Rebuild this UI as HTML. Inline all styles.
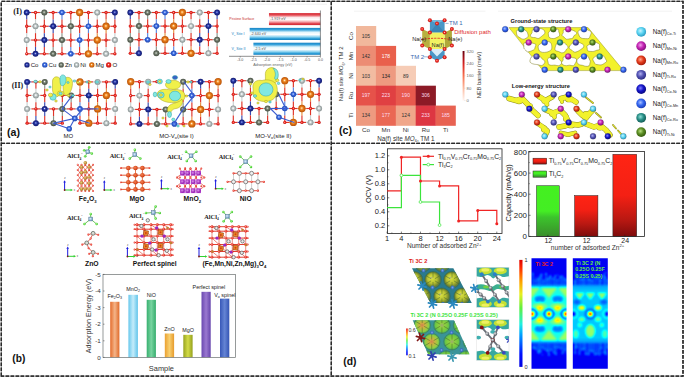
<!DOCTYPE html>
<html><head><meta charset="utf-8"><style>
html,body{margin:0;padding:0;background:#fff;overflow:hidden;}
svg{display:block;}
</style></head><body>
<svg width="685" height="378" viewBox="0 0 685 378">
<defs><radialGradient id="atC" cx="0.5" cy="0.5" r="0.55" fx="0.46" fy="0.44"><stop offset="0" stop-color="#ffffff" stop-opacity="0.95"/><stop offset="0.12" stop-color="#7080d8"/><stop offset="0.42" stop-color="#24329e"/><stop offset="1" stop-color="#101868"/></radialGradient><radialGradient id="atu" cx="0.5" cy="0.5" r="0.55" fx="0.46" fy="0.44"><stop offset="0" stop-color="#ffffff" stop-opacity="0.95"/><stop offset="0.12" stop-color="#a0bcff"/><stop offset="0.42" stop-color="#3a6ade"/><stop offset="1" stop-color="#1c40a8"/></radialGradient><radialGradient id="atZ" cx="0.5" cy="0.5" r="0.55" fx="0.46" fy="0.44"><stop offset="0" stop-color="#ffffff" stop-opacity="0.95"/><stop offset="0.12" stop-color="#b8c0b4"/><stop offset="0.42" stop-color="#6e786a"/><stop offset="1" stop-color="#40483c"/></radialGradient><radialGradient id="atN" cx="0.5" cy="0.5" r="0.55" fx="0.46" fy="0.44"><stop offset="0" stop-color="#ffffff" stop-opacity="0.95"/><stop offset="0.12" stop-color="#f4f8f8"/><stop offset="0.42" stop-color="#c0c8c8"/><stop offset="1" stop-color="#7c8686"/></radialGradient><radialGradient id="atM" cx="0.5" cy="0.5" r="0.55" fx="0.46" fy="0.44"><stop offset="0" stop-color="#ffffff" stop-opacity="0.95"/><stop offset="0.12" stop-color="#ffc880"/><stop offset="0.42" stop-color="#e87c18"/><stop offset="1" stop-color="#b04c06"/></radialGradient><radialGradient id="ato" cx="0.5" cy="0.5" r="0.55" fx="0.46" fy="0.44"><stop offset="0" stop-color="#ffffff" stop-opacity="0.95"/><stop offset="0.12" stop-color="#ff8a80"/><stop offset="0.42" stop-color="#ec2a22"/><stop offset="1" stop-color="#b81414"/></radialGradient><linearGradient id="redbar" x1="0" y1="0" x2="0" y2="1"><stop offset="0" stop-color="#d42832"/><stop offset="0.16" stop-color="#e44a52"/><stop offset="0.36" stop-color="#fce8ea"/><stop offset="0.55" stop-color="#ffffff"/><stop offset="0.74" stop-color="#f4a0a6"/><stop offset="0.88" stop-color="#e0404a"/><stop offset="1" stop-color="#d02832"/></linearGradient><linearGradient id="bluebar" x1="0" y1="0" x2="0" y2="1"><stop offset="0" stop-color="#1884c4"/><stop offset="0.16" stop-color="#38a4dc"/><stop offset="0.36" stop-color="#e4f6fc"/><stop offset="0.55" stop-color="#ffffff"/><stop offset="0.74" stop-color="#90d4f0"/><stop offset="0.88" stop-color="#30a0d8"/><stop offset="1" stop-color="#1480c0"/></linearGradient><radialGradient id="clg" cx="0.4" cy="0.4" r="0.6"><stop offset="0" stop-color="#b0ff90"/><stop offset="1" stop-color="#30c020"/></radialGradient><radialGradient id="alg" cx="0.4" cy="0.4" r="0.6"><stop offset="0" stop-color="#e0f0ff"/><stop offset="1" stop-color="#6a9ac0"/></radialGradient><radialGradient id="feg" cx="0.4" cy="0.4" r="0.6"><stop offset="0" stop-color="#f0d080"/><stop offset="1" stop-color="#a07018"/></radialGradient><radialGradient id="mgog" cx="0.4" cy="0.4" r="0.6"><stop offset="0" stop-color="#f88050"/><stop offset="1" stop-color="#c83810"/></radialGradient><radialGradient id="mng" cx="0.4" cy="0.4" r="0.6"><stop offset="0" stop-color="#e090f0"/><stop offset="1" stop-color="#8a18a8"/></radialGradient><radialGradient id="og" cx="0.4" cy="0.4" r="0.6"><stop offset="0" stop-color="#ff9080"/><stop offset="1" stop-color="#d81810"/></radialGradient><linearGradient id="bFe" x1="0" x2="1"><stop offset="0" stop-color="#e46c2c"/><stop offset="0.5" stop-color="#f4b488"/><stop offset="1" stop-color="#e06a2a"/></linearGradient><linearGradient id="bMn" x1="0" x2="1"><stop offset="0" stop-color="#68c8ec"/><stop offset="0.5" stop-color="#c4ecfa"/><stop offset="1" stop-color="#60c4ea"/></linearGradient><linearGradient id="bNi" x1="0" x2="1"><stop offset="0" stop-color="#38b070"/><stop offset="0.5" stop-color="#78d4a0"/><stop offset="1" stop-color="#34ac6c"/></linearGradient><linearGradient id="bZn" x1="0" x2="1"><stop offset="0" stop-color="#eaa030"/><stop offset="0.5" stop-color="#f8d070"/><stop offset="1" stop-color="#e69a2c"/></linearGradient><linearGradient id="bMg" x1="0" x2="1"><stop offset="0" stop-color="#98a420"/><stop offset="0.5" stop-color="#d4dc48"/><stop offset="1" stop-color="#94a01c"/></linearGradient><linearGradient id="bPS" x1="0" x2="1"><stop offset="0" stop-color="#6a48b0"/><stop offset="0.5" stop-color="#9a78d0"/><stop offset="1" stop-color="#6644ac"/></linearGradient><linearGradient id="bVo" x1="0" x2="1"><stop offset="0" stop-color="#3858b8"/><stop offset="0.5" stop-color="#6484d4"/><stop offset="1" stop-color="#3454b4"/></linearGradient><radialGradient id="nacy" cx="0.42" cy="0.4" r="0.62"><stop offset="0" stop-color="#c8f4ff"/><stop offset="0.5" stop-color="#5ad4f2"/><stop offset="1" stop-color="#2a98c0"/></radialGradient><radialGradient id="namg" cx="0.42" cy="0.4" r="0.62"><stop offset="0" stop-color="#f0a0ec"/><stop offset="0.5" stop-color="#c424b4"/><stop offset="1" stop-color="#80107a"/></radialGradient><radialGradient id="nard" cx="0.42" cy="0.4" r="0.62"><stop offset="0" stop-color="#ffa890"/><stop offset="0.5" stop-color="#e43c1c"/><stop offset="1" stop-color="#a01808"/></radialGradient><radialGradient id="nasl" cx="0.42" cy="0.4" r="0.62"><stop offset="0" stop-color="#b0b0f0"/><stop offset="0.5" stop-color="#5454b4"/><stop offset="1" stop-color="#2a2a80"/></radialGradient><radialGradient id="nanv" cx="0.42" cy="0.4" r="0.62"><stop offset="0" stop-color="#8080ff"/><stop offset="0.5" stop-color="#1414c8"/><stop offset="1" stop-color="#080878"/></radialGradient><radialGradient id="nabl" cx="0.42" cy="0.4" r="0.62"><stop offset="0" stop-color="#a8c0ff"/><stop offset="0.5" stop-color="#3466f0"/><stop offset="1" stop-color="#1a3ab0"/></radialGradient><radialGradient id="natl" cx="0.42" cy="0.4" r="0.62"><stop offset="0" stop-color="#90e0d8"/><stop offset="0.5" stop-color="#2a9088"/><stop offset="1" stop-color="#135a54"/></radialGradient><radialGradient id="naol" cx="0.42" cy="0.4" r="0.62"><stop offset="0" stop-color="#b8e080"/><stop offset="0.5" stop-color="#5a8c22"/><stop offset="1" stop-color="#335810"/></radialGradient><linearGradient id="nebcb" x1="0" y1="1" x2="0" y2="0"><stop offset="0" stop-color="#fff5f0"/><stop offset="0.25" stop-color="#fcbba1"/><stop offset="0.5" stop-color="#f8704e"/><stop offset="0.75" stop-color="#d42020"/><stop offset="1" stop-color="#6a000e"/></linearGradient><linearGradient id="cg" x1="0" y1="0" x2="0" y2="1"><stop offset="0" stop-color="#44f020"/><stop offset="0.5" stop-color="#44ee24"/><stop offset="0.62" stop-color="#3cc42c"/><stop offset="1" stop-color="#3a8e2a"/></linearGradient><linearGradient id="cr" x1="0" y1="0" x2="0" y2="1"><stop offset="0" stop-color="#ff2414"/><stop offset="0.35" stop-color="#f42014"/><stop offset="0.7" stop-color="#b81812"/><stop offset="1" stop-color="#7e0c0c"/></linearGradient><linearGradient id="cr2" x1="0" y1="0" x2="0" y2="1"><stop offset="0" stop-color="#ff2414"/><stop offset="0.5" stop-color="#f42014"/><stop offset="0.8" stop-color="#b81812"/><stop offset="1" stop-color="#7e0c0c"/></linearGradient><linearGradient id="jet" x1="0" y1="1" x2="0" y2="0"><stop offset="0" stop-color="#0000e0"/><stop offset="0.12" stop-color="#0010ff"/><stop offset="0.3" stop-color="#00a0ff"/><stop offset="0.4" stop-color="#20f0e0"/><stop offset="0.55" stop-color="#60f040"/><stop offset="0.68" stop-color="#e8f020"/><stop offset="0.8" stop-color="#ffa000"/><stop offset="0.92" stop-color="#ff3000"/><stop offset="1" stop-color="#e00000"/></linearGradient><filter id="jetf" x="-5%" y="-5%" width="110%" height="110%" color-interpolation-filters="sRGB"><feGaussianBlur stdDeviation="0.9"/><feComponentTransfer><feFuncR type="table" tableValues="0 0 0 0 0.5 1 1 1 0.5"/><feFuncG type="table" tableValues="0 0 0.5 1 1 1 0.5 0 0"/><feFuncB type="table" tableValues="0.5 1 1 1 0.5 0 0 0 0"/></feComponentTransfer></filter><radialGradient id="tvy" cx="0.5" cy="0.5" r="0.5" fx="0.38" fy="0.36"><stop offset="0" stop-color="#a8a890"/><stop offset="0.18" stop-color="#d4dc40"/><stop offset="0.55" stop-color="#b8c030"/><stop offset="0.85" stop-color="#6a8030"/><stop offset="1" stop-color="#2a7088"/></radialGradient><radialGradient id="tvo" cx="0.5" cy="0.5" r="0.5"><stop offset="0" stop-color="#d08050"/><stop offset="0.3" stop-color="#d0b040"/><stop offset="0.75" stop-color="#90d040"/><stop offset="0.92" stop-color="#50a860"/><stop offset="1" stop-color="#3a9c98"/></radialGradient><radialGradient id="tvg" cx="0.5" cy="0.5" r="0.5"><stop offset="0" stop-color="#a0a870"/><stop offset="0.3" stop-color="#90d040"/><stop offset="0.75" stop-color="#70c840"/><stop offset="0.92" stop-color="#40a070"/><stop offset="1" stop-color="#3a9c98"/></radialGradient><radialGradient id="grayat" cx="0.4" cy="0.4" r="0.6"><stop offset="0" stop-color="#e8e8e8"/><stop offset="0.5" stop-color="#9a9ea4"/><stop offset="1" stop-color="#50545a"/></radialGradient><linearGradient id="bandg" x1="0" y1="0" x2="0" y2="1"><stop offset="0" stop-color="#40d8f0"/><stop offset="0.1" stop-color="#50e8c0"/><stop offset="0.5" stop-color="#40e0d0"/><stop offset="0.9" stop-color="#50e8c0"/><stop offset="1" stop-color="#40d8f0"/></linearGradient><clipPath id="clip1"><polygon points="412,268.3 453.3,268.3 471.8,302.90000000000003 430.5,302.90000000000003"/></clipPath><clipPath id="clip2"><polygon points="412.7,320.3 453.9,320.3 469.4,354.3 428.2,354.3"/></clipPath><clipPath id="sclip1"><rect x="476.6" y="267.3" width="32.4" height="40.3"/></clipPath><clipPath id="sclip2"><rect x="476.6" y="319.6" width="32.4" height="41.0"/></clipPath><clipPath id="mclip1"><rect x="531.5" y="258.2" width="35" height="110.6"/></clipPath><clipPath id="mclip2"><rect x="572.8" y="258.2" width="35" height="110.6"/></clipPath></defs>
<rect width="685" height="378" fill="#fff"/>
<path d="M1.3 376.2 L1.3 1.4 L683 1.4 L683 376.2 Z" stroke="#2a2a2a" stroke-width="1.3" stroke-dasharray="3.8 1.2" fill="none"/>
<line x1="331.3" y1="1.4" x2="331.3" y2="376.2" stroke="#2a2a2a" stroke-width="1.3" stroke-dasharray="3.8 1.2" fill="none"/>
<line x1="1.3" y1="143.4" x2="683" y2="143.4" stroke="#2a2a2a" stroke-width="1.3" stroke-dasharray="3.8 1.2" fill="none"/>
<line x1="4.00" y1="4.20" x2="327.00" y2="4.20" stroke="#ececec" stroke-width="0.8" />
<text x="13.30" y="13.90" font-size="8.3" fill="#222" text-anchor="start" font-weight="bold" font-family='"Liberation Serif", serif' >(I)</text>
<text x="11.70" y="87.90" font-size="8.0" fill="#222" text-anchor="start" font-weight="bold" font-family='"Liberation Serif", serif' >(II)</text>
<line x1="26.70" y1="12.50" x2="31.11" y2="12.50" stroke="#3a4ab0" stroke-width="1.15" />
<line x1="31.11" y1="12.50" x2="35.52" y2="12.50" stroke="#e03428" stroke-width="1.15" />
<line x1="26.70" y1="12.50" x2="26.70" y2="19.38" stroke="#3a4ab0" stroke-width="1.15" />
<line x1="26.70" y1="19.38" x2="26.70" y2="26.27" stroke="#e03428" stroke-width="1.15" />
<line x1="35.52" y1="12.50" x2="39.93" y2="12.50" stroke="#e03428" stroke-width="1.15" />
<line x1="39.93" y1="12.50" x2="44.34" y2="12.50" stroke="#8a9488" stroke-width="1.15" />
<line x1="35.52" y1="12.50" x2="35.52" y2="19.38" stroke="#e03428" stroke-width="1.15" />
<line x1="35.52" y1="19.38" x2="35.52" y2="26.27" stroke="#c8d0d0" stroke-width="1.15" />
<line x1="44.34" y1="12.50" x2="48.75" y2="12.50" stroke="#8a9488" stroke-width="1.15" />
<line x1="48.75" y1="12.50" x2="53.16" y2="12.50" stroke="#e03428" stroke-width="1.15" />
<line x1="44.34" y1="12.50" x2="44.34" y2="19.38" stroke="#8a9488" stroke-width="1.15" />
<line x1="44.34" y1="19.38" x2="44.34" y2="26.27" stroke="#e03428" stroke-width="1.15" />
<line x1="53.16" y1="12.50" x2="57.57" y2="12.50" stroke="#e03428" stroke-width="1.15" />
<line x1="57.57" y1="12.50" x2="61.98" y2="12.50" stroke="#5a86e0" stroke-width="1.15" />
<line x1="53.16" y1="12.50" x2="53.16" y2="19.38" stroke="#e03428" stroke-width="1.15" />
<line x1="53.16" y1="19.38" x2="53.16" y2="26.27" stroke="#3a4ab0" stroke-width="1.15" />
<line x1="61.98" y1="12.50" x2="66.39" y2="12.50" stroke="#5a86e0" stroke-width="1.15" />
<line x1="66.39" y1="12.50" x2="70.80" y2="12.50" stroke="#e03428" stroke-width="1.15" />
<line x1="61.98" y1="12.50" x2="61.98" y2="19.38" stroke="#5a86e0" stroke-width="1.15" />
<line x1="61.98" y1="19.38" x2="61.98" y2="26.27" stroke="#e03428" stroke-width="1.15" />
<line x1="70.80" y1="12.50" x2="75.21" y2="12.50" stroke="#e03428" stroke-width="1.15" />
<line x1="75.21" y1="12.50" x2="79.62" y2="12.50" stroke="#e89040" stroke-width="1.15" />
<line x1="70.80" y1="12.50" x2="70.80" y2="19.38" stroke="#e03428" stroke-width="1.15" />
<line x1="70.80" y1="19.38" x2="70.80" y2="26.27" stroke="#8a9488" stroke-width="1.15" />
<line x1="79.62" y1="12.50" x2="84.03" y2="12.50" stroke="#e89040" stroke-width="1.15" />
<line x1="84.03" y1="12.50" x2="88.44" y2="12.50" stroke="#e03428" stroke-width="1.15" />
<line x1="79.62" y1="12.50" x2="79.62" y2="19.38" stroke="#e89040" stroke-width="1.15" />
<line x1="79.62" y1="19.38" x2="79.62" y2="26.27" stroke="#e03428" stroke-width="1.15" />
<line x1="88.44" y1="12.50" x2="92.85" y2="12.50" stroke="#e03428" stroke-width="1.15" />
<line x1="92.85" y1="12.50" x2="97.26" y2="12.50" stroke="#c8d0d0" stroke-width="1.15" />
<line x1="88.44" y1="12.50" x2="88.44" y2="19.38" stroke="#e03428" stroke-width="1.15" />
<line x1="88.44" y1="19.38" x2="88.44" y2="26.27" stroke="#5a86e0" stroke-width="1.15" />
<line x1="97.26" y1="12.50" x2="101.67" y2="12.50" stroke="#c8d0d0" stroke-width="1.15" />
<line x1="101.67" y1="12.50" x2="106.08" y2="12.50" stroke="#e03428" stroke-width="1.15" />
<line x1="97.26" y1="12.50" x2="97.26" y2="19.38" stroke="#c8d0d0" stroke-width="1.15" />
<line x1="97.26" y1="19.38" x2="97.26" y2="26.27" stroke="#e03428" stroke-width="1.15" />
<line x1="106.08" y1="12.50" x2="110.49" y2="12.50" stroke="#e03428" stroke-width="1.15" />
<line x1="110.49" y1="12.50" x2="114.90" y2="12.50" stroke="#3a4ab0" stroke-width="1.15" />
<line x1="106.08" y1="12.50" x2="106.08" y2="19.38" stroke="#e03428" stroke-width="1.15" />
<line x1="106.08" y1="19.38" x2="106.08" y2="26.27" stroke="#e89040" stroke-width="1.15" />
<line x1="114.90" y1="12.50" x2="114.90" y2="19.38" stroke="#3a4ab0" stroke-width="1.15" />
<line x1="114.90" y1="19.38" x2="114.90" y2="26.27" stroke="#e03428" stroke-width="1.15" />
<line x1="26.70" y1="26.27" x2="31.11" y2="26.27" stroke="#e03428" stroke-width="1.15" />
<line x1="31.11" y1="26.27" x2="35.52" y2="26.27" stroke="#c8d0d0" stroke-width="1.15" />
<line x1="26.70" y1="26.27" x2="26.70" y2="33.16" stroke="#e03428" stroke-width="1.15" />
<line x1="26.70" y1="33.16" x2="26.70" y2="40.04" stroke="#c8d0d0" stroke-width="1.15" />
<line x1="35.52" y1="26.27" x2="39.93" y2="26.27" stroke="#c8d0d0" stroke-width="1.15" />
<line x1="39.93" y1="26.27" x2="44.34" y2="26.27" stroke="#e03428" stroke-width="1.15" />
<line x1="35.52" y1="26.27" x2="35.52" y2="33.16" stroke="#c8d0d0" stroke-width="1.15" />
<line x1="35.52" y1="33.16" x2="35.52" y2="40.04" stroke="#e03428" stroke-width="1.15" />
<line x1="44.34" y1="26.27" x2="48.75" y2="26.27" stroke="#e03428" stroke-width="1.15" />
<line x1="48.75" y1="26.27" x2="53.16" y2="26.27" stroke="#3a4ab0" stroke-width="1.15" />
<line x1="44.34" y1="26.27" x2="44.34" y2="33.16" stroke="#e03428" stroke-width="1.15" />
<line x1="44.34" y1="33.16" x2="44.34" y2="40.04" stroke="#3a4ab0" stroke-width="1.15" />
<line x1="53.16" y1="26.27" x2="57.57" y2="26.27" stroke="#3a4ab0" stroke-width="1.15" />
<line x1="57.57" y1="26.27" x2="61.98" y2="26.27" stroke="#e03428" stroke-width="1.15" />
<line x1="53.16" y1="26.27" x2="53.16" y2="33.16" stroke="#3a4ab0" stroke-width="1.15" />
<line x1="53.16" y1="33.16" x2="53.16" y2="40.04" stroke="#e03428" stroke-width="1.15" />
<line x1="61.98" y1="26.27" x2="66.39" y2="26.27" stroke="#e03428" stroke-width="1.15" />
<line x1="66.39" y1="26.27" x2="70.80" y2="26.27" stroke="#8a9488" stroke-width="1.15" />
<line x1="61.98" y1="26.27" x2="61.98" y2="33.16" stroke="#e03428" stroke-width="1.15" />
<line x1="61.98" y1="33.16" x2="61.98" y2="40.04" stroke="#8a9488" stroke-width="1.15" />
<line x1="70.80" y1="26.27" x2="75.21" y2="26.27" stroke="#8a9488" stroke-width="1.15" />
<line x1="75.21" y1="26.27" x2="79.62" y2="26.27" stroke="#e03428" stroke-width="1.15" />
<line x1="70.80" y1="26.27" x2="70.80" y2="33.16" stroke="#8a9488" stroke-width="1.15" />
<line x1="70.80" y1="33.16" x2="70.80" y2="40.04" stroke="#e03428" stroke-width="1.15" />
<line x1="79.62" y1="26.27" x2="84.03" y2="26.27" stroke="#e03428" stroke-width="1.15" />
<line x1="84.03" y1="26.27" x2="88.44" y2="26.27" stroke="#5a86e0" stroke-width="1.15" />
<line x1="79.62" y1="26.27" x2="79.62" y2="33.16" stroke="#e03428" stroke-width="1.15" />
<line x1="79.62" y1="33.16" x2="79.62" y2="40.04" stroke="#5a86e0" stroke-width="1.15" />
<line x1="88.44" y1="26.27" x2="92.85" y2="26.27" stroke="#5a86e0" stroke-width="1.15" />
<line x1="92.85" y1="26.27" x2="97.26" y2="26.27" stroke="#e03428" stroke-width="1.15" />
<line x1="88.44" y1="26.27" x2="88.44" y2="33.16" stroke="#5a86e0" stroke-width="1.15" />
<line x1="88.44" y1="33.16" x2="88.44" y2="40.04" stroke="#e03428" stroke-width="1.15" />
<line x1="97.26" y1="26.27" x2="101.67" y2="26.27" stroke="#e03428" stroke-width="1.15" />
<line x1="101.67" y1="26.27" x2="106.08" y2="26.27" stroke="#e89040" stroke-width="1.15" />
<line x1="97.26" y1="26.27" x2="97.26" y2="33.16" stroke="#e03428" stroke-width="1.15" />
<line x1="97.26" y1="33.16" x2="97.26" y2="40.04" stroke="#e89040" stroke-width="1.15" />
<line x1="106.08" y1="26.27" x2="110.49" y2="26.27" stroke="#e89040" stroke-width="1.15" />
<line x1="110.49" y1="26.27" x2="114.90" y2="26.27" stroke="#e03428" stroke-width="1.15" />
<line x1="106.08" y1="26.27" x2="106.08" y2="33.16" stroke="#e89040" stroke-width="1.15" />
<line x1="106.08" y1="33.16" x2="106.08" y2="40.04" stroke="#e03428" stroke-width="1.15" />
<line x1="114.90" y1="26.27" x2="114.90" y2="33.16" stroke="#e03428" stroke-width="1.15" />
<line x1="114.90" y1="33.16" x2="114.90" y2="40.04" stroke="#c8d0d0" stroke-width="1.15" />
<line x1="26.70" y1="40.04" x2="31.11" y2="40.04" stroke="#c8d0d0" stroke-width="1.15" />
<line x1="31.11" y1="40.04" x2="35.52" y2="40.04" stroke="#e03428" stroke-width="1.15" />
<line x1="26.70" y1="40.04" x2="26.70" y2="46.92" stroke="#c8d0d0" stroke-width="1.15" />
<line x1="26.70" y1="46.92" x2="26.70" y2="53.81" stroke="#e03428" stroke-width="1.15" />
<line x1="35.52" y1="40.04" x2="39.93" y2="40.04" stroke="#e03428" stroke-width="1.15" />
<line x1="39.93" y1="40.04" x2="44.34" y2="40.04" stroke="#3a4ab0" stroke-width="1.15" />
<line x1="35.52" y1="40.04" x2="35.52" y2="46.92" stroke="#e03428" stroke-width="1.15" />
<line x1="35.52" y1="46.92" x2="35.52" y2="53.81" stroke="#3a4ab0" stroke-width="1.15" />
<line x1="44.34" y1="40.04" x2="48.75" y2="40.04" stroke="#3a4ab0" stroke-width="1.15" />
<line x1="48.75" y1="40.04" x2="53.16" y2="40.04" stroke="#e03428" stroke-width="1.15" />
<line x1="44.34" y1="40.04" x2="44.34" y2="46.92" stroke="#3a4ab0" stroke-width="1.15" />
<line x1="44.34" y1="46.92" x2="44.34" y2="53.81" stroke="#e03428" stroke-width="1.15" />
<line x1="53.16" y1="40.04" x2="57.57" y2="40.04" stroke="#e03428" stroke-width="1.15" />
<line x1="57.57" y1="40.04" x2="61.98" y2="40.04" stroke="#8a9488" stroke-width="1.15" />
<line x1="53.16" y1="40.04" x2="53.16" y2="46.92" stroke="#e03428" stroke-width="1.15" />
<line x1="53.16" y1="46.92" x2="53.16" y2="53.81" stroke="#8a9488" stroke-width="1.15" />
<line x1="61.98" y1="40.04" x2="66.39" y2="40.04" stroke="#8a9488" stroke-width="1.15" />
<line x1="66.39" y1="40.04" x2="70.80" y2="40.04" stroke="#e03428" stroke-width="1.15" />
<line x1="61.98" y1="40.04" x2="61.98" y2="46.92" stroke="#8a9488" stroke-width="1.15" />
<line x1="61.98" y1="46.92" x2="61.98" y2="53.81" stroke="#e03428" stroke-width="1.15" />
<line x1="70.80" y1="40.04" x2="75.21" y2="40.04" stroke="#e03428" stroke-width="1.15" />
<line x1="75.21" y1="40.04" x2="79.62" y2="40.04" stroke="#5a86e0" stroke-width="1.15" />
<line x1="70.80" y1="40.04" x2="70.80" y2="46.92" stroke="#e03428" stroke-width="1.15" />
<line x1="70.80" y1="46.92" x2="70.80" y2="53.81" stroke="#5a86e0" stroke-width="1.15" />
<line x1="79.62" y1="40.04" x2="84.03" y2="40.04" stroke="#5a86e0" stroke-width="1.15" />
<line x1="84.03" y1="40.04" x2="88.44" y2="40.04" stroke="#e03428" stroke-width="1.15" />
<line x1="79.62" y1="40.04" x2="79.62" y2="46.92" stroke="#5a86e0" stroke-width="1.15" />
<line x1="79.62" y1="46.92" x2="79.62" y2="53.81" stroke="#e03428" stroke-width="1.15" />
<line x1="88.44" y1="40.04" x2="92.85" y2="40.04" stroke="#e03428" stroke-width="1.15" />
<line x1="92.85" y1="40.04" x2="97.26" y2="40.04" stroke="#e89040" stroke-width="1.15" />
<line x1="88.44" y1="40.04" x2="88.44" y2="46.92" stroke="#e03428" stroke-width="1.15" />
<line x1="88.44" y1="46.92" x2="88.44" y2="53.81" stroke="#e89040" stroke-width="1.15" />
<line x1="97.26" y1="40.04" x2="101.67" y2="40.04" stroke="#e89040" stroke-width="1.15" />
<line x1="101.67" y1="40.04" x2="106.08" y2="40.04" stroke="#e03428" stroke-width="1.15" />
<line x1="97.26" y1="40.04" x2="97.26" y2="46.92" stroke="#e89040" stroke-width="1.15" />
<line x1="97.26" y1="46.92" x2="97.26" y2="53.81" stroke="#e03428" stroke-width="1.15" />
<line x1="106.08" y1="40.04" x2="110.49" y2="40.04" stroke="#e03428" stroke-width="1.15" />
<line x1="110.49" y1="40.04" x2="114.90" y2="40.04" stroke="#c8d0d0" stroke-width="1.15" />
<line x1="106.08" y1="40.04" x2="106.08" y2="46.92" stroke="#e03428" stroke-width="1.15" />
<line x1="106.08" y1="46.92" x2="106.08" y2="53.81" stroke="#c8d0d0" stroke-width="1.15" />
<line x1="114.90" y1="40.04" x2="114.90" y2="46.92" stroke="#c8d0d0" stroke-width="1.15" />
<line x1="114.90" y1="46.92" x2="114.90" y2="53.81" stroke="#e03428" stroke-width="1.15" />
<line x1="26.70" y1="53.81" x2="31.11" y2="53.81" stroke="#e03428" stroke-width="1.15" />
<line x1="31.11" y1="53.81" x2="35.52" y2="53.81" stroke="#3a4ab0" stroke-width="1.15" />
<line x1="35.52" y1="53.81" x2="39.93" y2="53.81" stroke="#3a4ab0" stroke-width="1.15" />
<line x1="39.93" y1="53.81" x2="44.34" y2="53.81" stroke="#e03428" stroke-width="1.15" />
<line x1="44.34" y1="53.81" x2="48.75" y2="53.81" stroke="#e03428" stroke-width="1.15" />
<line x1="48.75" y1="53.81" x2="53.16" y2="53.81" stroke="#8a9488" stroke-width="1.15" />
<line x1="53.16" y1="53.81" x2="57.57" y2="53.81" stroke="#8a9488" stroke-width="1.15" />
<line x1="57.57" y1="53.81" x2="61.98" y2="53.81" stroke="#e03428" stroke-width="1.15" />
<line x1="61.98" y1="53.81" x2="66.39" y2="53.81" stroke="#e03428" stroke-width="1.15" />
<line x1="66.39" y1="53.81" x2="70.80" y2="53.81" stroke="#5a86e0" stroke-width="1.15" />
<line x1="70.80" y1="53.81" x2="75.21" y2="53.81" stroke="#5a86e0" stroke-width="1.15" />
<line x1="75.21" y1="53.81" x2="79.62" y2="53.81" stroke="#e03428" stroke-width="1.15" />
<line x1="79.62" y1="53.81" x2="84.03" y2="53.81" stroke="#e03428" stroke-width="1.15" />
<line x1="84.03" y1="53.81" x2="88.44" y2="53.81" stroke="#e89040" stroke-width="1.15" />
<line x1="88.44" y1="53.81" x2="92.85" y2="53.81" stroke="#e89040" stroke-width="1.15" />
<line x1="92.85" y1="53.81" x2="97.26" y2="53.81" stroke="#e03428" stroke-width="1.15" />
<line x1="97.26" y1="53.81" x2="101.67" y2="53.81" stroke="#e03428" stroke-width="1.15" />
<line x1="101.67" y1="53.81" x2="106.08" y2="53.81" stroke="#c8d0d0" stroke-width="1.15" />
<line x1="106.08" y1="53.81" x2="110.49" y2="53.81" stroke="#c8d0d0" stroke-width="1.15" />
<line x1="110.49" y1="53.81" x2="114.90" y2="53.81" stroke="#e03428" stroke-width="1.15" />
<circle cx="35.52" cy="12.50" r="1.65" fill="url(#ato)" />
<circle cx="53.16" cy="12.50" r="1.65" fill="url(#ato)" />
<circle cx="70.80" cy="12.50" r="1.65" fill="url(#ato)" />
<circle cx="88.44" cy="12.50" r="1.65" fill="url(#ato)" />
<circle cx="106.08" cy="12.50" r="1.65" fill="url(#ato)" />
<circle cx="26.70" cy="26.27" r="1.65" fill="url(#ato)" />
<circle cx="44.34" cy="26.27" r="1.65" fill="url(#ato)" />
<circle cx="61.98" cy="26.27" r="1.65" fill="url(#ato)" />
<circle cx="79.62" cy="26.27" r="1.65" fill="url(#ato)" />
<circle cx="97.26" cy="26.27" r="1.65" fill="url(#ato)" />
<circle cx="114.90" cy="26.27" r="1.65" fill="url(#ato)" />
<circle cx="35.52" cy="40.04" r="1.65" fill="url(#ato)" />
<circle cx="53.16" cy="40.04" r="1.65" fill="url(#ato)" />
<circle cx="70.80" cy="40.04" r="1.65" fill="url(#ato)" />
<circle cx="88.44" cy="40.04" r="1.65" fill="url(#ato)" />
<circle cx="106.08" cy="40.04" r="1.65" fill="url(#ato)" />
<circle cx="26.70" cy="53.81" r="1.65" fill="url(#ato)" />
<circle cx="44.34" cy="53.81" r="1.65" fill="url(#ato)" />
<circle cx="61.98" cy="53.81" r="1.65" fill="url(#ato)" />
<circle cx="79.62" cy="53.81" r="1.65" fill="url(#ato)" />
<circle cx="97.26" cy="53.81" r="1.65" fill="url(#ato)" />
<circle cx="114.90" cy="53.81" r="1.65" fill="url(#ato)" />
<circle cx="26.70" cy="12.50" r="2.95" fill="url(#atC)" />
<circle cx="44.34" cy="12.50" r="3.00" fill="url(#atZ)" />
<circle cx="61.98" cy="12.50" r="2.80" fill="url(#atu)" />
<circle cx="79.62" cy="12.50" r="3.65" fill="url(#atM)" />
<circle cx="97.26" cy="12.50" r="2.95" fill="url(#atN)" />
<circle cx="114.90" cy="12.50" r="2.95" fill="url(#atC)" />
<circle cx="35.52" cy="26.27" r="2.95" fill="url(#atN)" />
<circle cx="53.16" cy="26.27" r="2.95" fill="url(#atC)" />
<circle cx="70.80" cy="26.27" r="3.00" fill="url(#atZ)" />
<circle cx="88.44" cy="26.27" r="2.80" fill="url(#atu)" />
<circle cx="106.08" cy="26.27" r="3.65" fill="url(#atM)" />
<circle cx="26.70" cy="40.04" r="2.95" fill="url(#atN)" />
<circle cx="44.34" cy="40.04" r="2.95" fill="url(#atC)" />
<circle cx="61.98" cy="40.04" r="3.00" fill="url(#atZ)" />
<circle cx="79.62" cy="40.04" r="2.80" fill="url(#atu)" />
<circle cx="97.26" cy="40.04" r="3.65" fill="url(#atM)" />
<circle cx="114.90" cy="40.04" r="2.95" fill="url(#atN)" />
<circle cx="35.52" cy="53.81" r="2.95" fill="url(#atC)" />
<circle cx="53.16" cy="53.81" r="3.00" fill="url(#atZ)" />
<circle cx="70.80" cy="53.81" r="2.80" fill="url(#atu)" />
<circle cx="88.44" cy="53.81" r="3.65" fill="url(#atM)" />
<circle cx="106.08" cy="53.81" r="2.95" fill="url(#atN)" />
<line x1="130.30" y1="12.50" x2="134.64" y2="12.50" stroke="#3a4ab0" stroke-width="1.15" />
<line x1="134.64" y1="12.50" x2="138.98" y2="12.50" stroke="#e03428" stroke-width="1.15" />
<line x1="130.30" y1="12.50" x2="130.30" y2="19.30" stroke="#3a4ab0" stroke-width="1.15" />
<line x1="130.30" y1="19.30" x2="130.30" y2="26.10" stroke="#e03428" stroke-width="1.15" />
<line x1="138.98" y1="12.50" x2="143.32" y2="12.50" stroke="#e03428" stroke-width="1.15" />
<line x1="143.32" y1="12.50" x2="147.66" y2="12.50" stroke="#8a9488" stroke-width="1.15" />
<line x1="138.98" y1="12.50" x2="138.98" y2="19.30" stroke="#e03428" stroke-width="1.15" />
<line x1="138.98" y1="19.30" x2="138.98" y2="26.10" stroke="#8a9488" stroke-width="1.15" />
<line x1="147.66" y1="12.50" x2="152.00" y2="12.50" stroke="#8a9488" stroke-width="1.15" />
<line x1="152.00" y1="12.50" x2="156.34" y2="12.50" stroke="#e03428" stroke-width="1.15" />
<line x1="147.66" y1="12.50" x2="147.66" y2="19.30" stroke="#8a9488" stroke-width="1.15" />
<line x1="147.66" y1="19.30" x2="147.66" y2="26.10" stroke="#e03428" stroke-width="1.15" />
<line x1="156.34" y1="12.50" x2="160.68" y2="12.50" stroke="#e03428" stroke-width="1.15" />
<line x1="160.68" y1="12.50" x2="165.02" y2="12.50" stroke="#5a86e0" stroke-width="1.15" />
<line x1="156.34" y1="12.50" x2="156.34" y2="19.30" stroke="#e03428" stroke-width="1.15" />
<line x1="156.34" y1="19.30" x2="156.34" y2="26.10" stroke="#5a86e0" stroke-width="1.15" />
<line x1="165.02" y1="12.50" x2="169.36" y2="12.50" stroke="#5a86e0" stroke-width="1.15" />
<line x1="169.36" y1="12.50" x2="173.70" y2="12.50" stroke="#e03428" stroke-width="1.15" />
<line x1="165.02" y1="12.50" x2="165.02" y2="19.30" stroke="#5a86e0" stroke-width="1.15" />
<line x1="165.02" y1="19.30" x2="165.02" y2="26.10" stroke="#e03428" stroke-width="1.15" />
<line x1="173.70" y1="12.50" x2="178.04" y2="12.50" stroke="#e03428" stroke-width="1.15" />
<line x1="178.04" y1="12.50" x2="182.38" y2="12.50" stroke="#e89040" stroke-width="1.15" />
<line x1="173.70" y1="12.50" x2="173.70" y2="19.30" stroke="#e03428" stroke-width="1.15" />
<line x1="173.70" y1="19.30" x2="173.70" y2="26.10" stroke="#e89040" stroke-width="1.15" />
<line x1="182.38" y1="12.50" x2="186.72" y2="12.50" stroke="#e89040" stroke-width="1.15" />
<line x1="186.72" y1="12.50" x2="191.06" y2="12.50" stroke="#e03428" stroke-width="1.15" />
<line x1="182.38" y1="12.50" x2="182.38" y2="19.30" stroke="#e89040" stroke-width="1.15" />
<line x1="182.38" y1="19.30" x2="182.38" y2="26.10" stroke="#e03428" stroke-width="1.15" />
<line x1="191.06" y1="12.50" x2="195.40" y2="12.50" stroke="#e03428" stroke-width="1.15" />
<line x1="195.40" y1="12.50" x2="199.74" y2="12.50" stroke="#c8d0d0" stroke-width="1.15" />
<line x1="191.06" y1="12.50" x2="191.06" y2="19.30" stroke="#e03428" stroke-width="1.15" />
<line x1="191.06" y1="19.30" x2="191.06" y2="26.10" stroke="#c8d0d0" stroke-width="1.15" />
<line x1="199.74" y1="12.50" x2="204.08" y2="12.50" stroke="#c8d0d0" stroke-width="1.15" />
<line x1="204.08" y1="12.50" x2="208.42" y2="12.50" stroke="#e03428" stroke-width="1.15" />
<line x1="199.74" y1="12.50" x2="199.74" y2="19.30" stroke="#c8d0d0" stroke-width="1.15" />
<line x1="199.74" y1="19.30" x2="199.74" y2="26.10" stroke="#e03428" stroke-width="1.15" />
<line x1="208.42" y1="12.50" x2="212.76" y2="12.50" stroke="#e03428" stroke-width="1.15" />
<line x1="212.76" y1="12.50" x2="217.10" y2="12.50" stroke="#3a4ab0" stroke-width="1.15" />
<line x1="208.42" y1="12.50" x2="208.42" y2="19.30" stroke="#e03428" stroke-width="1.15" />
<line x1="208.42" y1="19.30" x2="208.42" y2="26.10" stroke="#3a4ab0" stroke-width="1.15" />
<line x1="217.10" y1="12.50" x2="217.10" y2="19.30" stroke="#3a4ab0" stroke-width="1.15" />
<line x1="217.10" y1="19.30" x2="217.10" y2="26.10" stroke="#e03428" stroke-width="1.15" />
<line x1="130.30" y1="26.10" x2="134.64" y2="26.10" stroke="#e03428" stroke-width="1.15" />
<line x1="134.64" y1="26.10" x2="138.98" y2="26.10" stroke="#8a9488" stroke-width="1.15" />
<line x1="130.30" y1="26.10" x2="130.30" y2="32.90" stroke="#e03428" stroke-width="1.15" />
<line x1="130.30" y1="32.90" x2="130.30" y2="39.70" stroke="#8a9488" stroke-width="1.15" />
<line x1="138.98" y1="26.10" x2="143.32" y2="26.10" stroke="#8a9488" stroke-width="1.15" />
<line x1="143.32" y1="26.10" x2="147.66" y2="26.10" stroke="#e03428" stroke-width="1.15" />
<line x1="138.98" y1="26.10" x2="138.98" y2="32.90" stroke="#8a9488" stroke-width="1.15" />
<line x1="138.98" y1="32.90" x2="138.98" y2="39.70" stroke="#e03428" stroke-width="1.15" />
<line x1="147.66" y1="26.10" x2="152.00" y2="26.10" stroke="#e03428" stroke-width="1.15" />
<line x1="152.00" y1="26.10" x2="156.34" y2="26.10" stroke="#5a86e0" stroke-width="1.15" />
<line x1="147.66" y1="26.10" x2="147.66" y2="32.90" stroke="#e03428" stroke-width="1.15" />
<line x1="147.66" y1="32.90" x2="147.66" y2="39.70" stroke="#5a86e0" stroke-width="1.15" />
<line x1="156.34" y1="26.10" x2="160.68" y2="26.10" stroke="#5a86e0" stroke-width="1.15" />
<line x1="160.68" y1="26.10" x2="165.02" y2="26.10" stroke="#e03428" stroke-width="1.15" />
<line x1="156.34" y1="26.10" x2="156.34" y2="32.90" stroke="#5a86e0" stroke-width="1.15" />
<line x1="156.34" y1="32.90" x2="156.34" y2="39.70" stroke="#e03428" stroke-width="1.15" />
<line x1="165.02" y1="26.10" x2="169.36" y2="26.10" stroke="#e03428" stroke-width="1.15" />
<line x1="169.36" y1="26.10" x2="173.70" y2="26.10" stroke="#e89040" stroke-width="1.15" />
<line x1="165.02" y1="26.10" x2="165.02" y2="32.90" stroke="#e03428" stroke-width="1.15" />
<line x1="165.02" y1="32.90" x2="165.02" y2="39.70" stroke="#e89040" stroke-width="1.15" />
<line x1="173.70" y1="26.10" x2="178.04" y2="26.10" stroke="#e89040" stroke-width="1.15" />
<line x1="178.04" y1="26.10" x2="182.38" y2="26.10" stroke="#e03428" stroke-width="1.15" />
<line x1="173.70" y1="26.10" x2="173.70" y2="32.90" stroke="#e89040" stroke-width="1.15" />
<line x1="173.70" y1="32.90" x2="173.70" y2="39.70" stroke="#e03428" stroke-width="1.15" />
<line x1="182.38" y1="26.10" x2="186.72" y2="26.10" stroke="#e03428" stroke-width="1.15" />
<line x1="186.72" y1="26.10" x2="191.06" y2="26.10" stroke="#c8d0d0" stroke-width="1.15" />
<line x1="182.38" y1="26.10" x2="182.38" y2="32.90" stroke="#e03428" stroke-width="1.15" />
<line x1="182.38" y1="32.90" x2="182.38" y2="39.70" stroke="#c8d0d0" stroke-width="1.15" />
<line x1="191.06" y1="26.10" x2="195.40" y2="26.10" stroke="#c8d0d0" stroke-width="1.15" />
<line x1="195.40" y1="26.10" x2="199.74" y2="26.10" stroke="#e03428" stroke-width="1.15" />
<line x1="191.06" y1="26.10" x2="191.06" y2="32.90" stroke="#c8d0d0" stroke-width="1.15" />
<line x1="191.06" y1="32.90" x2="191.06" y2="39.70" stroke="#e03428" stroke-width="1.15" />
<line x1="199.74" y1="26.10" x2="204.08" y2="26.10" stroke="#e03428" stroke-width="1.15" />
<line x1="204.08" y1="26.10" x2="208.42" y2="26.10" stroke="#3a4ab0" stroke-width="1.15" />
<line x1="199.74" y1="26.10" x2="199.74" y2="32.90" stroke="#e03428" stroke-width="1.15" />
<line x1="199.74" y1="32.90" x2="199.74" y2="39.70" stroke="#3a4ab0" stroke-width="1.15" />
<line x1="208.42" y1="26.10" x2="212.76" y2="26.10" stroke="#3a4ab0" stroke-width="1.15" />
<line x1="212.76" y1="26.10" x2="217.10" y2="26.10" stroke="#e03428" stroke-width="1.15" />
<line x1="208.42" y1="26.10" x2="208.42" y2="32.90" stroke="#3a4ab0" stroke-width="1.15" />
<line x1="208.42" y1="32.90" x2="208.42" y2="39.70" stroke="#e03428" stroke-width="1.15" />
<line x1="217.10" y1="26.10" x2="217.10" y2="32.90" stroke="#e03428" stroke-width="1.15" />
<line x1="217.10" y1="32.90" x2="217.10" y2="39.70" stroke="#8a9488" stroke-width="1.15" />
<line x1="130.30" y1="39.70" x2="134.64" y2="39.70" stroke="#8a9488" stroke-width="1.15" />
<line x1="134.64" y1="39.70" x2="138.98" y2="39.70" stroke="#e03428" stroke-width="1.15" />
<line x1="130.30" y1="39.70" x2="130.30" y2="46.50" stroke="#8a9488" stroke-width="1.15" />
<line x1="130.30" y1="46.50" x2="130.30" y2="53.30" stroke="#e03428" stroke-width="1.15" />
<line x1="138.98" y1="39.70" x2="143.32" y2="39.70" stroke="#e03428" stroke-width="1.15" />
<line x1="143.32" y1="39.70" x2="147.66" y2="39.70" stroke="#5a86e0" stroke-width="1.15" />
<line x1="138.98" y1="39.70" x2="138.98" y2="46.50" stroke="#e03428" stroke-width="1.15" />
<line x1="138.98" y1="46.50" x2="138.98" y2="53.30" stroke="#3a4ab0" stroke-width="1.15" />
<line x1="147.66" y1="39.70" x2="152.00" y2="39.70" stroke="#5a86e0" stroke-width="1.15" />
<line x1="152.00" y1="39.70" x2="156.34" y2="39.70" stroke="#e03428" stroke-width="1.15" />
<line x1="156.34" y1="39.70" x2="160.68" y2="39.70" stroke="#e03428" stroke-width="1.15" />
<line x1="160.68" y1="39.70" x2="165.02" y2="39.70" stroke="#e89040" stroke-width="1.15" />
<line x1="156.34" y1="39.70" x2="156.34" y2="46.50" stroke="#e03428" stroke-width="1.15" />
<line x1="156.34" y1="46.50" x2="156.34" y2="53.30" stroke="#8a9488" stroke-width="1.15" />
<line x1="165.02" y1="39.70" x2="169.36" y2="39.70" stroke="#e89040" stroke-width="1.15" />
<line x1="169.36" y1="39.70" x2="173.70" y2="39.70" stroke="#e03428" stroke-width="1.15" />
<line x1="165.02" y1="39.70" x2="165.02" y2="46.50" stroke="#e89040" stroke-width="1.15" />
<line x1="165.02" y1="46.50" x2="165.02" y2="53.30" stroke="#e03428" stroke-width="1.15" />
<line x1="173.70" y1="39.70" x2="178.04" y2="39.70" stroke="#e03428" stroke-width="1.15" />
<line x1="178.04" y1="39.70" x2="182.38" y2="39.70" stroke="#c8d0d0" stroke-width="1.15" />
<line x1="173.70" y1="39.70" x2="173.70" y2="46.50" stroke="#e03428" stroke-width="1.15" />
<line x1="173.70" y1="46.50" x2="173.70" y2="53.30" stroke="#5a86e0" stroke-width="1.15" />
<line x1="182.38" y1="39.70" x2="186.72" y2="39.70" stroke="#c8d0d0" stroke-width="1.15" />
<line x1="186.72" y1="39.70" x2="191.06" y2="39.70" stroke="#e03428" stroke-width="1.15" />
<line x1="182.38" y1="39.70" x2="182.38" y2="46.50" stroke="#c8d0d0" stroke-width="1.15" />
<line x1="182.38" y1="46.50" x2="182.38" y2="53.30" stroke="#e03428" stroke-width="1.15" />
<line x1="191.06" y1="39.70" x2="195.40" y2="39.70" stroke="#e03428" stroke-width="1.15" />
<line x1="195.40" y1="39.70" x2="199.74" y2="39.70" stroke="#3a4ab0" stroke-width="1.15" />
<line x1="191.06" y1="39.70" x2="191.06" y2="46.50" stroke="#e03428" stroke-width="1.15" />
<line x1="191.06" y1="46.50" x2="191.06" y2="53.30" stroke="#e89040" stroke-width="1.15" />
<line x1="199.74" y1="39.70" x2="204.08" y2="39.70" stroke="#3a4ab0" stroke-width="1.15" />
<line x1="204.08" y1="39.70" x2="208.42" y2="39.70" stroke="#e03428" stroke-width="1.15" />
<line x1="199.74" y1="39.70" x2="199.74" y2="46.50" stroke="#3a4ab0" stroke-width="1.15" />
<line x1="199.74" y1="46.50" x2="199.74" y2="53.30" stroke="#e03428" stroke-width="1.15" />
<line x1="208.42" y1="39.70" x2="212.76" y2="39.70" stroke="#e03428" stroke-width="1.15" />
<line x1="212.76" y1="39.70" x2="217.10" y2="39.70" stroke="#8a9488" stroke-width="1.15" />
<line x1="208.42" y1="39.70" x2="208.42" y2="46.50" stroke="#e03428" stroke-width="1.15" />
<line x1="208.42" y1="46.50" x2="208.42" y2="53.30" stroke="#c8d0d0" stroke-width="1.15" />
<line x1="217.10" y1="39.70" x2="217.10" y2="46.50" stroke="#8a9488" stroke-width="1.15" />
<line x1="217.10" y1="46.50" x2="217.10" y2="53.30" stroke="#e03428" stroke-width="1.15" />
<line x1="130.30" y1="53.30" x2="134.64" y2="53.30" stroke="#e03428" stroke-width="1.15" />
<line x1="134.64" y1="53.30" x2="138.98" y2="53.30" stroke="#3a4ab0" stroke-width="1.15" />
<line x1="156.34" y1="53.30" x2="160.68" y2="53.30" stroke="#8a9488" stroke-width="1.15" />
<line x1="160.68" y1="53.30" x2="165.02" y2="53.30" stroke="#e03428" stroke-width="1.15" />
<line x1="165.02" y1="53.30" x2="169.36" y2="53.30" stroke="#e03428" stroke-width="1.15" />
<line x1="169.36" y1="53.30" x2="173.70" y2="53.30" stroke="#5a86e0" stroke-width="1.15" />
<line x1="173.70" y1="53.30" x2="178.04" y2="53.30" stroke="#5a86e0" stroke-width="1.15" />
<line x1="178.04" y1="53.30" x2="182.38" y2="53.30" stroke="#e03428" stroke-width="1.15" />
<line x1="182.38" y1="53.30" x2="186.72" y2="53.30" stroke="#e03428" stroke-width="1.15" />
<line x1="186.72" y1="53.30" x2="191.06" y2="53.30" stroke="#e89040" stroke-width="1.15" />
<line x1="191.06" y1="53.30" x2="195.40" y2="53.30" stroke="#e89040" stroke-width="1.15" />
<line x1="195.40" y1="53.30" x2="199.74" y2="53.30" stroke="#e03428" stroke-width="1.15" />
<line x1="199.74" y1="53.30" x2="204.08" y2="53.30" stroke="#e03428" stroke-width="1.15" />
<line x1="204.08" y1="53.30" x2="208.42" y2="53.30" stroke="#c8d0d0" stroke-width="1.15" />
<line x1="208.42" y1="53.30" x2="212.76" y2="53.30" stroke="#c8d0d0" stroke-width="1.15" />
<line x1="212.76" y1="53.30" x2="217.10" y2="53.30" stroke="#e03428" stroke-width="1.15" />
<circle cx="138.98" cy="12.50" r="1.65" fill="url(#ato)" />
<circle cx="156.34" cy="12.50" r="1.65" fill="url(#ato)" />
<circle cx="173.70" cy="12.50" r="1.65" fill="url(#ato)" />
<circle cx="191.06" cy="12.50" r="1.65" fill="url(#ato)" />
<circle cx="208.42" cy="12.50" r="1.65" fill="url(#ato)" />
<circle cx="130.30" cy="26.10" r="1.65" fill="url(#ato)" />
<circle cx="147.66" cy="26.10" r="1.65" fill="url(#ato)" />
<circle cx="165.02" cy="26.10" r="1.65" fill="url(#ato)" />
<circle cx="182.38" cy="26.10" r="1.65" fill="url(#ato)" />
<circle cx="199.74" cy="26.10" r="1.65" fill="url(#ato)" />
<circle cx="217.10" cy="26.10" r="1.65" fill="url(#ato)" />
<circle cx="138.98" cy="39.70" r="1.65" fill="url(#ato)" />
<circle cx="156.34" cy="39.70" r="1.65" fill="url(#ato)" />
<circle cx="173.70" cy="39.70" r="1.65" fill="url(#ato)" />
<circle cx="191.06" cy="39.70" r="1.65" fill="url(#ato)" />
<circle cx="208.42" cy="39.70" r="1.65" fill="url(#ato)" />
<circle cx="130.30" cy="53.30" r="1.65" fill="url(#ato)" />
<circle cx="165.02" cy="53.30" r="1.65" fill="url(#ato)" />
<circle cx="182.38" cy="53.30" r="1.65" fill="url(#ato)" />
<circle cx="199.74" cy="53.30" r="1.65" fill="url(#ato)" />
<circle cx="217.10" cy="53.30" r="1.65" fill="url(#ato)" />
<circle cx="130.30" cy="12.50" r="2.95" fill="url(#atC)" />
<circle cx="147.66" cy="12.50" r="3.00" fill="url(#atZ)" />
<circle cx="165.02" cy="12.50" r="2.80" fill="url(#atu)" />
<circle cx="182.38" cy="12.50" r="3.65" fill="url(#atM)" />
<circle cx="199.74" cy="12.50" r="2.95" fill="url(#atN)" />
<circle cx="217.10" cy="12.50" r="2.95" fill="url(#atC)" />
<circle cx="138.98" cy="26.10" r="3.00" fill="url(#atZ)" />
<circle cx="156.34" cy="26.10" r="2.80" fill="url(#atu)" />
<circle cx="173.70" cy="26.10" r="3.65" fill="url(#atM)" />
<circle cx="191.06" cy="26.10" r="2.95" fill="url(#atN)" />
<circle cx="208.42" cy="26.10" r="2.95" fill="url(#atC)" />
<circle cx="130.30" cy="39.70" r="3.00" fill="url(#atZ)" />
<circle cx="147.66" cy="39.70" r="2.80" fill="url(#atu)" />
<circle cx="165.02" cy="39.70" r="3.65" fill="url(#atM)" />
<circle cx="182.38" cy="39.70" r="2.95" fill="url(#atN)" />
<circle cx="199.74" cy="39.70" r="2.95" fill="url(#atC)" />
<circle cx="217.10" cy="39.70" r="3.00" fill="url(#atZ)" />
<circle cx="138.98" cy="53.30" r="2.95" fill="url(#atC)" />
<circle cx="156.34" cy="53.30" r="3.00" fill="url(#atZ)" />
<circle cx="173.70" cy="53.30" r="2.80" fill="url(#atu)" />
<circle cx="191.06" cy="53.30" r="3.65" fill="url(#atM)" />
<circle cx="208.42" cy="53.30" r="2.95" fill="url(#atN)" />
<circle cx="27.00" cy="64.90" r="2.65" fill="url(#atC)" />
<text x="30.70" y="67.10" font-size="6.1" fill="#222" text-anchor="start" font-weight="normal" font-family='"Liberation Sans", sans-serif' >Co</text>
<circle cx="44.80" cy="64.90" r="2.65" fill="url(#atu)" />
<text x="48.50" y="67.10" font-size="6.1" fill="#222" text-anchor="start" font-weight="normal" font-family='"Liberation Sans", sans-serif' >Cu</text>
<circle cx="61.20" cy="64.90" r="2.65" fill="url(#atZ)" />
<text x="64.90" y="67.10" font-size="6.1" fill="#222" text-anchor="start" font-weight="normal" font-family='"Liberation Sans", sans-serif' >Zn</text>
<circle cx="76.60" cy="64.90" r="2.65" fill="url(#atN)" />
<text x="80.30" y="67.10" font-size="6.1" fill="#222" text-anchor="start" font-weight="normal" font-family='"Liberation Sans", sans-serif' >Ni</text>
<circle cx="91.80" cy="64.90" r="2.65" fill="url(#atM)" />
<text x="95.50" y="67.10" font-size="6.1" fill="#222" text-anchor="start" font-weight="normal" font-family='"Liberation Sans", sans-serif' >Mg</text>
<circle cx="108.70" cy="64.90" r="2.65" fill="url(#ato)" />
<text x="112.40" y="67.10" font-size="6.1" fill="#222" text-anchor="start" font-weight="normal" font-family='"Liberation Sans", sans-serif' >O</text>
<rect x="268.97" y="13.10" width="51.43" height="12.00" fill="url(#redbar)" />
<text x="269.97" y="20.40" font-size="3.6" fill="#505050" text-anchor="start" font-weight="normal" font-family='"Liberation Sans", sans-serif' >-1.919 eV</text>
<rect x="249.65" y="27.90" width="70.75" height="12.10" fill="url(#bluebar)" />
<text x="250.65" y="35.25" font-size="3.6" fill="#505050" text-anchor="start" font-weight="normal" font-family='"Liberation Sans", sans-serif' >-2.640 eV</text>
<rect x="253.40" y="42.70" width="67.00" height="12.10" fill="url(#bluebar)" />
<text x="254.40" y="50.05" font-size="3.6" fill="#505050" text-anchor="start" font-weight="normal" font-family='"Liberation Sans", sans-serif' >-2.5 eV</text>
<line x1="229.00" y1="56.30" x2="320.40" y2="56.30" stroke="#444" stroke-width="0.6" />
<line x1="320.40" y1="10.50" x2="320.40" y2="56.30" stroke="#444" stroke-width="0.6" />
<line x1="240.20" y1="56.30" x2="240.20" y2="57.50" stroke="#444" stroke-width="0.5" />
<text x="240.20" y="61.20" font-size="3.6" fill="#555" text-anchor="middle" font-weight="normal" font-family='"Liberation Sans", sans-serif' >-3.0</text>
<line x1="253.57" y1="56.30" x2="253.57" y2="57.50" stroke="#444" stroke-width="0.5" />
<text x="253.57" y="61.20" font-size="3.6" fill="#555" text-anchor="middle" font-weight="normal" font-family='"Liberation Sans", sans-serif' >-2.5</text>
<line x1="266.94" y1="56.30" x2="266.94" y2="57.50" stroke="#444" stroke-width="0.5" />
<text x="266.94" y="61.20" font-size="3.6" fill="#555" text-anchor="middle" font-weight="normal" font-family='"Liberation Sans", sans-serif' >-2.0</text>
<line x1="280.31" y1="56.30" x2="280.31" y2="57.50" stroke="#444" stroke-width="0.5" />
<text x="280.31" y="61.20" font-size="3.6" fill="#555" text-anchor="middle" font-weight="normal" font-family='"Liberation Sans", sans-serif' >-1.5</text>
<line x1="293.68" y1="56.30" x2="293.68" y2="57.50" stroke="#444" stroke-width="0.5" />
<text x="293.68" y="61.20" font-size="3.6" fill="#555" text-anchor="middle" font-weight="normal" font-family='"Liberation Sans", sans-serif' >-1.0</text>
<line x1="307.05" y1="56.30" x2="307.05" y2="57.50" stroke="#444" stroke-width="0.5" />
<text x="307.05" y="61.20" font-size="3.6" fill="#555" text-anchor="middle" font-weight="normal" font-family='"Liberation Sans", sans-serif' >-0.5</text>
<line x1="320.42" y1="56.30" x2="320.42" y2="57.50" stroke="#444" stroke-width="0.5" />
<text x="320.42" y="61.20" font-size="3.6" fill="#555" text-anchor="middle" font-weight="normal" font-family='"Liberation Sans", sans-serif' >0.0</text>
<text x="272.80" y="65.60" font-size="3.8" fill="#666" text-anchor="middle" font-weight="normal" font-family='"Liberation Sans", sans-serif' >Adsorption energy (eV)</text>
<text x="229.30" y="20.30" font-size="3.55" fill="#c8282c" text-anchor="start" font-weight="normal" font-family='"Liberation Sans", sans-serif' >Pristine Surface</text>
<text x="231.50" y="35.40" font-size="3.6" fill="#1a80c0" text-anchor="start" font-weight="normal" font-family='"Liberation Sans", sans-serif' >V<tspan font-size="2.4" dy="0.8">o</tspan><tspan dy="-0.8"> Site I</tspan></text>
<text x="231.50" y="50.30" font-size="3.6" fill="#1a80c0" text-anchor="start" font-weight="normal" font-family='"Liberation Sans", sans-serif' >V<tspan font-size="2.4" dy="0.8">o</tspan><tspan dy="-0.8"> Site II</tspan></text>
<line x1="27.10" y1="81.90" x2="31.51" y2="81.90" stroke="#3a4ab0" stroke-width="1.15" />
<line x1="31.51" y1="81.90" x2="35.91" y2="81.90" stroke="#e03428" stroke-width="1.15" />
<line x1="27.10" y1="81.90" x2="27.10" y2="88.65" stroke="#3a4ab0" stroke-width="1.15" />
<line x1="27.10" y1="88.65" x2="27.10" y2="95.40" stroke="#e03428" stroke-width="1.15" />
<line x1="35.91" y1="81.90" x2="40.31" y2="81.90" stroke="#e03428" stroke-width="1.15" />
<line x1="40.31" y1="81.90" x2="44.72" y2="81.90" stroke="#8a9488" stroke-width="1.15" />
<line x1="35.91" y1="81.90" x2="35.91" y2="88.65" stroke="#e03428" stroke-width="1.15" />
<line x1="35.91" y1="88.65" x2="35.91" y2="95.40" stroke="#c8d0d0" stroke-width="1.15" />
<line x1="44.72" y1="81.90" x2="44.72" y2="88.65" stroke="#8a9488" stroke-width="1.15" />
<line x1="44.72" y1="88.65" x2="44.72" y2="95.40" stroke="#e03428" stroke-width="1.15" />
<line x1="79.96" y1="81.90" x2="84.37" y2="81.90" stroke="#e89040" stroke-width="1.15" />
<line x1="84.37" y1="81.90" x2="88.77" y2="81.90" stroke="#e03428" stroke-width="1.15" />
<line x1="79.96" y1="81.90" x2="79.96" y2="88.65" stroke="#e89040" stroke-width="1.15" />
<line x1="79.96" y1="88.65" x2="79.96" y2="95.40" stroke="#e03428" stroke-width="1.15" />
<line x1="88.77" y1="81.90" x2="93.18" y2="81.90" stroke="#e03428" stroke-width="1.15" />
<line x1="93.18" y1="81.90" x2="97.58" y2="81.90" stroke="#c8d0d0" stroke-width="1.15" />
<line x1="88.77" y1="81.90" x2="88.77" y2="88.65" stroke="#e03428" stroke-width="1.15" />
<line x1="88.77" y1="88.65" x2="88.77" y2="95.40" stroke="#3a4ab0" stroke-width="1.15" />
<line x1="97.58" y1="81.90" x2="101.99" y2="81.90" stroke="#c8d0d0" stroke-width="1.15" />
<line x1="101.99" y1="81.90" x2="106.39" y2="81.90" stroke="#e03428" stroke-width="1.15" />
<line x1="97.58" y1="81.90" x2="97.58" y2="88.65" stroke="#c8d0d0" stroke-width="1.15" />
<line x1="97.58" y1="88.65" x2="97.58" y2="95.40" stroke="#e03428" stroke-width="1.15" />
<line x1="106.39" y1="81.90" x2="110.80" y2="81.90" stroke="#e03428" stroke-width="1.15" />
<line x1="110.80" y1="81.90" x2="115.20" y2="81.90" stroke="#3a4ab0" stroke-width="1.15" />
<line x1="106.39" y1="81.90" x2="106.39" y2="88.65" stroke="#e03428" stroke-width="1.15" />
<line x1="106.39" y1="88.65" x2="106.39" y2="95.40" stroke="#e89040" stroke-width="1.15" />
<line x1="115.20" y1="81.90" x2="115.20" y2="88.65" stroke="#3a4ab0" stroke-width="1.15" />
<line x1="115.20" y1="88.65" x2="115.20" y2="95.40" stroke="#e03428" stroke-width="1.15" />
<line x1="27.10" y1="95.40" x2="31.51" y2="95.40" stroke="#e03428" stroke-width="1.15" />
<line x1="31.51" y1="95.40" x2="35.91" y2="95.40" stroke="#c8d0d0" stroke-width="1.15" />
<line x1="27.10" y1="95.40" x2="27.10" y2="102.15" stroke="#e03428" stroke-width="1.15" />
<line x1="27.10" y1="102.15" x2="27.10" y2="108.90" stroke="#c8d0d0" stroke-width="1.15" />
<line x1="35.91" y1="95.40" x2="40.31" y2="95.40" stroke="#c8d0d0" stroke-width="1.15" />
<line x1="40.31" y1="95.40" x2="44.72" y2="95.40" stroke="#e03428" stroke-width="1.15" />
<line x1="35.91" y1="95.40" x2="35.91" y2="102.15" stroke="#c8d0d0" stroke-width="1.15" />
<line x1="35.91" y1="102.15" x2="35.91" y2="108.90" stroke="#e03428" stroke-width="1.15" />
<line x1="44.72" y1="95.40" x2="44.72" y2="102.15" stroke="#e03428" stroke-width="1.15" />
<line x1="44.72" y1="102.15" x2="44.72" y2="108.90" stroke="#3a4ab0" stroke-width="1.15" />
<line x1="62.34" y1="95.40" x2="66.75" y2="95.40" stroke="#e03428" stroke-width="1.15" />
<line x1="66.75" y1="95.40" x2="71.15" y2="95.40" stroke="#8a9488" stroke-width="1.15" />
<line x1="62.34" y1="95.40" x2="62.34" y2="102.15" stroke="#e03428" stroke-width="1.15" />
<line x1="62.34" y1="102.15" x2="62.34" y2="108.90" stroke="#8a9488" stroke-width="1.15" />
<line x1="71.15" y1="95.40" x2="75.56" y2="95.40" stroke="#8a9488" stroke-width="1.15" />
<line x1="75.56" y1="95.40" x2="79.96" y2="95.40" stroke="#e03428" stroke-width="1.15" />
<line x1="71.15" y1="95.40" x2="71.15" y2="102.15" stroke="#8a9488" stroke-width="1.15" />
<line x1="71.15" y1="102.15" x2="71.15" y2="108.90" stroke="#e03428" stroke-width="1.15" />
<line x1="79.96" y1="95.40" x2="84.37" y2="95.40" stroke="#e03428" stroke-width="1.15" />
<line x1="84.37" y1="95.40" x2="88.77" y2="95.40" stroke="#3a4ab0" stroke-width="1.15" />
<line x1="79.96" y1="95.40" x2="79.96" y2="102.15" stroke="#e03428" stroke-width="1.15" />
<line x1="79.96" y1="102.15" x2="79.96" y2="108.90" stroke="#5a86e0" stroke-width="1.15" />
<line x1="88.77" y1="95.40" x2="93.18" y2="95.40" stroke="#3a4ab0" stroke-width="1.15" />
<line x1="93.18" y1="95.40" x2="97.58" y2="95.40" stroke="#e03428" stroke-width="1.15" />
<line x1="88.77" y1="95.40" x2="88.77" y2="102.15" stroke="#3a4ab0" stroke-width="1.15" />
<line x1="88.77" y1="102.15" x2="88.77" y2="108.90" stroke="#e03428" stroke-width="1.15" />
<line x1="97.58" y1="95.40" x2="101.99" y2="95.40" stroke="#e03428" stroke-width="1.15" />
<line x1="101.99" y1="95.40" x2="106.39" y2="95.40" stroke="#e89040" stroke-width="1.15" />
<line x1="97.58" y1="95.40" x2="97.58" y2="102.15" stroke="#e03428" stroke-width="1.15" />
<line x1="97.58" y1="102.15" x2="97.58" y2="108.90" stroke="#e89040" stroke-width="1.15" />
<line x1="106.39" y1="95.40" x2="110.80" y2="95.40" stroke="#e89040" stroke-width="1.15" />
<line x1="110.80" y1="95.40" x2="115.20" y2="95.40" stroke="#e03428" stroke-width="1.15" />
<line x1="106.39" y1="95.40" x2="106.39" y2="102.15" stroke="#e89040" stroke-width="1.15" />
<line x1="106.39" y1="102.15" x2="106.39" y2="108.90" stroke="#e03428" stroke-width="1.15" />
<line x1="115.20" y1="95.40" x2="115.20" y2="102.15" stroke="#e03428" stroke-width="1.15" />
<line x1="115.20" y1="102.15" x2="115.20" y2="108.90" stroke="#c8d0d0" stroke-width="1.15" />
<line x1="27.10" y1="108.90" x2="31.51" y2="108.90" stroke="#c8d0d0" stroke-width="1.15" />
<line x1="31.51" y1="108.90" x2="35.91" y2="108.90" stroke="#e03428" stroke-width="1.15" />
<line x1="27.10" y1="108.90" x2="27.10" y2="116.05" stroke="#c8d0d0" stroke-width="1.15" />
<line x1="27.10" y1="116.05" x2="27.10" y2="123.20" stroke="#e03428" stroke-width="1.15" />
<line x1="35.91" y1="108.90" x2="40.31" y2="108.90" stroke="#e03428" stroke-width="1.15" />
<line x1="40.31" y1="108.90" x2="44.72" y2="108.90" stroke="#3a4ab0" stroke-width="1.15" />
<line x1="35.91" y1="108.90" x2="35.91" y2="116.05" stroke="#e03428" stroke-width="1.15" />
<line x1="35.91" y1="116.05" x2="35.91" y2="123.20" stroke="#3a4ab0" stroke-width="1.15" />
<line x1="44.72" y1="108.90" x2="49.12" y2="108.90" stroke="#3a4ab0" stroke-width="1.15" />
<line x1="49.12" y1="108.90" x2="53.53" y2="108.90" stroke="#e03428" stroke-width="1.15" />
<line x1="44.72" y1="108.90" x2="44.72" y2="116.05" stroke="#3a4ab0" stroke-width="1.15" />
<line x1="44.72" y1="116.05" x2="44.72" y2="123.20" stroke="#e03428" stroke-width="1.15" />
<line x1="53.53" y1="108.90" x2="57.94" y2="108.90" stroke="#e03428" stroke-width="1.15" />
<line x1="57.94" y1="108.90" x2="62.34" y2="108.90" stroke="#8a9488" stroke-width="1.15" />
<line x1="53.53" y1="108.90" x2="53.53" y2="116.05" stroke="#e03428" stroke-width="1.15" />
<line x1="53.53" y1="116.05" x2="53.53" y2="123.20" stroke="#8a9488" stroke-width="1.15" />
<line x1="62.34" y1="108.90" x2="66.75" y2="108.90" stroke="#8a9488" stroke-width="1.15" />
<line x1="66.75" y1="108.90" x2="71.15" y2="108.90" stroke="#e03428" stroke-width="1.15" />
<line x1="62.34" y1="108.90" x2="62.34" y2="116.05" stroke="#8a9488" stroke-width="1.15" />
<line x1="62.34" y1="116.05" x2="62.34" y2="123.20" stroke="#e03428" stroke-width="1.15" />
<line x1="71.15" y1="108.90" x2="75.56" y2="108.90" stroke="#e03428" stroke-width="1.15" />
<line x1="75.56" y1="108.90" x2="79.96" y2="108.90" stroke="#5a86e0" stroke-width="1.15" />
<line x1="79.96" y1="108.90" x2="84.37" y2="108.90" stroke="#5a86e0" stroke-width="1.15" />
<line x1="84.37" y1="108.90" x2="88.77" y2="108.90" stroke="#e03428" stroke-width="1.15" />
<line x1="79.96" y1="108.90" x2="79.96" y2="116.05" stroke="#5a86e0" stroke-width="1.15" />
<line x1="79.96" y1="116.05" x2="79.96" y2="123.20" stroke="#e03428" stroke-width="1.15" />
<line x1="88.77" y1="108.90" x2="93.18" y2="108.90" stroke="#e03428" stroke-width="1.15" />
<line x1="93.18" y1="108.90" x2="97.58" y2="108.90" stroke="#e89040" stroke-width="1.15" />
<line x1="88.77" y1="108.90" x2="88.77" y2="116.05" stroke="#e03428" stroke-width="1.15" />
<line x1="88.77" y1="116.05" x2="88.77" y2="123.20" stroke="#e89040" stroke-width="1.15" />
<line x1="97.58" y1="108.90" x2="101.99" y2="108.90" stroke="#e89040" stroke-width="1.15" />
<line x1="101.99" y1="108.90" x2="106.39" y2="108.90" stroke="#e03428" stroke-width="1.15" />
<line x1="97.58" y1="108.90" x2="97.58" y2="116.05" stroke="#e89040" stroke-width="1.15" />
<line x1="97.58" y1="116.05" x2="97.58" y2="123.20" stroke="#e03428" stroke-width="1.15" />
<line x1="106.39" y1="108.90" x2="110.80" y2="108.90" stroke="#e03428" stroke-width="1.15" />
<line x1="110.80" y1="108.90" x2="115.20" y2="108.90" stroke="#c8d0d0" stroke-width="1.15" />
<line x1="106.39" y1="108.90" x2="106.39" y2="116.05" stroke="#e03428" stroke-width="1.15" />
<line x1="106.39" y1="116.05" x2="106.39" y2="123.20" stroke="#c8d0d0" stroke-width="1.15" />
<line x1="115.20" y1="108.90" x2="115.20" y2="116.05" stroke="#c8d0d0" stroke-width="1.15" />
<line x1="115.20" y1="116.05" x2="115.20" y2="123.20" stroke="#e03428" stroke-width="1.15" />
<line x1="27.10" y1="123.20" x2="31.51" y2="123.20" stroke="#e03428" stroke-width="1.15" />
<line x1="31.51" y1="123.20" x2="35.91" y2="123.20" stroke="#3a4ab0" stroke-width="1.15" />
<line x1="35.91" y1="123.20" x2="40.31" y2="123.20" stroke="#3a4ab0" stroke-width="1.15" />
<line x1="40.31" y1="123.20" x2="44.72" y2="123.20" stroke="#e03428" stroke-width="1.15" />
<line x1="44.72" y1="123.20" x2="49.12" y2="123.20" stroke="#e03428" stroke-width="1.15" />
<line x1="49.12" y1="123.20" x2="53.53" y2="123.20" stroke="#8a9488" stroke-width="1.15" />
<line x1="53.53" y1="123.20" x2="57.94" y2="123.20" stroke="#8a9488" stroke-width="1.15" />
<line x1="57.94" y1="123.20" x2="62.34" y2="123.20" stroke="#e03428" stroke-width="1.15" />
<line x1="79.96" y1="123.20" x2="84.37" y2="123.20" stroke="#e03428" stroke-width="1.15" />
<line x1="84.37" y1="123.20" x2="88.77" y2="123.20" stroke="#e89040" stroke-width="1.15" />
<line x1="88.77" y1="123.20" x2="93.18" y2="123.20" stroke="#e89040" stroke-width="1.15" />
<line x1="93.18" y1="123.20" x2="97.58" y2="123.20" stroke="#e03428" stroke-width="1.15" />
<line x1="97.58" y1="123.20" x2="101.99" y2="123.20" stroke="#e03428" stroke-width="1.15" />
<line x1="101.99" y1="123.20" x2="106.39" y2="123.20" stroke="#c8d0d0" stroke-width="1.15" />
<line x1="106.39" y1="123.20" x2="110.80" y2="123.20" stroke="#c8d0d0" stroke-width="1.15" />
<line x1="110.80" y1="123.20" x2="115.20" y2="123.20" stroke="#e03428" stroke-width="1.15" />
<circle cx="35.91" cy="81.90" r="1.65" fill="url(#ato)" />
<circle cx="88.77" cy="81.90" r="1.65" fill="url(#ato)" />
<circle cx="106.39" cy="81.90" r="1.65" fill="url(#ato)" />
<circle cx="27.10" cy="95.40" r="1.65" fill="url(#ato)" />
<circle cx="44.72" cy="95.40" r="1.65" fill="url(#ato)" />
<circle cx="62.34" cy="95.40" r="1.65" fill="url(#ato)" />
<circle cx="79.96" cy="95.40" r="1.65" fill="url(#ato)" />
<circle cx="97.58" cy="95.40" r="1.65" fill="url(#ato)" />
<circle cx="115.20" cy="95.40" r="1.65" fill="url(#ato)" />
<circle cx="35.91" cy="108.90" r="1.65" fill="url(#ato)" />
<circle cx="53.53" cy="108.90" r="1.65" fill="url(#ato)" />
<circle cx="71.15" cy="108.90" r="1.65" fill="url(#ato)" />
<circle cx="88.77" cy="108.90" r="1.65" fill="url(#ato)" />
<circle cx="106.39" cy="108.90" r="1.65" fill="url(#ato)" />
<circle cx="27.10" cy="123.20" r="1.65" fill="url(#ato)" />
<circle cx="44.72" cy="123.20" r="1.65" fill="url(#ato)" />
<circle cx="62.34" cy="123.20" r="1.65" fill="url(#ato)" />
<circle cx="79.96" cy="123.20" r="1.65" fill="url(#ato)" />
<circle cx="97.58" cy="123.20" r="1.65" fill="url(#ato)" />
<circle cx="115.20" cy="123.20" r="1.65" fill="url(#ato)" />
<circle cx="27.10" cy="81.90" r="2.95" fill="url(#atC)" />
<circle cx="44.72" cy="81.90" r="3.00" fill="url(#atZ)" />
<circle cx="79.96" cy="81.90" r="3.65" fill="url(#atM)" />
<circle cx="97.58" cy="81.90" r="2.95" fill="url(#atN)" />
<circle cx="115.20" cy="81.90" r="2.95" fill="url(#atC)" />
<circle cx="35.91" cy="95.40" r="2.95" fill="url(#atN)" />
<circle cx="71.15" cy="95.40" r="3.00" fill="url(#atZ)" />
<circle cx="88.77" cy="95.40" r="2.95" fill="url(#atC)" />
<circle cx="106.39" cy="95.40" r="3.65" fill="url(#atM)" />
<circle cx="27.10" cy="108.90" r="2.95" fill="url(#atN)" />
<circle cx="44.72" cy="108.90" r="2.95" fill="url(#atC)" />
<circle cx="62.34" cy="108.90" r="3.00" fill="url(#atZ)" />
<circle cx="79.96" cy="108.90" r="2.80" fill="url(#atu)" />
<circle cx="97.58" cy="108.90" r="3.65" fill="url(#atM)" />
<circle cx="115.20" cy="108.90" r="2.95" fill="url(#atN)" />
<circle cx="35.91" cy="123.20" r="2.95" fill="url(#atC)" />
<circle cx="53.53" cy="123.20" r="3.00" fill="url(#atZ)" />
<circle cx="88.77" cy="123.20" r="3.65" fill="url(#atM)" />
<circle cx="106.39" cy="123.20" r="2.95" fill="url(#atN)" />
<line x1="53.30" y1="123.20" x2="74.80" y2="118.40" stroke="#3a5ad0" stroke-width="1.1" />
<line x1="74.80" y1="118.40" x2="82.70" y2="108.90" stroke="#3a5ad0" stroke-width="1.1" />
<line x1="74.80" y1="118.40" x2="69.20" y2="128.70" stroke="#3a5ad0" stroke-width="1.1" />
<line x1="62.10" y1="108.90" x2="74.80" y2="118.40" stroke="#3a5ad0" stroke-width="1.1" />
<line x1="74.80" y1="118.40" x2="89.80" y2="123.20" stroke="#3a5ad0" stroke-width="1.1" />
<line x1="53.30" y1="123.20" x2="69.20" y2="128.70" stroke="#3a5ad0" stroke-width="1.1" />
<line x1="62.10" y1="108.90" x2="72.40" y2="95.40" stroke="#3a5ad0" stroke-width="1.1" />
<line x1="82.70" y1="108.90" x2="98.60" y2="108.90" stroke="#3a5ad0" stroke-width="1.1" />
<circle cx="74.80" cy="118.40" r="2.80" fill="url(#atu)" />
<circle cx="69.20" cy="128.70" r="2.80" fill="url(#atu)" />
<line x1="130.70" y1="81.70" x2="135.07" y2="81.70" stroke="#e89040" stroke-width="1.15" />
<line x1="135.07" y1="81.70" x2="139.44" y2="81.70" stroke="#e03428" stroke-width="1.15" />
<line x1="130.70" y1="81.70" x2="130.70" y2="88.65" stroke="#e89040" stroke-width="1.15" />
<line x1="130.70" y1="88.65" x2="130.70" y2="95.60" stroke="#e03428" stroke-width="1.15" />
<line x1="139.44" y1="81.70" x2="143.81" y2="81.70" stroke="#e03428" stroke-width="1.15" />
<line x1="143.81" y1="81.70" x2="148.18" y2="81.70" stroke="#c8d0d0" stroke-width="1.15" />
<line x1="139.44" y1="81.70" x2="139.44" y2="88.65" stroke="#e03428" stroke-width="1.15" />
<line x1="139.44" y1="88.65" x2="139.44" y2="95.60" stroke="#c8d0d0" stroke-width="1.15" />
<line x1="148.18" y1="81.70" x2="152.55" y2="81.70" stroke="#c8d0d0" stroke-width="1.15" />
<line x1="152.55" y1="81.70" x2="156.92" y2="81.70" stroke="#e03428" stroke-width="1.15" />
<line x1="148.18" y1="81.70" x2="148.18" y2="88.65" stroke="#c8d0d0" stroke-width="1.15" />
<line x1="148.18" y1="88.65" x2="148.18" y2="95.60" stroke="#e03428" stroke-width="1.15" />
<line x1="183.14" y1="81.70" x2="187.51" y2="81.70" stroke="#8a9488" stroke-width="1.15" />
<line x1="187.51" y1="81.70" x2="191.88" y2="81.70" stroke="#e03428" stroke-width="1.15" />
<line x1="183.14" y1="81.70" x2="183.14" y2="88.65" stroke="#8a9488" stroke-width="1.15" />
<line x1="183.14" y1="88.65" x2="183.14" y2="95.60" stroke="#e03428" stroke-width="1.15" />
<line x1="191.88" y1="81.70" x2="196.25" y2="81.70" stroke="#e03428" stroke-width="1.15" />
<line x1="196.25" y1="81.70" x2="200.62" y2="81.70" stroke="#3a4ab0" stroke-width="1.15" />
<line x1="191.88" y1="81.70" x2="191.88" y2="88.65" stroke="#e03428" stroke-width="1.15" />
<line x1="191.88" y1="88.65" x2="191.88" y2="95.60" stroke="#5a86e0" stroke-width="1.15" />
<line x1="200.62" y1="81.70" x2="204.99" y2="81.70" stroke="#3a4ab0" stroke-width="1.15" />
<line x1="204.99" y1="81.70" x2="209.36" y2="81.70" stroke="#e03428" stroke-width="1.15" />
<line x1="200.62" y1="81.70" x2="200.62" y2="88.65" stroke="#3a4ab0" stroke-width="1.15" />
<line x1="200.62" y1="88.65" x2="200.62" y2="95.60" stroke="#e03428" stroke-width="1.15" />
<line x1="209.36" y1="81.70" x2="213.73" y2="81.70" stroke="#e03428" stroke-width="1.15" />
<line x1="213.73" y1="81.70" x2="218.10" y2="81.70" stroke="#e89040" stroke-width="1.15" />
<line x1="209.36" y1="81.70" x2="209.36" y2="88.65" stroke="#e03428" stroke-width="1.15" />
<line x1="209.36" y1="88.65" x2="209.36" y2="95.60" stroke="#e89040" stroke-width="1.15" />
<line x1="218.10" y1="81.70" x2="218.10" y2="88.65" stroke="#e89040" stroke-width="1.15" />
<line x1="218.10" y1="88.65" x2="218.10" y2="95.60" stroke="#e03428" stroke-width="1.15" />
<line x1="130.70" y1="95.60" x2="135.07" y2="95.60" stroke="#e03428" stroke-width="1.15" />
<line x1="135.07" y1="95.60" x2="139.44" y2="95.60" stroke="#c8d0d0" stroke-width="1.15" />
<line x1="130.70" y1="95.60" x2="130.70" y2="102.50" stroke="#e03428" stroke-width="1.15" />
<line x1="130.70" y1="102.50" x2="130.70" y2="109.40" stroke="#c8d0d0" stroke-width="1.15" />
<line x1="139.44" y1="95.60" x2="143.81" y2="95.60" stroke="#c8d0d0" stroke-width="1.15" />
<line x1="143.81" y1="95.60" x2="148.18" y2="95.60" stroke="#e03428" stroke-width="1.15" />
<line x1="139.44" y1="95.60" x2="139.44" y2="102.50" stroke="#c8d0d0" stroke-width="1.15" />
<line x1="139.44" y1="102.50" x2="139.44" y2="109.40" stroke="#e03428" stroke-width="1.15" />
<line x1="148.18" y1="95.60" x2="148.18" y2="102.50" stroke="#e03428" stroke-width="1.15" />
<line x1="148.18" y1="102.50" x2="148.18" y2="109.40" stroke="#3a4ab0" stroke-width="1.15" />
<line x1="183.14" y1="95.60" x2="187.51" y2="95.60" stroke="#e03428" stroke-width="1.15" />
<line x1="187.51" y1="95.60" x2="191.88" y2="95.60" stroke="#5a86e0" stroke-width="1.15" />
<line x1="183.14" y1="95.60" x2="183.14" y2="102.50" stroke="#e03428" stroke-width="1.15" />
<line x1="183.14" y1="102.50" x2="183.14" y2="109.40" stroke="#8a9488" stroke-width="1.15" />
<line x1="191.88" y1="95.60" x2="196.25" y2="95.60" stroke="#5a86e0" stroke-width="1.15" />
<line x1="196.25" y1="95.60" x2="200.62" y2="95.60" stroke="#e03428" stroke-width="1.15" />
<line x1="191.88" y1="95.60" x2="191.88" y2="102.50" stroke="#5a86e0" stroke-width="1.15" />
<line x1="191.88" y1="102.50" x2="191.88" y2="109.40" stroke="#e03428" stroke-width="1.15" />
<line x1="200.62" y1="95.60" x2="204.99" y2="95.60" stroke="#e03428" stroke-width="1.15" />
<line x1="204.99" y1="95.60" x2="209.36" y2="95.60" stroke="#e89040" stroke-width="1.15" />
<line x1="200.62" y1="95.60" x2="200.62" y2="102.50" stroke="#e03428" stroke-width="1.15" />
<line x1="200.62" y1="102.50" x2="200.62" y2="109.40" stroke="#e89040" stroke-width="1.15" />
<line x1="209.36" y1="95.60" x2="213.73" y2="95.60" stroke="#e89040" stroke-width="1.15" />
<line x1="213.73" y1="95.60" x2="218.10" y2="95.60" stroke="#e03428" stroke-width="1.15" />
<line x1="209.36" y1="95.60" x2="209.36" y2="102.50" stroke="#e89040" stroke-width="1.15" />
<line x1="209.36" y1="102.50" x2="209.36" y2="109.40" stroke="#e03428" stroke-width="1.15" />
<line x1="218.10" y1="95.60" x2="218.10" y2="102.50" stroke="#e03428" stroke-width="1.15" />
<line x1="218.10" y1="102.50" x2="218.10" y2="109.40" stroke="#c8d0d0" stroke-width="1.15" />
<line x1="130.70" y1="109.40" x2="135.07" y2="109.40" stroke="#c8d0d0" stroke-width="1.15" />
<line x1="135.07" y1="109.40" x2="139.44" y2="109.40" stroke="#e03428" stroke-width="1.15" />
<line x1="130.70" y1="109.40" x2="130.70" y2="116.65" stroke="#c8d0d0" stroke-width="1.15" />
<line x1="130.70" y1="116.65" x2="130.70" y2="123.90" stroke="#e03428" stroke-width="1.15" />
<line x1="139.44" y1="109.40" x2="143.81" y2="109.40" stroke="#e03428" stroke-width="1.15" />
<line x1="143.81" y1="109.40" x2="148.18" y2="109.40" stroke="#3a4ab0" stroke-width="1.15" />
<line x1="139.44" y1="109.40" x2="139.44" y2="116.65" stroke="#e03428" stroke-width="1.15" />
<line x1="139.44" y1="116.65" x2="139.44" y2="123.90" stroke="#3a4ab0" stroke-width="1.15" />
<line x1="148.18" y1="109.40" x2="152.55" y2="109.40" stroke="#3a4ab0" stroke-width="1.15" />
<line x1="152.55" y1="109.40" x2="156.92" y2="109.40" stroke="#e03428" stroke-width="1.15" />
<line x1="148.18" y1="109.40" x2="148.18" y2="116.65" stroke="#3a4ab0" stroke-width="1.15" />
<line x1="148.18" y1="116.65" x2="148.18" y2="123.90" stroke="#e03428" stroke-width="1.15" />
<line x1="156.92" y1="109.40" x2="161.29" y2="109.40" stroke="#e03428" stroke-width="1.15" />
<line x1="161.29" y1="109.40" x2="165.66" y2="109.40" stroke="#8a9488" stroke-width="1.15" />
<line x1="156.92" y1="109.40" x2="156.92" y2="116.65" stroke="#e03428" stroke-width="1.15" />
<line x1="156.92" y1="116.65" x2="156.92" y2="123.90" stroke="#8a9488" stroke-width="1.15" />
<line x1="165.66" y1="109.40" x2="165.66" y2="116.65" stroke="#8a9488" stroke-width="1.15" />
<line x1="165.66" y1="116.65" x2="165.66" y2="123.90" stroke="#e03428" stroke-width="1.15" />
<line x1="183.14" y1="109.40" x2="187.51" y2="109.40" stroke="#8a9488" stroke-width="1.15" />
<line x1="187.51" y1="109.40" x2="191.88" y2="109.40" stroke="#e03428" stroke-width="1.15" />
<line x1="183.14" y1="109.40" x2="183.14" y2="116.65" stroke="#8a9488" stroke-width="1.15" />
<line x1="183.14" y1="116.65" x2="183.14" y2="123.90" stroke="#e03428" stroke-width="1.15" />
<line x1="191.88" y1="109.40" x2="196.25" y2="109.40" stroke="#e03428" stroke-width="1.15" />
<line x1="196.25" y1="109.40" x2="200.62" y2="109.40" stroke="#e89040" stroke-width="1.15" />
<line x1="191.88" y1="109.40" x2="191.88" y2="116.65" stroke="#e03428" stroke-width="1.15" />
<line x1="191.88" y1="116.65" x2="191.88" y2="123.90" stroke="#e89040" stroke-width="1.15" />
<line x1="200.62" y1="109.40" x2="204.99" y2="109.40" stroke="#e89040" stroke-width="1.15" />
<line x1="204.99" y1="109.40" x2="209.36" y2="109.40" stroke="#e03428" stroke-width="1.15" />
<line x1="200.62" y1="109.40" x2="200.62" y2="116.65" stroke="#e89040" stroke-width="1.15" />
<line x1="200.62" y1="116.65" x2="200.62" y2="123.90" stroke="#e03428" stroke-width="1.15" />
<line x1="209.36" y1="109.40" x2="213.73" y2="109.40" stroke="#e03428" stroke-width="1.15" />
<line x1="213.73" y1="109.40" x2="218.10" y2="109.40" stroke="#c8d0d0" stroke-width="1.15" />
<line x1="209.36" y1="109.40" x2="209.36" y2="116.65" stroke="#e03428" stroke-width="1.15" />
<line x1="209.36" y1="116.65" x2="209.36" y2="123.90" stroke="#c8d0d0" stroke-width="1.15" />
<line x1="218.10" y1="109.40" x2="218.10" y2="116.65" stroke="#c8d0d0" stroke-width="1.15" />
<line x1="218.10" y1="116.65" x2="218.10" y2="123.90" stroke="#e03428" stroke-width="1.15" />
<line x1="130.70" y1="123.90" x2="135.07" y2="123.90" stroke="#e03428" stroke-width="1.15" />
<line x1="135.07" y1="123.90" x2="139.44" y2="123.90" stroke="#3a4ab0" stroke-width="1.15" />
<line x1="139.44" y1="123.90" x2="143.81" y2="123.90" stroke="#3a4ab0" stroke-width="1.15" />
<line x1="143.81" y1="123.90" x2="148.18" y2="123.90" stroke="#e03428" stroke-width="1.15" />
<line x1="148.18" y1="123.90" x2="152.55" y2="123.90" stroke="#e03428" stroke-width="1.15" />
<line x1="152.55" y1="123.90" x2="156.92" y2="123.90" stroke="#8a9488" stroke-width="1.15" />
<line x1="156.92" y1="123.90" x2="161.29" y2="123.90" stroke="#8a9488" stroke-width="1.15" />
<line x1="161.29" y1="123.90" x2="165.66" y2="123.90" stroke="#e03428" stroke-width="1.15" />
<line x1="165.66" y1="123.90" x2="170.03" y2="123.90" stroke="#e03428" stroke-width="1.15" />
<line x1="170.03" y1="123.90" x2="174.40" y2="123.90" stroke="#5a86e0" stroke-width="1.15" />
<line x1="174.40" y1="123.90" x2="178.77" y2="123.90" stroke="#5a86e0" stroke-width="1.15" />
<line x1="178.77" y1="123.90" x2="183.14" y2="123.90" stroke="#e03428" stroke-width="1.15" />
<line x1="183.14" y1="123.90" x2="187.51" y2="123.90" stroke="#e03428" stroke-width="1.15" />
<line x1="187.51" y1="123.90" x2="191.88" y2="123.90" stroke="#e89040" stroke-width="1.15" />
<line x1="191.88" y1="123.90" x2="196.25" y2="123.90" stroke="#e89040" stroke-width="1.15" />
<line x1="196.25" y1="123.90" x2="200.62" y2="123.90" stroke="#e03428" stroke-width="1.15" />
<line x1="200.62" y1="123.90" x2="204.99" y2="123.90" stroke="#e03428" stroke-width="1.15" />
<line x1="204.99" y1="123.90" x2="209.36" y2="123.90" stroke="#c8d0d0" stroke-width="1.15" />
<line x1="209.36" y1="123.90" x2="213.73" y2="123.90" stroke="#c8d0d0" stroke-width="1.15" />
<line x1="213.73" y1="123.90" x2="218.10" y2="123.90" stroke="#e03428" stroke-width="1.15" />
<circle cx="139.44" cy="81.70" r="1.65" fill="url(#ato)" />
<circle cx="156.92" cy="81.70" r="1.65" fill="url(#ato)" />
<circle cx="191.88" cy="81.70" r="1.65" fill="url(#ato)" />
<circle cx="209.36" cy="81.70" r="1.65" fill="url(#ato)" />
<circle cx="130.70" cy="95.60" r="1.65" fill="url(#ato)" />
<circle cx="148.18" cy="95.60" r="1.65" fill="url(#ato)" />
<circle cx="183.14" cy="95.60" r="1.65" fill="url(#ato)" />
<circle cx="200.62" cy="95.60" r="1.65" fill="url(#ato)" />
<circle cx="218.10" cy="95.60" r="1.65" fill="url(#ato)" />
<circle cx="139.44" cy="109.40" r="1.65" fill="url(#ato)" />
<circle cx="156.92" cy="109.40" r="1.65" fill="url(#ato)" />
<circle cx="191.88" cy="109.40" r="1.65" fill="url(#ato)" />
<circle cx="209.36" cy="109.40" r="1.65" fill="url(#ato)" />
<circle cx="130.70" cy="123.90" r="1.65" fill="url(#ato)" />
<circle cx="148.18" cy="123.90" r="1.65" fill="url(#ato)" />
<circle cx="165.66" cy="123.90" r="1.65" fill="url(#ato)" />
<circle cx="183.14" cy="123.90" r="1.65" fill="url(#ato)" />
<circle cx="200.62" cy="123.90" r="1.65" fill="url(#ato)" />
<circle cx="218.10" cy="123.90" r="1.65" fill="url(#ato)" />
<circle cx="130.70" cy="81.70" r="3.65" fill="url(#atM)" />
<circle cx="148.18" cy="81.70" r="2.95" fill="url(#atN)" />
<circle cx="183.14" cy="81.70" r="3.00" fill="url(#atZ)" />
<circle cx="200.62" cy="81.70" r="2.95" fill="url(#atC)" />
<circle cx="218.10" cy="81.70" r="3.65" fill="url(#atM)" />
<circle cx="139.44" cy="95.60" r="2.95" fill="url(#atN)" />
<circle cx="191.88" cy="95.60" r="2.80" fill="url(#atu)" />
<circle cx="209.36" cy="95.60" r="3.65" fill="url(#atM)" />
<circle cx="130.70" cy="109.40" r="2.95" fill="url(#atN)" />
<circle cx="148.18" cy="109.40" r="2.95" fill="url(#atC)" />
<circle cx="165.66" cy="109.40" r="3.00" fill="url(#atZ)" />
<circle cx="183.14" cy="109.40" r="3.00" fill="url(#atZ)" />
<circle cx="200.62" cy="109.40" r="3.65" fill="url(#atM)" />
<circle cx="218.10" cy="109.40" r="2.95" fill="url(#atN)" />
<circle cx="139.44" cy="123.90" r="2.95" fill="url(#atC)" />
<circle cx="156.92" cy="123.90" r="3.00" fill="url(#atZ)" />
<circle cx="174.40" cy="123.90" r="2.80" fill="url(#atu)" />
<circle cx="191.88" cy="123.90" r="3.65" fill="url(#atM)" />
<circle cx="209.36" cy="123.90" r="2.95" fill="url(#atN)" />
<line x1="183.90" y1="81.70" x2="194.00" y2="95.60" stroke="#3a5ad0" stroke-width="1.1" />
<line x1="183.00" y1="109.40" x2="194.00" y2="95.60" stroke="#3a5ad0" stroke-width="1.1" />
<line x1="173.70" y1="123.90" x2="183.00" y2="109.40" stroke="#3a5ad0" stroke-width="1.1" />
<line x1="233.30" y1="80.70" x2="237.59" y2="80.70" stroke="#3a4ab0" stroke-width="1.15" />
<line x1="237.59" y1="80.70" x2="241.88" y2="80.70" stroke="#e03428" stroke-width="1.15" />
<line x1="233.30" y1="80.70" x2="233.30" y2="87.50" stroke="#3a4ab0" stroke-width="1.15" />
<line x1="233.30" y1="87.50" x2="233.30" y2="94.30" stroke="#e03428" stroke-width="1.15" />
<line x1="241.88" y1="80.70" x2="246.17" y2="80.70" stroke="#e03428" stroke-width="1.15" />
<line x1="246.17" y1="80.70" x2="250.46" y2="80.70" stroke="#8a9488" stroke-width="1.15" />
<line x1="241.88" y1="80.70" x2="241.88" y2="87.50" stroke="#e03428" stroke-width="1.15" />
<line x1="241.88" y1="87.50" x2="241.88" y2="94.30" stroke="#c8d0d0" stroke-width="1.15" />
<line x1="250.46" y1="80.70" x2="250.46" y2="87.50" stroke="#8a9488" stroke-width="1.15" />
<line x1="250.46" y1="87.50" x2="250.46" y2="94.30" stroke="#e03428" stroke-width="1.15" />
<line x1="284.78" y1="80.70" x2="289.07" y2="80.70" stroke="#e89040" stroke-width="1.15" />
<line x1="289.07" y1="80.70" x2="293.36" y2="80.70" stroke="#e03428" stroke-width="1.15" />
<line x1="284.78" y1="80.70" x2="284.78" y2="87.50" stroke="#e89040" stroke-width="1.15" />
<line x1="284.78" y1="87.50" x2="284.78" y2="94.30" stroke="#e03428" stroke-width="1.15" />
<line x1="293.36" y1="80.70" x2="297.65" y2="80.70" stroke="#e03428" stroke-width="1.15" />
<line x1="297.65" y1="80.70" x2="301.94" y2="80.70" stroke="#c8d0d0" stroke-width="1.15" />
<line x1="293.36" y1="80.70" x2="293.36" y2="87.50" stroke="#e03428" stroke-width="1.15" />
<line x1="293.36" y1="87.50" x2="293.36" y2="94.30" stroke="#5a86e0" stroke-width="1.15" />
<line x1="301.94" y1="80.70" x2="306.23" y2="80.70" stroke="#c8d0d0" stroke-width="1.15" />
<line x1="306.23" y1="80.70" x2="310.52" y2="80.70" stroke="#e03428" stroke-width="1.15" />
<line x1="301.94" y1="80.70" x2="301.94" y2="87.50" stroke="#c8d0d0" stroke-width="1.15" />
<line x1="301.94" y1="87.50" x2="301.94" y2="94.30" stroke="#e03428" stroke-width="1.15" />
<line x1="310.52" y1="80.70" x2="314.81" y2="80.70" stroke="#e03428" stroke-width="1.15" />
<line x1="314.81" y1="80.70" x2="319.10" y2="80.70" stroke="#3a4ab0" stroke-width="1.15" />
<line x1="310.52" y1="80.70" x2="310.52" y2="87.50" stroke="#e03428" stroke-width="1.15" />
<line x1="310.52" y1="87.50" x2="310.52" y2="94.30" stroke="#e89040" stroke-width="1.15" />
<line x1="319.10" y1="80.70" x2="319.10" y2="87.50" stroke="#3a4ab0" stroke-width="1.15" />
<line x1="319.10" y1="87.50" x2="319.10" y2="94.30" stroke="#e03428" stroke-width="1.15" />
<line x1="233.30" y1="94.30" x2="237.59" y2="94.30" stroke="#e03428" stroke-width="1.15" />
<line x1="237.59" y1="94.30" x2="241.88" y2="94.30" stroke="#c8d0d0" stroke-width="1.15" />
<line x1="233.30" y1="94.30" x2="233.30" y2="101.40" stroke="#e03428" stroke-width="1.15" />
<line x1="233.30" y1="101.40" x2="233.30" y2="108.50" stroke="#c8d0d0" stroke-width="1.15" />
<line x1="241.88" y1="94.30" x2="246.17" y2="94.30" stroke="#c8d0d0" stroke-width="1.15" />
<line x1="246.17" y1="94.30" x2="250.46" y2="94.30" stroke="#e03428" stroke-width="1.15" />
<line x1="241.88" y1="94.30" x2="241.88" y2="101.40" stroke="#c8d0d0" stroke-width="1.15" />
<line x1="241.88" y1="101.40" x2="241.88" y2="108.50" stroke="#e03428" stroke-width="1.15" />
<line x1="250.46" y1="94.30" x2="250.46" y2="101.40" stroke="#e03428" stroke-width="1.15" />
<line x1="250.46" y1="101.40" x2="250.46" y2="108.50" stroke="#3a4ab0" stroke-width="1.15" />
<line x1="276.20" y1="94.30" x2="280.49" y2="94.30" stroke="#8a9488" stroke-width="1.15" />
<line x1="280.49" y1="94.30" x2="284.78" y2="94.30" stroke="#e03428" stroke-width="1.15" />
<line x1="276.20" y1="94.30" x2="276.20" y2="101.40" stroke="#8a9488" stroke-width="1.15" />
<line x1="276.20" y1="101.40" x2="276.20" y2="108.50" stroke="#e03428" stroke-width="1.15" />
<line x1="284.78" y1="94.30" x2="289.07" y2="94.30" stroke="#e03428" stroke-width="1.15" />
<line x1="289.07" y1="94.30" x2="293.36" y2="94.30" stroke="#5a86e0" stroke-width="1.15" />
<line x1="284.78" y1="94.30" x2="284.78" y2="101.40" stroke="#e03428" stroke-width="1.15" />
<line x1="284.78" y1="101.40" x2="284.78" y2="108.50" stroke="#5a86e0" stroke-width="1.15" />
<line x1="293.36" y1="94.30" x2="297.65" y2="94.30" stroke="#5a86e0" stroke-width="1.15" />
<line x1="297.65" y1="94.30" x2="301.94" y2="94.30" stroke="#e03428" stroke-width="1.15" />
<line x1="293.36" y1="94.30" x2="293.36" y2="101.40" stroke="#5a86e0" stroke-width="1.15" />
<line x1="293.36" y1="101.40" x2="293.36" y2="108.50" stroke="#e03428" stroke-width="1.15" />
<line x1="301.94" y1="94.30" x2="306.23" y2="94.30" stroke="#e03428" stroke-width="1.15" />
<line x1="306.23" y1="94.30" x2="310.52" y2="94.30" stroke="#e89040" stroke-width="1.15" />
<line x1="301.94" y1="94.30" x2="301.94" y2="101.40" stroke="#e03428" stroke-width="1.15" />
<line x1="301.94" y1="101.40" x2="301.94" y2="108.50" stroke="#e89040" stroke-width="1.15" />
<line x1="310.52" y1="94.30" x2="314.81" y2="94.30" stroke="#e89040" stroke-width="1.15" />
<line x1="314.81" y1="94.30" x2="319.10" y2="94.30" stroke="#e03428" stroke-width="1.15" />
<line x1="310.52" y1="94.30" x2="310.52" y2="101.40" stroke="#e89040" stroke-width="1.15" />
<line x1="310.52" y1="101.40" x2="310.52" y2="108.50" stroke="#e03428" stroke-width="1.15" />
<line x1="319.10" y1="94.30" x2="319.10" y2="101.40" stroke="#e03428" stroke-width="1.15" />
<line x1="319.10" y1="101.40" x2="319.10" y2="108.50" stroke="#c8d0d0" stroke-width="1.15" />
<line x1="233.30" y1="108.50" x2="237.59" y2="108.50" stroke="#c8d0d0" stroke-width="1.15" />
<line x1="237.59" y1="108.50" x2="241.88" y2="108.50" stroke="#e03428" stroke-width="1.15" />
<line x1="233.30" y1="108.50" x2="233.30" y2="115.45" stroke="#c8d0d0" stroke-width="1.15" />
<line x1="233.30" y1="115.45" x2="233.30" y2="122.40" stroke="#e03428" stroke-width="1.15" />
<line x1="241.88" y1="108.50" x2="246.17" y2="108.50" stroke="#e03428" stroke-width="1.15" />
<line x1="246.17" y1="108.50" x2="250.46" y2="108.50" stroke="#3a4ab0" stroke-width="1.15" />
<line x1="241.88" y1="108.50" x2="241.88" y2="115.45" stroke="#e03428" stroke-width="1.15" />
<line x1="241.88" y1="115.45" x2="241.88" y2="122.40" stroke="#3a4ab0" stroke-width="1.15" />
<line x1="250.46" y1="108.50" x2="254.75" y2="108.50" stroke="#3a4ab0" stroke-width="1.15" />
<line x1="254.75" y1="108.50" x2="259.04" y2="108.50" stroke="#e03428" stroke-width="1.15" />
<line x1="250.46" y1="108.50" x2="250.46" y2="115.45" stroke="#3a4ab0" stroke-width="1.15" />
<line x1="250.46" y1="115.45" x2="250.46" y2="122.40" stroke="#e03428" stroke-width="1.15" />
<line x1="259.04" y1="108.50" x2="263.33" y2="108.50" stroke="#e03428" stroke-width="1.15" />
<line x1="263.33" y1="108.50" x2="267.62" y2="108.50" stroke="#8a9488" stroke-width="1.15" />
<line x1="259.04" y1="108.50" x2="259.04" y2="115.45" stroke="#e03428" stroke-width="1.15" />
<line x1="259.04" y1="115.45" x2="259.04" y2="122.40" stroke="#8a9488" stroke-width="1.15" />
<line x1="267.62" y1="108.50" x2="271.91" y2="108.50" stroke="#8a9488" stroke-width="1.15" />
<line x1="271.91" y1="108.50" x2="276.20" y2="108.50" stroke="#e03428" stroke-width="1.15" />
<line x1="267.62" y1="108.50" x2="267.62" y2="115.45" stroke="#8a9488" stroke-width="1.15" />
<line x1="267.62" y1="115.45" x2="267.62" y2="122.40" stroke="#e03428" stroke-width="1.15" />
<line x1="276.20" y1="108.50" x2="280.49" y2="108.50" stroke="#e03428" stroke-width="1.15" />
<line x1="280.49" y1="108.50" x2="284.78" y2="108.50" stroke="#5a86e0" stroke-width="1.15" />
<line x1="284.78" y1="108.50" x2="289.07" y2="108.50" stroke="#5a86e0" stroke-width="1.15" />
<line x1="289.07" y1="108.50" x2="293.36" y2="108.50" stroke="#e03428" stroke-width="1.15" />
<line x1="284.78" y1="108.50" x2="284.78" y2="115.45" stroke="#5a86e0" stroke-width="1.15" />
<line x1="284.78" y1="115.45" x2="284.78" y2="122.40" stroke="#e03428" stroke-width="1.15" />
<line x1="293.36" y1="108.50" x2="297.65" y2="108.50" stroke="#e03428" stroke-width="1.15" />
<line x1="297.65" y1="108.50" x2="301.94" y2="108.50" stroke="#e89040" stroke-width="1.15" />
<line x1="293.36" y1="108.50" x2="293.36" y2="115.45" stroke="#e03428" stroke-width="1.15" />
<line x1="293.36" y1="115.45" x2="293.36" y2="122.40" stroke="#e89040" stroke-width="1.15" />
<line x1="301.94" y1="108.50" x2="306.23" y2="108.50" stroke="#e89040" stroke-width="1.15" />
<line x1="306.23" y1="108.50" x2="310.52" y2="108.50" stroke="#e03428" stroke-width="1.15" />
<line x1="301.94" y1="108.50" x2="301.94" y2="115.45" stroke="#e89040" stroke-width="1.15" />
<line x1="301.94" y1="115.45" x2="301.94" y2="122.40" stroke="#e03428" stroke-width="1.15" />
<line x1="310.52" y1="108.50" x2="314.81" y2="108.50" stroke="#e03428" stroke-width="1.15" />
<line x1="314.81" y1="108.50" x2="319.10" y2="108.50" stroke="#c8d0d0" stroke-width="1.15" />
<line x1="310.52" y1="108.50" x2="310.52" y2="115.45" stroke="#e03428" stroke-width="1.15" />
<line x1="310.52" y1="115.45" x2="310.52" y2="122.40" stroke="#c8d0d0" stroke-width="1.15" />
<line x1="319.10" y1="108.50" x2="319.10" y2="115.45" stroke="#c8d0d0" stroke-width="1.15" />
<line x1="319.10" y1="115.45" x2="319.10" y2="122.40" stroke="#e03428" stroke-width="1.15" />
<line x1="233.30" y1="122.40" x2="237.59" y2="122.40" stroke="#e03428" stroke-width="1.15" />
<line x1="237.59" y1="122.40" x2="241.88" y2="122.40" stroke="#3a4ab0" stroke-width="1.15" />
<line x1="241.88" y1="122.40" x2="246.17" y2="122.40" stroke="#3a4ab0" stroke-width="1.15" />
<line x1="246.17" y1="122.40" x2="250.46" y2="122.40" stroke="#e03428" stroke-width="1.15" />
<line x1="250.46" y1="122.40" x2="254.75" y2="122.40" stroke="#e03428" stroke-width="1.15" />
<line x1="254.75" y1="122.40" x2="259.04" y2="122.40" stroke="#8a9488" stroke-width="1.15" />
<line x1="259.04" y1="122.40" x2="263.33" y2="122.40" stroke="#8a9488" stroke-width="1.15" />
<line x1="263.33" y1="122.40" x2="267.62" y2="122.40" stroke="#e03428" stroke-width="1.15" />
<line x1="284.78" y1="122.40" x2="289.07" y2="122.40" stroke="#e03428" stroke-width="1.15" />
<line x1="289.07" y1="122.40" x2="293.36" y2="122.40" stroke="#e89040" stroke-width="1.15" />
<line x1="293.36" y1="122.40" x2="297.65" y2="122.40" stroke="#e89040" stroke-width="1.15" />
<line x1="297.65" y1="122.40" x2="301.94" y2="122.40" stroke="#e03428" stroke-width="1.15" />
<line x1="301.94" y1="122.40" x2="306.23" y2="122.40" stroke="#e03428" stroke-width="1.15" />
<line x1="306.23" y1="122.40" x2="310.52" y2="122.40" stroke="#c8d0d0" stroke-width="1.15" />
<line x1="310.52" y1="122.40" x2="314.81" y2="122.40" stroke="#c8d0d0" stroke-width="1.15" />
<line x1="314.81" y1="122.40" x2="319.10" y2="122.40" stroke="#e03428" stroke-width="1.15" />
<circle cx="241.88" cy="80.70" r="1.65" fill="url(#ato)" />
<circle cx="293.36" cy="80.70" r="1.65" fill="url(#ato)" />
<circle cx="310.52" cy="80.70" r="1.65" fill="url(#ato)" />
<circle cx="233.30" cy="94.30" r="1.65" fill="url(#ato)" />
<circle cx="250.46" cy="94.30" r="1.65" fill="url(#ato)" />
<circle cx="284.78" cy="94.30" r="1.65" fill="url(#ato)" />
<circle cx="301.94" cy="94.30" r="1.65" fill="url(#ato)" />
<circle cx="319.10" cy="94.30" r="1.65" fill="url(#ato)" />
<circle cx="241.88" cy="108.50" r="1.65" fill="url(#ato)" />
<circle cx="259.04" cy="108.50" r="1.65" fill="url(#ato)" />
<circle cx="276.20" cy="108.50" r="1.65" fill="url(#ato)" />
<circle cx="293.36" cy="108.50" r="1.65" fill="url(#ato)" />
<circle cx="310.52" cy="108.50" r="1.65" fill="url(#ato)" />
<circle cx="233.30" cy="122.40" r="1.65" fill="url(#ato)" />
<circle cx="250.46" cy="122.40" r="1.65" fill="url(#ato)" />
<circle cx="267.62" cy="122.40" r="1.65" fill="url(#ato)" />
<circle cx="284.78" cy="122.40" r="1.65" fill="url(#ato)" />
<circle cx="301.94" cy="122.40" r="1.65" fill="url(#ato)" />
<circle cx="319.10" cy="122.40" r="1.65" fill="url(#ato)" />
<circle cx="233.30" cy="80.70" r="2.95" fill="url(#atC)" />
<circle cx="250.46" cy="80.70" r="3.00" fill="url(#atZ)" />
<circle cx="284.78" cy="80.70" r="3.65" fill="url(#atM)" />
<circle cx="301.94" cy="80.70" r="2.95" fill="url(#atN)" />
<circle cx="319.10" cy="80.70" r="2.95" fill="url(#atC)" />
<circle cx="241.88" cy="94.30" r="2.95" fill="url(#atN)" />
<circle cx="276.20" cy="94.30" r="3.00" fill="url(#atZ)" />
<circle cx="293.36" cy="94.30" r="2.80" fill="url(#atu)" />
<circle cx="310.52" cy="94.30" r="3.65" fill="url(#atM)" />
<circle cx="233.30" cy="108.50" r="2.95" fill="url(#atN)" />
<circle cx="250.46" cy="108.50" r="2.95" fill="url(#atC)" />
<circle cx="267.62" cy="108.50" r="3.00" fill="url(#atZ)" />
<circle cx="284.78" cy="108.50" r="2.80" fill="url(#atu)" />
<circle cx="301.94" cy="108.50" r="3.65" fill="url(#atM)" />
<circle cx="319.10" cy="108.50" r="2.95" fill="url(#atN)" />
<circle cx="241.88" cy="122.40" r="2.95" fill="url(#atC)" />
<circle cx="259.04" cy="122.40" r="3.00" fill="url(#atZ)" />
<circle cx="293.36" cy="122.40" r="3.65" fill="url(#atM)" />
<circle cx="310.52" cy="122.40" r="2.95" fill="url(#atN)" />
<line x1="270.40" y1="108.50" x2="279.00" y2="117.20" stroke="#3a5ad0" stroke-width="1.1" />
<line x1="279.00" y1="117.20" x2="294.40" y2="122.40" stroke="#3a5ad0" stroke-width="1.1" />
<line x1="278.70" y1="94.30" x2="285.70" y2="108.50" stroke="#3a5ad0" stroke-width="1.1" />
<line x1="270.40" y1="108.50" x2="285.70" y2="108.50" stroke="#3a5ad0" stroke-width="1.1" />
<circle cx="279.00" cy="117.20" r="2.80" fill="url(#atu)" />
<path d="M52.5,82 C52,76 59,75 60.5,80 C61.5,86 61,93 58,96.5 C54.5,97 52,93 52.5,87 Z" fill="#f0f04a" stroke="#a8a020" stroke-width="0.5"/>
<path d="M63.5,81 C64,76 71.5,76 72.4,81.5 C73,87 70.5,94.5 66,95.5 C63,95 62.5,87 63.5,81 Z" fill="#f0f04a" stroke="#a8a020" stroke-width="0.5"/>
<path d="M60,79 C59.5,73.5 66,73.5 66,79 C66.5,83.5 63.5,86.5 61.5,85.5 C60,84.5 60,82 60,79 Z" fill="#80e8e0" stroke="#30a0a8" stroke-width="0.5"/>
<ellipse cx="60.5" cy="93.5" rx="3.2" ry="2.6" fill="#f0f04a" stroke="#a8a020" stroke-width="0.5"/>
<ellipse cx="60.5" cy="93.5" rx="1.6" ry="1.3" fill="#80e8e0" stroke="#30a0a8" stroke-width="0.5"/>
<ellipse cx="53" cy="97" rx="3.2" ry="3.2" fill="#80e8e0" stroke="#30a0a8" stroke-width="0.5"/>
<ellipse cx="50.5" cy="95" rx="2.2" ry="1.8" fill="#f0f04a" stroke="#a8a020" stroke-width="0.5"/>
<ellipse cx="35.5" cy="81.5" rx="1.8" ry="1.3" fill="#80e8e0" stroke="#30a0a8" stroke-width="0.5"/>
<ellipse cx="40" cy="81.8" rx="1.4" ry="1.1" fill="#f0f04a" stroke="#a8a020" stroke-width="0.5"/>
<ellipse cx="74.5" cy="81" rx="1.5" ry="1.1" fill="#80e8e0" stroke="#30a0a8" stroke-width="0.5"/>
<ellipse cx="78" cy="82.5" rx="1.3" ry="1" fill="#f0f04a" stroke="#a8a020" stroke-width="0.5"/>
<ellipse cx="87" cy="82" rx="1.3" ry="1" fill="#80e8e0" stroke="#30a0a8" stroke-width="0.5"/>
<ellipse cx="90" cy="82.2" rx="1.2" ry="0.9" fill="#f0f04a" stroke="#a8a020" stroke-width="0.5"/>
<ellipse cx="97" cy="82" rx="1.6" ry="1.2" fill="#80e8e0" stroke="#30a0a8" stroke-width="0.5"/>
<ellipse cx="68.5" cy="95.5" rx="1.4" ry="1.1" fill="#f0f04a" stroke="#a8a020" stroke-width="0.5"/>
<ellipse cx="73" cy="95.5" rx="1.2" ry="1.0" fill="#80e8e0" stroke="#30a0a8" stroke-width="0.5"/>
<ellipse cx="47" cy="90" rx="1.3" ry="1.0" fill="#f0f04a" stroke="#a8a020" stroke-width="0.5"/>
<ellipse cx="50" cy="87" rx="1.2" ry="1" fill="#80e8e0" stroke="#30a0a8" stroke-width="0.5"/>
<ellipse cx="68" cy="82.5" rx="1.2" ry="0.9" fill="#80e8e0" stroke="#30a0a8" stroke-width="0.5"/>
<ellipse cx="56" cy="101" rx="1.3" ry="1.1" fill="#f0f04a" stroke="#a8a020" stroke-width="0.5"/>
<ellipse cx="173" cy="84.8" rx="7.6" ry="4.6" fill="#f0f04a" stroke="#a8a020" stroke-width="0.5"/>
<ellipse cx="168.5" cy="81.5" rx="2.6" ry="1.9" fill="#80e8e0" stroke="#30a0a8" stroke-width="0.5"/>
<ellipse cx="175" cy="77.5" rx="2.6" ry="1.9" fill="#3a60c8" stroke="#30a0a8" stroke-width="0.6"/>
<ellipse cx="159.8" cy="81.5" rx="2.6" ry="2.4" fill="#80e8e0" stroke="#30a0a8" stroke-width="0.5"/>
<ellipse cx="159.8" cy="81.5" rx="1.2" ry="1.1" fill="#f0f04a" stroke="#a8a020" stroke-width="0.5"/>
<path d="M157,95 C157,89 165,88.5 171,90 C178,88.5 185,90 185,96 C185,101 180,103 174,102.5 C168,103 160,101.5 157,95 Z" fill="#f0f04a" stroke="#a8a020" stroke-width="0.5"/>
<path d="M182,99 C184,104 180,108 176,108.5 C172,109 170,112 171,115 C167,113 166,108 170,105 C174,102.5 179,103 182,99 Z" fill="#f0f04a" stroke="#a8a020" stroke-width="0.5"/>
<ellipse cx="175" cy="96" rx="5.6" ry="4.9" fill="#80e8e0" stroke="#30a0a8" stroke-width="0.5"/>
<ellipse cx="161" cy="95" rx="3.2" ry="3.0" fill="#80e8e0" stroke="#30a0a8" stroke-width="0.5"/>
<ellipse cx="161" cy="95" rx="1.4" ry="1.3" fill="#f0f04a" stroke="#a8a020" stroke-width="0.5"/>
<ellipse cx="169.5" cy="114.5" rx="2" ry="3" fill="#80e8e0" stroke="#30a0a8" stroke-width="0.5"/>
<ellipse cx="155" cy="94.5" rx="1.8" ry="2.4" fill="#80e8e0" stroke="#30a0a8" stroke-width="0.5"/>
<ellipse cx="148" cy="82" rx="1.5" ry="1.2" fill="#80e8e0" stroke="#30a0a8" stroke-width="0.5"/>
<ellipse cx="150" cy="84.5" rx="1.2" ry="1" fill="#f0f04a" stroke="#a8a020" stroke-width="0.5"/>
<ellipse cx="188" cy="82" rx="1.4" ry="1.1" fill="#f0f04a" stroke="#a8a020" stroke-width="0.5"/>
<ellipse cx="191" cy="82" rx="1.2" ry="1" fill="#80e8e0" stroke="#30a0a8" stroke-width="0.5"/>
<ellipse cx="186.5" cy="96" rx="1.3" ry="1" fill="#f0f04a" stroke="#a8a020" stroke-width="0.5"/>
<ellipse cx="163" cy="118" rx="1.2" ry="1" fill="#f0f04a" stroke="#a8a020" stroke-width="0.5"/>
<ellipse cx="178" cy="126" rx="1.3" ry="1" fill="#80e8e0" stroke="#30a0a8" stroke-width="0.5"/>
<ellipse cx="167" cy="126" rx="1.2" ry="1" fill="#f0f04a" stroke="#a8a020" stroke-width="0.5"/>
<ellipse cx="184" cy="126" rx="1.2" ry="0.9" fill="#f0f04a" stroke="#a8a020" stroke-width="0.5"/>
<ellipse cx="173.3" cy="119.5" rx="1.6" ry="1.4" fill="#80e8e0" stroke="#30a0a8" stroke-width="0.5"/>
<path d="M265.4,76 C264.5,69 270,66.5 274,68 C278.5,70 278.5,78 276.5,82 C274.5,84.5 267,84.5 265.4,80 Z" fill="#f0f04a" stroke="#a8a020" stroke-width="0.5"/>
<path d="M273,68.5 C277,68 279,72 278,77 C277.5,80 275,80.5 274.5,78 C276,75 275.5,71 273,68.5 Z" fill="#80e8e0" stroke="#30a0a8" stroke-width="0.5"/>
<path d="M253,88 C252,82 257,79.5 262,80.5 C267,79 274,80 276.5,85 C278.5,91 277,98 271,100.5 C265,102.5 257,101.5 254,97 C252.5,94 253.5,91 253,88 Z" fill="#f0f04a" stroke="#a8a020" stroke-width="0.5"/>
<ellipse cx="266" cy="89.5" rx="7" ry="6.6" fill="#80e8e0" stroke="#30a0a8" stroke-width="0.5"/>
<ellipse cx="277.3" cy="80.3" rx="1.6" ry="1.3" fill="#f0f04a" stroke="#a8a020" stroke-width="0.5"/>
<ellipse cx="278.5" cy="83.4" rx="1.3" ry="1.1" fill="#80e8e0" stroke="#30a0a8" stroke-width="0.5"/>
<ellipse cx="255" cy="96" rx="1.6" ry="1.3" fill="#80e8e0" stroke="#30a0a8" stroke-width="0.5"/>
<ellipse cx="252" cy="93" rx="1.4" ry="1.1" fill="#f0f04a" stroke="#a8a020" stroke-width="0.5"/>
<ellipse cx="266" cy="101.5" rx="1.6" ry="1.2" fill="#f0f04a" stroke="#a8a020" stroke-width="0.5"/>
<ellipse cx="270" cy="102" rx="1.3" ry="1" fill="#80e8e0" stroke="#30a0a8" stroke-width="0.5"/>
<ellipse cx="300" cy="80" rx="1.3" ry="1" fill="#80e8e0" stroke="#30a0a8" stroke-width="0.5"/>
<ellipse cx="303" cy="79" rx="1.2" ry="0.9" fill="#f0f04a" stroke="#a8a020" stroke-width="0.5"/>
<ellipse cx="258" cy="103" rx="1.2" ry="1" fill="#f0f04a" stroke="#a8a020" stroke-width="0.5"/>
<ellipse cx="250.5" cy="84" rx="1.3" ry="1.1" fill="#f0f04a" stroke="#a8a020" stroke-width="0.5"/>
<text x="7.00" y="135.60" font-size="10.6" fill="#111" text-anchor="start" font-weight="bold" font-family='"Liberation Sans", sans-serif' >(a)</text>
<text x="68.30" y="138.00" font-size="6.0" fill="#222" text-anchor="middle" font-weight="normal" font-family='"Liberation Sans", sans-serif' >MO</text>
<text x="176.40" y="138.00" font-size="6.0" fill="#222" text-anchor="middle" font-weight="normal" font-family='"Liberation Sans", sans-serif' >MO-V<tspan font-size="3.9" dy="1.2">o</tspan><tspan dy="-1.2">(site I)</tspan></text>
<text x="273.40" y="138.00" font-size="6.0" fill="#222" text-anchor="middle" font-weight="normal" font-family='"Liberation Sans", sans-serif' >MO-V<tspan font-size="3.9" dy="1.2">o</tspan><tspan dy="-1.2">(site II)</tspan></text>
<text x="66.90" y="158.20" font-size="6.3" font-family='"Liberation Serif", serif' fill="#222" font-weight="bold">AlCl<tspan font-size="3.6" dy="1.4">4</tspan><tspan font-size="3.6" dy="-4.4">-</tspan></text>
<line x1="87.80" y1="151.80" x2="89.20" y2="147.20" stroke="#60c050" stroke-width="0.9" />
<line x1="87.80" y1="151.80" x2="84.20" y2="150.20" stroke="#60c050" stroke-width="0.9" />
<line x1="87.80" y1="151.80" x2="91.80" y2="153.40" stroke="#60c050" stroke-width="0.9" />
<line x1="87.80" y1="151.80" x2="85.20" y2="156.20" stroke="#60c050" stroke-width="0.9" />
<circle cx="89.20" cy="147.20" r="1.25" fill="url(#clg)" />
<circle cx="84.20" cy="150.20" r="1.25" fill="url(#clg)" />
<circle cx="91.80" cy="153.40" r="1.25" fill="url(#clg)" />
<circle cx="85.20" cy="156.20" r="1.25" fill="url(#clg)" />
<rect x="85.90" y="149.90" width="3.8" height="3.8" fill="url(#alg)" stroke="#5a7a98" stroke-width="0.5"/>
<line x1="77.70" y1="164.70" x2="81.50" y2="169.90" stroke="#e03020" stroke-width="0.55" />
<line x1="81.50" y1="164.70" x2="77.70" y2="169.90" stroke="#e03020" stroke-width="0.55" />
<line x1="81.50" y1="164.70" x2="85.30" y2="169.90" stroke="#e03020" stroke-width="0.55" />
<line x1="85.30" y1="164.70" x2="81.50" y2="169.90" stroke="#e03020" stroke-width="0.55" />
<line x1="85.30" y1="164.70" x2="89.10" y2="169.90" stroke="#e03020" stroke-width="0.55" />
<line x1="89.10" y1="164.70" x2="85.30" y2="169.90" stroke="#e03020" stroke-width="0.55" />
<line x1="89.10" y1="164.70" x2="93.00" y2="169.90" stroke="#e03020" stroke-width="0.55" />
<line x1="93.00" y1="164.70" x2="89.10" y2="169.90" stroke="#e03020" stroke-width="0.55" />
<line x1="77.70" y1="169.90" x2="81.50" y2="175.10" stroke="#e03020" stroke-width="0.55" />
<line x1="81.50" y1="169.90" x2="77.70" y2="175.10" stroke="#e03020" stroke-width="0.55" />
<line x1="81.50" y1="169.90" x2="85.30" y2="175.10" stroke="#e03020" stroke-width="0.55" />
<line x1="85.30" y1="169.90" x2="81.50" y2="175.10" stroke="#e03020" stroke-width="0.55" />
<line x1="85.30" y1="169.90" x2="89.10" y2="175.10" stroke="#e03020" stroke-width="0.55" />
<line x1="89.10" y1="169.90" x2="85.30" y2="175.10" stroke="#e03020" stroke-width="0.55" />
<line x1="89.10" y1="169.90" x2="93.00" y2="175.10" stroke="#e03020" stroke-width="0.55" />
<line x1="93.00" y1="169.90" x2="89.10" y2="175.10" stroke="#e03020" stroke-width="0.55" />
<line x1="77.70" y1="175.10" x2="81.50" y2="180.40" stroke="#e03020" stroke-width="0.55" />
<line x1="81.50" y1="175.10" x2="77.70" y2="180.40" stroke="#e03020" stroke-width="0.55" />
<line x1="81.50" y1="175.10" x2="85.30" y2="180.40" stroke="#e03020" stroke-width="0.55" />
<line x1="85.30" y1="175.10" x2="81.50" y2="180.40" stroke="#e03020" stroke-width="0.55" />
<line x1="85.30" y1="175.10" x2="89.10" y2="180.40" stroke="#e03020" stroke-width="0.55" />
<line x1="89.10" y1="175.10" x2="85.30" y2="180.40" stroke="#e03020" stroke-width="0.55" />
<line x1="89.10" y1="175.10" x2="93.00" y2="180.40" stroke="#e03020" stroke-width="0.55" />
<line x1="93.00" y1="175.10" x2="89.10" y2="180.40" stroke="#e03020" stroke-width="0.55" />
<line x1="77.70" y1="180.40" x2="81.50" y2="185.60" stroke="#e03020" stroke-width="0.55" />
<line x1="81.50" y1="180.40" x2="77.70" y2="185.60" stroke="#e03020" stroke-width="0.55" />
<line x1="81.50" y1="180.40" x2="85.30" y2="185.60" stroke="#e03020" stroke-width="0.55" />
<line x1="85.30" y1="180.40" x2="81.50" y2="185.60" stroke="#e03020" stroke-width="0.55" />
<line x1="85.30" y1="180.40" x2="89.10" y2="185.60" stroke="#e03020" stroke-width="0.55" />
<line x1="89.10" y1="180.40" x2="85.30" y2="185.60" stroke="#e03020" stroke-width="0.55" />
<line x1="89.10" y1="180.40" x2="93.00" y2="185.60" stroke="#e03020" stroke-width="0.55" />
<line x1="93.00" y1="180.40" x2="89.10" y2="185.60" stroke="#e03020" stroke-width="0.55" />
<line x1="77.70" y1="185.60" x2="81.50" y2="190.90" stroke="#e03020" stroke-width="0.55" />
<line x1="81.50" y1="185.60" x2="77.70" y2="190.90" stroke="#e03020" stroke-width="0.55" />
<line x1="81.50" y1="185.60" x2="85.30" y2="190.90" stroke="#e03020" stroke-width="0.55" />
<line x1="85.30" y1="185.60" x2="81.50" y2="190.90" stroke="#e03020" stroke-width="0.55" />
<line x1="85.30" y1="185.60" x2="89.10" y2="190.90" stroke="#e03020" stroke-width="0.55" />
<line x1="89.10" y1="185.60" x2="85.30" y2="190.90" stroke="#e03020" stroke-width="0.55" />
<line x1="89.10" y1="185.60" x2="93.00" y2="190.90" stroke="#e03020" stroke-width="0.55" />
<line x1="93.00" y1="185.60" x2="89.10" y2="190.90" stroke="#e03020" stroke-width="0.55" />
<circle cx="77.70" cy="164.70" r="0.95" fill="url(#og)" />
<circle cx="81.50" cy="164.70" r="0.95" fill="url(#og)" />
<circle cx="85.30" cy="164.70" r="0.95" fill="url(#og)" />
<circle cx="89.10" cy="164.70" r="0.95" fill="url(#og)" />
<circle cx="93.00" cy="164.70" r="0.95" fill="url(#og)" />
<circle cx="77.70" cy="169.90" r="0.95" fill="url(#og)" />
<circle cx="81.50" cy="169.90" r="0.95" fill="url(#og)" />
<circle cx="85.30" cy="169.90" r="0.95" fill="url(#og)" />
<circle cx="89.10" cy="169.90" r="0.95" fill="url(#og)" />
<circle cx="93.00" cy="169.90" r="0.95" fill="url(#og)" />
<circle cx="77.70" cy="175.10" r="0.95" fill="url(#og)" />
<circle cx="81.50" cy="175.10" r="0.95" fill="url(#og)" />
<circle cx="85.30" cy="175.10" r="0.95" fill="url(#og)" />
<circle cx="89.10" cy="175.10" r="0.95" fill="url(#og)" />
<circle cx="93.00" cy="175.10" r="0.95" fill="url(#og)" />
<circle cx="77.70" cy="180.40" r="0.95" fill="url(#og)" />
<circle cx="81.50" cy="180.40" r="0.95" fill="url(#og)" />
<circle cx="85.30" cy="180.40" r="0.95" fill="url(#og)" />
<circle cx="89.10" cy="180.40" r="0.95" fill="url(#og)" />
<circle cx="93.00" cy="180.40" r="0.95" fill="url(#og)" />
<circle cx="77.70" cy="185.60" r="0.95" fill="url(#og)" />
<circle cx="81.50" cy="185.60" r="0.95" fill="url(#og)" />
<circle cx="85.30" cy="185.60" r="0.95" fill="url(#og)" />
<circle cx="89.10" cy="185.60" r="0.95" fill="url(#og)" />
<circle cx="93.00" cy="185.60" r="0.95" fill="url(#og)" />
<circle cx="77.70" cy="190.90" r="0.95" fill="url(#og)" />
<circle cx="81.50" cy="190.90" r="0.95" fill="url(#og)" />
<circle cx="85.30" cy="190.90" r="0.95" fill="url(#og)" />
<circle cx="89.10" cy="190.90" r="0.95" fill="url(#og)" />
<circle cx="93.00" cy="190.90" r="0.95" fill="url(#og)" />
<circle cx="85.30" cy="162.80" r="1.75" fill="url(#feg)" />
<circle cx="81.50" cy="167.00" r="1.75" fill="url(#feg)" />
<circle cx="89.10" cy="167.00" r="1.75" fill="url(#feg)" />
<circle cx="81.50" cy="172.80" r="1.75" fill="url(#feg)" />
<circle cx="85.30" cy="171.80" r="1.75" fill="url(#feg)" />
<circle cx="85.30" cy="178.00" r="1.75" fill="url(#feg)" />
<circle cx="89.10" cy="177.00" r="1.75" fill="url(#feg)" />
<circle cx="81.50" cy="182.80" r="1.75" fill="url(#feg)" />
<circle cx="89.10" cy="183.20" r="1.75" fill="url(#feg)" />
<circle cx="81.50" cy="189.00" r="1.75" fill="url(#feg)" />
<circle cx="85.30" cy="189.00" r="1.75" fill="url(#feg)" />
<circle cx="89.10" cy="189.00" r="1.75" fill="url(#feg)" />
<line x1="64.60" y1="190.00" x2="64.60" y2="182.00" stroke="#1a1ae0" stroke-width="1.0" />
<path d="M63.30,182.50 L64.60,180.20 L65.90,182.50 Z" fill="#1a1ae0"/>
<line x1="64.60" y1="190.00" x2="71.10" y2="190.00" stroke="#30d030" stroke-width="1.0" />
<path d="M70.60,188.70 L72.90,190.00 L70.60,191.30 Z" fill="#30d030"/>
<circle cx="64.60" cy="190.00" r="0.90" fill="#801818" />
<text x="64.80" y="179.30" font-size="2.6" fill="#444" text-anchor="middle" font-weight="normal" font-family='"Liberation Sans", sans-serif' >z</text>
<text x="74.40" y="190.90" font-size="2.6" fill="#444" text-anchor="middle" font-weight="normal" font-family='"Liberation Sans", sans-serif' >x</text>
<text x="87.70" y="201.30" font-size="6.8" fill="#111" text-anchor="middle" font-weight="bold" font-family='"Liberation Sans", sans-serif' >Fe<tspan font-size="4.2" dy="1.6">2</tspan><tspan dy="-1.6">O</tspan><tspan font-size="4.2" dy="1.6">3</tspan></text>
<text x="109.80" y="158.20" font-size="6.3" font-family='"Liberation Serif", serif' fill="#222" font-weight="bold">AlCl<tspan font-size="3.6" dy="1.4">4</tspan><tspan font-size="3.6" dy="-4.4">-</tspan></text>
<line x1="134.80" y1="154.60" x2="134.80" y2="149.80" stroke="#60c050" stroke-width="0.9" />
<line x1="134.80" y1="154.60" x2="129.80" y2="158.60" stroke="#60c050" stroke-width="0.9" />
<line x1="134.80" y1="154.60" x2="140.30" y2="158.60" stroke="#60c050" stroke-width="0.9" />
<circle cx="134.80" cy="149.80" r="1.25" fill="url(#clg)" />
<circle cx="129.80" cy="158.60" r="1.25" fill="url(#clg)" />
<circle cx="140.30" cy="158.60" r="1.25" fill="url(#clg)" />
<rect x="132.90" y="152.70" width="3.8" height="3.8" fill="url(#alg)" stroke="#5a7a98" stroke-width="0.5"/>
<line x1="120.90" y1="168.00" x2="149.50" y2="168.00" stroke="#e04a20" stroke-width="0.9" />
<line x1="120.90" y1="175.20" x2="149.50" y2="175.20" stroke="#e04a20" stroke-width="0.9" />
<line x1="120.90" y1="182.30" x2="149.50" y2="182.30" stroke="#e04a20" stroke-width="0.9" />
<line x1="120.90" y1="189.40" x2="149.50" y2="189.40" stroke="#e04a20" stroke-width="0.9" />
<line x1="128.30" y1="166.00" x2="128.30" y2="191.00" stroke="#e05a28" stroke-width="0.8" />
<line x1="135.50" y1="166.00" x2="135.50" y2="191.00" stroke="#e05a28" stroke-width="0.8" />
<line x1="142.40" y1="166.00" x2="142.40" y2="191.00" stroke="#e05a28" stroke-width="0.8" />
<circle cx="120.90" cy="168.00" r="0.90" fill="url(#og)" />
<circle cx="149.50" cy="168.00" r="0.90" fill="url(#og)" />
<circle cx="128.30" cy="168.00" r="2.30" fill="url(#mgog)" />
<circle cx="135.50" cy="168.00" r="2.30" fill="url(#mgog)" />
<circle cx="142.40" cy="168.00" r="2.30" fill="url(#mgog)" />
<circle cx="120.90" cy="175.20" r="0.90" fill="url(#og)" />
<circle cx="149.50" cy="175.20" r="0.90" fill="url(#og)" />
<circle cx="128.30" cy="175.20" r="2.30" fill="url(#mgog)" />
<circle cx="135.50" cy="175.20" r="2.30" fill="url(#mgog)" />
<circle cx="142.40" cy="175.20" r="2.30" fill="url(#mgog)" />
<circle cx="120.90" cy="182.30" r="0.90" fill="url(#og)" />
<circle cx="149.50" cy="182.30" r="0.90" fill="url(#og)" />
<circle cx="128.30" cy="182.30" r="2.30" fill="url(#mgog)" />
<circle cx="135.50" cy="182.30" r="2.30" fill="url(#mgog)" />
<circle cx="142.40" cy="182.30" r="2.30" fill="url(#mgog)" />
<circle cx="120.90" cy="189.40" r="0.90" fill="url(#og)" />
<circle cx="149.50" cy="189.40" r="0.90" fill="url(#og)" />
<circle cx="128.30" cy="189.40" r="2.30" fill="url(#mgog)" />
<circle cx="135.50" cy="189.40" r="2.30" fill="url(#mgog)" />
<circle cx="142.40" cy="189.40" r="2.30" fill="url(#mgog)" />
<line x1="104.30" y1="190.00" x2="104.30" y2="182.00" stroke="#1a1ae0" stroke-width="1.0" />
<path d="M103.00,182.50 L104.30,180.20 L105.60,182.50 Z" fill="#1a1ae0"/>
<line x1="104.30" y1="190.00" x2="110.80" y2="190.00" stroke="#30d030" stroke-width="1.0" />
<path d="M110.30,188.70 L112.60,190.00 L110.30,191.30 Z" fill="#30d030"/>
<circle cx="104.30" cy="190.00" r="0.90" fill="#801818" />
<text x="104.50" y="179.30" font-size="2.6" fill="#444" text-anchor="middle" font-weight="normal" font-family='"Liberation Sans", sans-serif' >z</text>
<text x="114.10" y="190.90" font-size="2.6" fill="#444" text-anchor="middle" font-weight="normal" font-family='"Liberation Sans", sans-serif' >x</text>
<text x="137.00" y="201.30" font-size="6.8" fill="#111" text-anchor="middle" font-weight="bold" font-family='"Liberation Sans", sans-serif' >MgO</text>
<text x="167.30" y="158.50" font-size="6.3" font-family='"Liberation Serif", serif' fill="#222" font-weight="bold">AlCl<tspan font-size="3.6" dy="1.4">4</tspan><tspan font-size="3.6" dy="-4.4">-</tspan></text>
<line x1="191.10" y1="155.80" x2="186.00" y2="151.70" stroke="#60c050" stroke-width="0.9" />
<line x1="191.10" y1="155.80" x2="196.30" y2="151.70" stroke="#60c050" stroke-width="0.9" />
<line x1="191.10" y1="155.80" x2="186.80" y2="160.90" stroke="#60c050" stroke-width="0.9" />
<line x1="191.10" y1="155.80" x2="195.60" y2="160.90" stroke="#60c050" stroke-width="0.9" />
<circle cx="186.00" cy="151.70" r="1.25" fill="url(#clg)" />
<circle cx="196.30" cy="151.70" r="1.25" fill="url(#clg)" />
<circle cx="186.80" cy="160.90" r="1.25" fill="url(#clg)" />
<circle cx="195.60" cy="160.90" r="1.25" fill="url(#clg)" />
<rect x="189.20" y="153.90" width="3.8" height="3.8" fill="url(#alg)" stroke="#5a7a98" stroke-width="0.5"/>
<line x1="182.50" y1="173.20" x2="179.80" y2="168.50" stroke="#e03020" stroke-width="0.6" />
<line x1="182.50" y1="173.20" x2="185.20" y2="168.50" stroke="#e03020" stroke-width="0.6" />
<line x1="187.70" y1="173.20" x2="185.00" y2="168.50" stroke="#e03020" stroke-width="0.6" />
<line x1="187.70" y1="173.20" x2="190.40" y2="168.50" stroke="#e03020" stroke-width="0.6" />
<line x1="193.20" y1="173.20" x2="190.50" y2="168.50" stroke="#e03020" stroke-width="0.6" />
<line x1="193.20" y1="173.20" x2="195.90" y2="168.50" stroke="#e03020" stroke-width="0.6" />
<line x1="198.60" y1="173.20" x2="195.90" y2="168.50" stroke="#e03020" stroke-width="0.6" />
<line x1="198.60" y1="173.20" x2="201.30" y2="168.50" stroke="#e03020" stroke-width="0.6" />
<line x1="182.50" y1="173.20" x2="187.70" y2="181.70" stroke="#e03020" stroke-width="0.65" />
<line x1="187.70" y1="173.20" x2="182.50" y2="181.70" stroke="#e03020" stroke-width="0.65" />
<line x1="187.70" y1="173.20" x2="193.20" y2="181.70" stroke="#e03020" stroke-width="0.65" />
<line x1="193.20" y1="173.20" x2="187.70" y2="181.70" stroke="#e03020" stroke-width="0.65" />
<line x1="193.20" y1="173.20" x2="198.60" y2="181.70" stroke="#e03020" stroke-width="0.65" />
<line x1="198.60" y1="173.20" x2="193.20" y2="181.70" stroke="#e03020" stroke-width="0.65" />
<line x1="182.50" y1="173.20" x2="176.90" y2="177.45" stroke="#e03020" stroke-width="0.65" />
<line x1="176.90" y1="177.45" x2="182.50" y2="181.70" stroke="#e03020" stroke-width="0.65" />
<line x1="198.60" y1="173.20" x2="204.40" y2="177.45" stroke="#e03020" stroke-width="0.65" />
<line x1="204.40" y1="177.45" x2="198.60" y2="181.70" stroke="#e03020" stroke-width="0.65" />
<line x1="182.50" y1="181.70" x2="187.70" y2="190.70" stroke="#e03020" stroke-width="0.65" />
<line x1="187.70" y1="181.70" x2="182.50" y2="190.70" stroke="#e03020" stroke-width="0.65" />
<line x1="187.70" y1="181.70" x2="193.20" y2="190.70" stroke="#e03020" stroke-width="0.65" />
<line x1="193.20" y1="181.70" x2="187.70" y2="190.70" stroke="#e03020" stroke-width="0.65" />
<line x1="193.20" y1="181.70" x2="198.60" y2="190.70" stroke="#e03020" stroke-width="0.65" />
<line x1="198.60" y1="181.70" x2="193.20" y2="190.70" stroke="#e03020" stroke-width="0.65" />
<line x1="182.50" y1="181.70" x2="176.90" y2="186.20" stroke="#e03020" stroke-width="0.65" />
<line x1="176.90" y1="186.20" x2="182.50" y2="190.70" stroke="#e03020" stroke-width="0.65" />
<line x1="198.60" y1="181.70" x2="204.40" y2="186.20" stroke="#e03020" stroke-width="0.65" />
<line x1="204.40" y1="186.20" x2="198.60" y2="190.70" stroke="#e03020" stroke-width="0.65" />
<circle cx="176.90" cy="177.45" r="0.95" fill="url(#og)" />
<circle cx="176.90" cy="186.20" r="0.95" fill="url(#og)" />
<circle cx="179.80" cy="177.45" r="0.95" fill="url(#og)" />
<circle cx="179.80" cy="186.20" r="0.95" fill="url(#og)" />
<circle cx="185.10" cy="177.45" r="0.95" fill="url(#og)" />
<circle cx="185.10" cy="186.20" r="0.95" fill="url(#og)" />
<circle cx="190.40" cy="177.45" r="0.95" fill="url(#og)" />
<circle cx="190.40" cy="186.20" r="0.95" fill="url(#og)" />
<circle cx="195.90" cy="177.45" r="0.95" fill="url(#og)" />
<circle cx="195.90" cy="186.20" r="0.95" fill="url(#og)" />
<circle cx="201.30" cy="177.45" r="0.95" fill="url(#og)" />
<circle cx="201.30" cy="186.20" r="0.95" fill="url(#og)" />
<circle cx="204.40" cy="177.45" r="0.95" fill="url(#og)" />
<circle cx="204.40" cy="186.20" r="0.95" fill="url(#og)" />
<circle cx="179.80" cy="168.50" r="0.95" fill="url(#og)" />
<circle cx="185.20" cy="168.50" r="0.95" fill="url(#og)" />
<circle cx="185.00" cy="168.50" r="0.95" fill="url(#og)" />
<circle cx="190.40" cy="168.50" r="0.95" fill="url(#og)" />
<circle cx="190.50" cy="168.50" r="0.95" fill="url(#og)" />
<circle cx="195.90" cy="168.50" r="0.95" fill="url(#og)" />
<circle cx="195.90" cy="168.50" r="0.95" fill="url(#og)" />
<circle cx="201.30" cy="168.50" r="0.95" fill="url(#og)" />
<rect x="180.10" y="170.80" width="4.8" height="4.8" fill="#b848d0"/>
<circle cx="182.50" cy="173.20" r="2.00" fill="url(#mng)" />
<rect x="185.30" y="170.80" width="4.8" height="4.8" fill="#b848d0"/>
<circle cx="187.70" cy="173.20" r="2.00" fill="url(#mng)" />
<rect x="190.80" y="170.80" width="4.8" height="4.8" fill="#b848d0"/>
<circle cx="193.20" cy="173.20" r="2.00" fill="url(#mng)" />
<rect x="196.20" y="170.80" width="4.8" height="4.8" fill="#b848d0"/>
<circle cx="198.60" cy="173.20" r="2.00" fill="url(#mng)" />
<rect x="180.10" y="179.30" width="4.8" height="4.8" fill="#b848d0"/>
<circle cx="182.50" cy="181.70" r="2.00" fill="url(#mng)" />
<rect x="185.30" y="179.30" width="4.8" height="4.8" fill="#b848d0"/>
<circle cx="187.70" cy="181.70" r="2.00" fill="url(#mng)" />
<rect x="190.80" y="179.30" width="4.8" height="4.8" fill="#b848d0"/>
<circle cx="193.20" cy="181.70" r="2.00" fill="url(#mng)" />
<rect x="196.20" y="179.30" width="4.8" height="4.8" fill="#b848d0"/>
<circle cx="198.60" cy="181.70" r="2.00" fill="url(#mng)" />
<rect x="180.10" y="188.30" width="4.8" height="4.8" fill="#b848d0"/>
<circle cx="182.50" cy="190.70" r="2.00" fill="url(#mng)" />
<rect x="185.30" y="188.30" width="4.8" height="4.8" fill="#b848d0"/>
<circle cx="187.70" cy="190.70" r="2.00" fill="url(#mng)" />
<rect x="190.80" y="188.30" width="4.8" height="4.8" fill="#b848d0"/>
<circle cx="193.20" cy="190.70" r="2.00" fill="url(#mng)" />
<rect x="196.20" y="188.30" width="4.8" height="4.8" fill="#b848d0"/>
<circle cx="198.60" cy="190.70" r="2.00" fill="url(#mng)" />
<line x1="161.40" y1="188.70" x2="161.40" y2="180.70" stroke="#1a1ae0" stroke-width="1.0" />
<path d="M160.10,181.20 L161.40,178.90 L162.70,181.20 Z" fill="#1a1ae0"/>
<line x1="161.40" y1="188.70" x2="167.90" y2="188.70" stroke="#30d030" stroke-width="1.0" />
<path d="M167.40,187.40 L169.70,188.70 L167.40,190.00 Z" fill="#30d030"/>
<circle cx="161.40" cy="188.70" r="0.90" fill="#801818" />
<text x="161.60" y="178.00" font-size="2.6" fill="#444" text-anchor="middle" font-weight="normal" font-family='"Liberation Sans", sans-serif' >z</text>
<text x="171.20" y="189.60" font-size="2.6" fill="#444" text-anchor="middle" font-weight="normal" font-family='"Liberation Sans", sans-serif' >x</text>
<text x="192.30" y="201.30" font-size="6.8" fill="#111" text-anchor="middle" font-weight="bold" font-family='"Liberation Sans", sans-serif' >MnO<tspan font-size="4.2" dy="1.6">2</tspan></text>
<text x="218.70" y="158.70" font-size="6.3" font-family='"Liberation Serif", serif' fill="#222" font-weight="bold">AlCl<tspan font-size="3.6" dy="1.4">4</tspan><tspan font-size="3.6" dy="-4.4">-</tspan></text>
<line x1="245.70" y1="161.70" x2="240.20" y2="156.40" stroke="#60c050" stroke-width="0.9" />
<line x1="245.70" y1="161.70" x2="251.00" y2="156.40" stroke="#60c050" stroke-width="0.9" />
<line x1="245.70" y1="161.70" x2="240.20" y2="166.90" stroke="#60c050" stroke-width="0.9" />
<line x1="245.70" y1="161.70" x2="251.00" y2="166.90" stroke="#60c050" stroke-width="0.9" />
<circle cx="240.20" cy="156.40" r="1.25" fill="url(#clg)" />
<circle cx="251.00" cy="156.40" r="1.25" fill="url(#clg)" />
<circle cx="240.20" cy="166.90" r="1.25" fill="url(#clg)" />
<circle cx="251.00" cy="166.90" r="1.25" fill="url(#clg)" />
<rect x="243.80" y="159.80" width="3.8" height="3.8" fill="url(#alg)" stroke="#5a7a98" stroke-width="0.5"/>
<line x1="233.50" y1="173.30" x2="257.90" y2="173.30" stroke="#e04030" stroke-width="0.9" />
<line x1="227.50" y1="181.80" x2="263.90" y2="181.80" stroke="#e04030" stroke-width="0.9" />
<line x1="233.50" y1="190.70" x2="257.90" y2="190.70" stroke="#e04030" stroke-width="0.9" />
<line x1="233.50" y1="173.30" x2="233.50" y2="190.70" stroke="#c8c8c8" stroke-width="0.9" />
<line x1="239.40" y1="173.30" x2="239.40" y2="190.70" stroke="#c8c8c8" stroke-width="0.9" />
<line x1="245.70" y1="173.30" x2="245.70" y2="190.70" stroke="#c8c8c8" stroke-width="0.9" />
<line x1="251.60" y1="173.30" x2="251.60" y2="190.70" stroke="#c8c8c8" stroke-width="0.9" />
<line x1="257.90" y1="173.30" x2="257.90" y2="190.70" stroke="#c8c8c8" stroke-width="0.9" />
<circle cx="233.50" cy="173.30" r="1.10" fill="url(#og)" />
<circle cx="245.70" cy="173.30" r="1.10" fill="url(#og)" />
<circle cx="257.90" cy="173.30" r="1.10" fill="url(#og)" />
<circle cx="227.50" cy="181.80" r="1.10" fill="url(#og)" />
<circle cx="239.40" cy="181.80" r="1.10" fill="url(#og)" />
<circle cx="251.60" cy="181.80" r="1.10" fill="url(#og)" />
<circle cx="263.90" cy="181.80" r="1.10" fill="url(#og)" />
<circle cx="233.50" cy="190.70" r="1.10" fill="url(#og)" />
<circle cx="245.70" cy="190.70" r="1.10" fill="url(#og)" />
<circle cx="257.90" cy="190.70" r="1.10" fill="url(#og)" />
<circle cx="239.40" cy="173.30" r="2.00" fill="#f0f0f0" stroke="#7a7a7a" stroke-width="0.9"/>
<circle cx="251.60" cy="173.30" r="2.00" fill="#f0f0f0" stroke="#7a7a7a" stroke-width="0.9"/>
<circle cx="233.50" cy="181.80" r="2.00" fill="#f0f0f0" stroke="#7a7a7a" stroke-width="0.9"/>
<circle cx="245.70" cy="181.80" r="2.00" fill="#f0f0f0" stroke="#7a7a7a" stroke-width="0.9"/>
<circle cx="257.90" cy="181.80" r="2.00" fill="#f0f0f0" stroke="#7a7a7a" stroke-width="0.9"/>
<circle cx="239.40" cy="190.70" r="2.00" fill="#f0f0f0" stroke="#7a7a7a" stroke-width="0.9"/>
<circle cx="251.60" cy="190.70" r="2.00" fill="#f0f0f0" stroke="#7a7a7a" stroke-width="0.9"/>
<line x1="215.60" y1="188.70" x2="215.60" y2="180.70" stroke="#1a1ae0" stroke-width="1.0" />
<path d="M214.30,181.20 L215.60,178.90 L216.90,181.20 Z" fill="#1a1ae0"/>
<line x1="215.60" y1="188.70" x2="222.10" y2="188.70" stroke="#30d030" stroke-width="1.0" />
<path d="M221.60,187.40 L223.90,188.70 L221.60,190.00 Z" fill="#30d030"/>
<circle cx="215.60" cy="188.70" r="0.90" fill="#801818" />
<text x="215.80" y="178.00" font-size="2.6" fill="#444" text-anchor="middle" font-weight="normal" font-family='"Liberation Sans", sans-serif' >z</text>
<text x="225.40" y="189.60" font-size="2.6" fill="#444" text-anchor="middle" font-weight="normal" font-family='"Liberation Sans", sans-serif' >x</text>
<text x="245.70" y="201.30" font-size="6.8" fill="#111" text-anchor="middle" font-weight="bold" font-family='"Liberation Sans", sans-serif' >NiO</text>
<text x="66.90" y="219.60" font-size="6.3" font-family='"Liberation Serif", serif' fill="#222" font-weight="bold">AlCl<tspan font-size="3.6" dy="1.4">4</tspan><tspan font-size="3.6" dy="-4.4">-</tspan></text>
<line x1="90.70" y1="219.00" x2="90.70" y2="214.00" stroke="#60c050" stroke-width="0.9" />
<line x1="90.70" y1="219.00" x2="84.40" y2="224.10" stroke="#60c050" stroke-width="0.9" />
<line x1="90.70" y1="219.00" x2="96.60" y2="224.10" stroke="#60c050" stroke-width="0.9" />
<circle cx="90.70" cy="214.00" r="1.25" fill="url(#clg)" />
<circle cx="84.40" cy="224.10" r="1.25" fill="url(#clg)" />
<circle cx="96.60" cy="224.10" r="1.25" fill="url(#clg)" />
<rect x="88.80" y="217.10" width="3.8" height="3.8" fill="url(#alg)" stroke="#5a7a98" stroke-width="0.5"/>
<line x1="93.10" y1="233.30" x2="88.30" y2="234.60" stroke="#d84030" stroke-width="0.8" />
<line x1="93.10" y1="233.30" x2="98.20" y2="234.80" stroke="#d84030" stroke-width="0.8" />
<line x1="93.10" y1="233.30" x2="90.60" y2="238.60" stroke="#d84030" stroke-width="0.8" />
<line x1="86.70" y1="242.90" x2="90.60" y2="238.60" stroke="#d84030" stroke-width="0.8" />
<line x1="86.70" y1="242.90" x2="82.20" y2="244.60" stroke="#d84030" stroke-width="0.8" />
<line x1="86.70" y1="242.90" x2="91.20" y2="244.60" stroke="#d84030" stroke-width="0.8" />
<line x1="93.10" y1="252.40" x2="88.60" y2="248.20" stroke="#d84030" stroke-width="0.8" />
<line x1="93.10" y1="252.40" x2="89.10" y2="253.80" stroke="#d84030" stroke-width="0.8" />
<line x1="93.10" y1="252.40" x2="98.00" y2="253.80" stroke="#d84030" stroke-width="0.8" />
<line x1="93.10" y1="252.40" x2="92.80" y2="256.30" stroke="#d84030" stroke-width="0.8" />
<line x1="86.70" y1="242.90" x2="88.60" y2="248.20" stroke="#d84030" stroke-width="0.8" />
<circle cx="88.30" cy="234.60" r="1.05" fill="url(#og)" />
<circle cx="98.20" cy="234.80" r="1.05" fill="url(#og)" />
<circle cx="90.60" cy="238.60" r="1.05" fill="url(#og)" />
<circle cx="82.20" cy="244.60" r="1.05" fill="url(#og)" />
<circle cx="91.20" cy="244.60" r="1.05" fill="url(#og)" />
<circle cx="88.60" cy="248.20" r="1.05" fill="url(#og)" />
<circle cx="89.10" cy="253.80" r="1.05" fill="url(#og)" />
<circle cx="98.00" cy="253.80" r="1.05" fill="url(#og)" />
<circle cx="92.80" cy="256.30" r="1.05" fill="url(#og)" />
<circle cx="93.10" cy="233.30" r="1.90" fill="#d8dcd4" stroke="#707870" stroke-width="0.9"/>
<circle cx="86.70" cy="242.90" r="1.90" fill="#d8dcd4" stroke="#707870" stroke-width="0.9"/>
<circle cx="93.10" cy="252.40" r="1.90" fill="#d8dcd4" stroke="#707870" stroke-width="0.9"/>
<line x1="67.70" y1="256.30" x2="67.70" y2="248.30" stroke="#1a1ae0" stroke-width="1.0" />
<path d="M66.40,248.80 L67.70,246.50 L69.00,248.80 Z" fill="#1a1ae0"/>
<line x1="67.70" y1="256.30" x2="74.20" y2="256.30" stroke="#30d030" stroke-width="1.0" />
<path d="M73.70,255.00 L76.00,256.30 L73.70,257.60 Z" fill="#30d030"/>
<circle cx="67.70" cy="256.30" r="0.90" fill="#801818" />
<text x="67.90" y="245.60" font-size="2.6" fill="#444" text-anchor="middle" font-weight="normal" font-family='"Liberation Sans", sans-serif' >z</text>
<text x="77.50" y="257.20" font-size="2.6" fill="#444" text-anchor="middle" font-weight="normal" font-family='"Liberation Sans", sans-serif' >x</text>
<text x="91.80" y="266.20" font-size="6.8" fill="#111" text-anchor="middle" font-weight="bold" font-family='"Liberation Sans", sans-serif' >ZnO</text>
<text x="128.90" y="218.20" font-size="6.3" font-family='"Liberation Serif", serif' fill="#222" font-weight="bold">AlCl<tspan font-size="3.6" dy="1.4">4</tspan><tspan font-size="3.6" dy="-4.4">-</tspan></text>
<line x1="153.30" y1="212.60" x2="155.60" y2="206.50" stroke="#60c050" stroke-width="0.9" />
<line x1="153.30" y1="212.60" x2="146.00" y2="213.00" stroke="#60c050" stroke-width="0.9" />
<line x1="153.30" y1="212.60" x2="155.60" y2="218.50" stroke="#60c050" stroke-width="0.9" />
<line x1="153.30" y1="212.60" x2="159.80" y2="212.90" stroke="#60c050" stroke-width="0.9" />
<circle cx="155.60" cy="206.50" r="1.25" fill="url(#clg)" />
<circle cx="146.00" cy="213.00" r="1.25" fill="url(#clg)" />
<circle cx="155.60" cy="218.50" r="1.25" fill="url(#clg)" />
<circle cx="159.80" cy="212.90" r="1.25" fill="url(#clg)" />
<rect x="151.40" y="210.70" width="3.8" height="3.8" fill="url(#alg)" stroke="#5a7a98" stroke-width="0.5"/>
<line x1="134.50" y1="224.70" x2="172.70" y2="224.70" stroke="#e02818" stroke-width="0.9" />
<line x1="134.50" y1="229.20" x2="172.70" y2="229.20" stroke="#e02818" stroke-width="0.9" />
<line x1="134.50" y1="236.10" x2="172.70" y2="236.10" stroke="#e02818" stroke-width="0.9" />
<line x1="134.50" y1="242.50" x2="172.70" y2="242.50" stroke="#e02818" stroke-width="0.9" />
<line x1="134.50" y1="249.50" x2="172.70" y2="249.50" stroke="#e02818" stroke-width="0.9" />
<line x1="134.50" y1="255.20" x2="172.70" y2="255.20" stroke="#e02818" stroke-width="0.9" />
<line x1="137.00" y1="223.70" x2="137.00" y2="256.20" stroke="#e04030" stroke-width="0.6" />
<line x1="144.00" y1="223.70" x2="144.00" y2="256.20" stroke="#e04030" stroke-width="0.6" />
<line x1="151.00" y1="223.70" x2="151.00" y2="256.20" stroke="#e04030" stroke-width="0.6" />
<line x1="157.30" y1="223.70" x2="157.30" y2="256.20" stroke="#e04030" stroke-width="0.6" />
<line x1="163.70" y1="223.70" x2="163.70" y2="256.20" stroke="#e04030" stroke-width="0.6" />
<line x1="170.70" y1="223.70" x2="170.70" y2="256.20" stroke="#e04030" stroke-width="0.6" />
<line x1="137.00" y1="224.70" x2="144.00" y2="229.20" stroke="#e03020" stroke-width="0.6" />
<line x1="151.00" y1="224.70" x2="157.30" y2="229.20" stroke="#e03020" stroke-width="0.6" />
<line x1="163.70" y1="224.70" x2="170.70" y2="229.20" stroke="#e03020" stroke-width="0.6" />
<line x1="144.00" y1="229.20" x2="151.00" y2="236.10" stroke="#e03020" stroke-width="0.6" />
<line x1="157.30" y1="229.20" x2="163.70" y2="236.10" stroke="#e03020" stroke-width="0.6" />
<line x1="137.00" y1="236.10" x2="144.00" y2="242.50" stroke="#e03020" stroke-width="0.6" />
<line x1="151.00" y1="236.10" x2="157.30" y2="242.50" stroke="#e03020" stroke-width="0.6" />
<line x1="163.70" y1="236.10" x2="170.70" y2="242.50" stroke="#e03020" stroke-width="0.6" />
<line x1="144.00" y1="242.50" x2="151.00" y2="249.50" stroke="#e03020" stroke-width="0.6" />
<line x1="157.30" y1="242.50" x2="163.70" y2="249.50" stroke="#e03020" stroke-width="0.6" />
<line x1="137.00" y1="249.50" x2="144.00" y2="255.20" stroke="#e03020" stroke-width="0.6" />
<line x1="151.00" y1="249.50" x2="157.30" y2="255.20" stroke="#e03020" stroke-width="0.6" />
<line x1="163.70" y1="249.50" x2="170.70" y2="255.20" stroke="#e03020" stroke-width="0.6" />
<circle cx="137.00" cy="224.70" r="1.35" fill="url(#og)" />
<circle cx="144.00" cy="224.70" r="1.35" fill="url(#og)" />
<circle cx="151.00" cy="224.70" r="1.35" fill="url(#og)" />
<circle cx="157.30" cy="224.70" r="1.35" fill="url(#og)" />
<circle cx="163.70" cy="224.70" r="1.35" fill="url(#og)" />
<circle cx="170.70" cy="224.70" r="1.35" fill="url(#og)" />
<circle cx="134.50" cy="224.70" r="0.90" fill="url(#og)" />
<circle cx="172.70" cy="224.70" r="0.90" fill="url(#og)" />
<circle cx="137.00" cy="229.20" r="1.35" fill="url(#og)" />
<circle cx="144.00" cy="229.20" r="1.35" fill="url(#og)" />
<circle cx="151.00" cy="229.20" r="1.35" fill="url(#og)" />
<circle cx="157.30" cy="229.20" r="1.35" fill="url(#og)" />
<circle cx="163.70" cy="229.20" r="1.35" fill="url(#og)" />
<circle cx="170.70" cy="229.20" r="1.35" fill="url(#og)" />
<circle cx="134.50" cy="229.20" r="0.90" fill="url(#og)" />
<circle cx="172.70" cy="229.20" r="0.90" fill="url(#og)" />
<circle cx="137.00" cy="236.10" r="1.35" fill="url(#og)" />
<circle cx="144.00" cy="236.10" r="1.35" fill="url(#og)" />
<circle cx="151.00" cy="236.10" r="1.35" fill="url(#og)" />
<circle cx="157.30" cy="236.10" r="1.35" fill="url(#og)" />
<circle cx="163.70" cy="236.10" r="1.35" fill="url(#og)" />
<circle cx="170.70" cy="236.10" r="1.35" fill="url(#og)" />
<circle cx="134.50" cy="236.10" r="0.90" fill="url(#og)" />
<circle cx="172.70" cy="236.10" r="0.90" fill="url(#og)" />
<circle cx="137.00" cy="242.50" r="1.35" fill="url(#og)" />
<circle cx="144.00" cy="242.50" r="1.35" fill="url(#og)" />
<circle cx="151.00" cy="242.50" r="1.35" fill="url(#og)" />
<circle cx="157.30" cy="242.50" r="1.35" fill="url(#og)" />
<circle cx="163.70" cy="242.50" r="1.35" fill="url(#og)" />
<circle cx="170.70" cy="242.50" r="1.35" fill="url(#og)" />
<circle cx="134.50" cy="242.50" r="0.90" fill="url(#og)" />
<circle cx="172.70" cy="242.50" r="0.90" fill="url(#og)" />
<circle cx="137.00" cy="249.50" r="1.35" fill="url(#og)" />
<circle cx="144.00" cy="249.50" r="1.35" fill="url(#og)" />
<circle cx="151.00" cy="249.50" r="1.35" fill="url(#og)" />
<circle cx="157.30" cy="249.50" r="1.35" fill="url(#og)" />
<circle cx="163.70" cy="249.50" r="1.35" fill="url(#og)" />
<circle cx="170.70" cy="249.50" r="1.35" fill="url(#og)" />
<circle cx="134.50" cy="249.50" r="0.90" fill="url(#og)" />
<circle cx="172.70" cy="249.50" r="0.90" fill="url(#og)" />
<circle cx="137.00" cy="255.20" r="1.35" fill="url(#og)" />
<circle cx="144.00" cy="255.20" r="1.35" fill="url(#og)" />
<circle cx="151.00" cy="255.20" r="1.35" fill="url(#og)" />
<circle cx="157.30" cy="255.20" r="1.35" fill="url(#og)" />
<circle cx="163.70" cy="255.20" r="1.35" fill="url(#og)" />
<circle cx="170.70" cy="255.20" r="1.35" fill="url(#og)" />
<circle cx="134.50" cy="255.20" r="0.90" fill="url(#og)" />
<circle cx="172.70" cy="255.20" r="0.90" fill="url(#og)" />
<rect x="143.60" y="230.70" width="4.6" height="4.6" fill="#f08828" stroke="#904010" stroke-width="0.6" transform="rotate(8 145.90 233.00)"/>
<circle cx="145.90" cy="233.00" r="1.00" fill="#d04010" />
<rect x="158.20" y="230.00" width="4.6" height="4.6" fill="#f08828" stroke="#904010" stroke-width="0.6" transform="rotate(8 160.50 232.30)"/>
<circle cx="160.50" cy="232.30" r="1.00" fill="#d04010" />
<rect x="143.60" y="244.00" width="4.6" height="4.6" fill="#f08828" stroke="#904010" stroke-width="0.6" transform="rotate(8 145.90 246.30)"/>
<circle cx="145.90" cy="246.30" r="1.00" fill="#d04010" />
<rect x="158.20" y="243.40" width="4.6" height="4.6" fill="#f08828" stroke="#904010" stroke-width="0.6" transform="rotate(8 160.50 245.70)"/>
<circle cx="160.50" cy="245.70" r="1.00" fill="#d04010" />
<circle cx="156.70" cy="227.90" r="1.70" fill="#9a28c0" />
<circle cx="142.00" cy="236.10" r="1.70" fill="#9a28c0" />
<circle cx="164.30" cy="236.10" r="1.70" fill="#9a28c0" />
<circle cx="149.70" cy="243.10" r="1.70" fill="#9a28c0" />
<circle cx="156.00" cy="250.10" r="1.70" fill="#9a28c0" />
<circle cx="167.50" cy="228.00" r="1.30" fill="#c08030" />
<circle cx="137.50" cy="249.50" r="1.30" fill="#c08030" />
<circle cx="171.00" cy="243.00" r="1.30" fill="#c08030" />
<circle cx="153.50" cy="239.30" r="1.70" fill="#e8e8e8" stroke="#6a6a6a" stroke-width="0.8"/>
<circle cx="167.50" cy="239.30" r="1.70" fill="#e8e8e8" stroke="#6a6a6a" stroke-width="0.8"/>
<circle cx="152.20" cy="249.50" r="1.70" fill="#e8e8e8" stroke="#6a6a6a" stroke-width="0.8"/>
<circle cx="166.80" cy="250.80" r="1.70" fill="#e8e8e8" stroke="#6a6a6a" stroke-width="0.8"/>
<circle cx="158.60" cy="255.20" r="1.70" fill="#e8e8e8" stroke="#6a6a6a" stroke-width="0.8"/>
<circle cx="141.40" cy="226.00" r="1.70" fill="#e8e8e8" stroke="#6a6a6a" stroke-width="0.8"/>
<circle cx="147.80" cy="220.30" r="1.70" fill="#e8e8e8" stroke="#6a6a6a" stroke-width="0.8"/>
<line x1="127.40" y1="256.50" x2="127.40" y2="248.50" stroke="#1a1ae0" stroke-width="1.0" />
<path d="M126.10,249.00 L127.40,246.70 L128.70,249.00 Z" fill="#1a1ae0"/>
<line x1="127.40" y1="256.50" x2="133.90" y2="256.50" stroke="#30d030" stroke-width="1.0" />
<path d="M133.40,255.20 L135.70,256.50 L133.40,257.80 Z" fill="#30d030"/>
<circle cx="127.40" cy="256.50" r="0.90" fill="#801818" />
<text x="127.60" y="245.80" font-size="2.6" fill="#444" text-anchor="middle" font-weight="normal" font-family='"Liberation Sans", sans-serif' >z</text>
<text x="137.20" y="257.40" font-size="2.6" fill="#444" text-anchor="middle" font-weight="normal" font-family='"Liberation Sans", sans-serif' >x</text>
<text x="154.70" y="266.40" font-size="6.7" fill="#111" text-anchor="middle" font-weight="bold" font-family='"Liberation Sans", sans-serif' >Perfect spinel</text>
<text x="204.30" y="218.90" font-size="6.3" font-family='"Liberation Serif", serif' fill="#222" font-weight="bold">AlCl<tspan font-size="3.6" dy="1.4">4</tspan><tspan font-size="3.6" dy="-4.4">-</tspan></text>
<line x1="227.40" y1="216.30" x2="223.30" y2="212.00" stroke="#60c050" stroke-width="0.9" />
<line x1="227.40" y1="216.30" x2="231.90" y2="212.00" stroke="#60c050" stroke-width="0.9" />
<line x1="227.40" y1="216.30" x2="223.60" y2="221.30" stroke="#60c050" stroke-width="0.9" />
<line x1="227.40" y1="216.30" x2="231.50" y2="221.30" stroke="#60c050" stroke-width="0.9" />
<circle cx="223.30" cy="212.00" r="1.25" fill="url(#clg)" />
<circle cx="231.90" cy="212.00" r="1.25" fill="url(#clg)" />
<circle cx="223.60" cy="221.30" r="1.25" fill="url(#clg)" />
<circle cx="231.50" cy="221.30" r="1.25" fill="url(#clg)" />
<rect x="225.50" y="214.40" width="3.8" height="3.8" fill="url(#alg)" stroke="#5a7a98" stroke-width="0.5"/>
<line x1="209.50" y1="226.70" x2="247.70" y2="226.70" stroke="#e02818" stroke-width="0.9" />
<line x1="209.50" y1="231.20" x2="247.70" y2="231.20" stroke="#e02818" stroke-width="0.9" />
<line x1="209.50" y1="238.10" x2="247.70" y2="238.10" stroke="#e02818" stroke-width="0.9" />
<line x1="209.50" y1="244.50" x2="247.70" y2="244.50" stroke="#e02818" stroke-width="0.9" />
<line x1="209.50" y1="251.50" x2="247.70" y2="251.50" stroke="#e02818" stroke-width="0.9" />
<line x1="209.50" y1="257.20" x2="247.70" y2="257.20" stroke="#e02818" stroke-width="0.9" />
<line x1="212.00" y1="225.70" x2="212.00" y2="258.20" stroke="#e04030" stroke-width="0.6" />
<line x1="219.00" y1="225.70" x2="219.00" y2="258.20" stroke="#e04030" stroke-width="0.6" />
<line x1="226.00" y1="225.70" x2="226.00" y2="258.20" stroke="#e04030" stroke-width="0.6" />
<line x1="232.30" y1="225.70" x2="232.30" y2="258.20" stroke="#e04030" stroke-width="0.6" />
<line x1="238.70" y1="225.70" x2="238.70" y2="258.20" stroke="#e04030" stroke-width="0.6" />
<line x1="245.70" y1="225.70" x2="245.70" y2="258.20" stroke="#e04030" stroke-width="0.6" />
<line x1="212.00" y1="226.70" x2="219.00" y2="231.20" stroke="#e03020" stroke-width="0.6" />
<line x1="226.00" y1="226.70" x2="232.30" y2="231.20" stroke="#e03020" stroke-width="0.6" />
<line x1="238.70" y1="226.70" x2="245.70" y2="231.20" stroke="#e03020" stroke-width="0.6" />
<line x1="219.00" y1="231.20" x2="226.00" y2="238.10" stroke="#e03020" stroke-width="0.6" />
<line x1="232.30" y1="231.20" x2="238.70" y2="238.10" stroke="#e03020" stroke-width="0.6" />
<line x1="212.00" y1="238.10" x2="219.00" y2="244.50" stroke="#e03020" stroke-width="0.6" />
<line x1="226.00" y1="238.10" x2="232.30" y2="244.50" stroke="#e03020" stroke-width="0.6" />
<line x1="238.70" y1="238.10" x2="245.70" y2="244.50" stroke="#e03020" stroke-width="0.6" />
<line x1="219.00" y1="244.50" x2="226.00" y2="251.50" stroke="#e03020" stroke-width="0.6" />
<line x1="232.30" y1="244.50" x2="238.70" y2="251.50" stroke="#e03020" stroke-width="0.6" />
<line x1="212.00" y1="251.50" x2="219.00" y2="257.20" stroke="#e03020" stroke-width="0.6" />
<line x1="226.00" y1="251.50" x2="232.30" y2="257.20" stroke="#e03020" stroke-width="0.6" />
<line x1="238.70" y1="251.50" x2="245.70" y2="257.20" stroke="#e03020" stroke-width="0.6" />
<circle cx="212.00" cy="226.70" r="1.35" fill="url(#og)" />
<circle cx="219.00" cy="226.70" r="1.35" fill="url(#og)" />
<circle cx="226.00" cy="226.70" r="1.35" fill="url(#og)" />
<circle cx="232.30" cy="226.70" r="1.35" fill="url(#og)" />
<circle cx="238.70" cy="226.70" r="1.35" fill="url(#og)" />
<circle cx="245.70" cy="226.70" r="1.35" fill="url(#og)" />
<circle cx="209.50" cy="226.70" r="0.90" fill="url(#og)" />
<circle cx="247.70" cy="226.70" r="0.90" fill="url(#og)" />
<circle cx="212.00" cy="231.20" r="1.35" fill="url(#og)" />
<circle cx="219.00" cy="231.20" r="1.35" fill="url(#og)" />
<circle cx="226.00" cy="231.20" r="1.35" fill="url(#og)" />
<circle cx="232.30" cy="231.20" r="1.35" fill="url(#og)" />
<circle cx="238.70" cy="231.20" r="1.35" fill="url(#og)" />
<circle cx="245.70" cy="231.20" r="1.35" fill="url(#og)" />
<circle cx="209.50" cy="231.20" r="0.90" fill="url(#og)" />
<circle cx="247.70" cy="231.20" r="0.90" fill="url(#og)" />
<circle cx="212.00" cy="238.10" r="1.35" fill="url(#og)" />
<circle cx="219.00" cy="238.10" r="1.35" fill="url(#og)" />
<circle cx="226.00" cy="238.10" r="1.35" fill="url(#og)" />
<circle cx="232.30" cy="238.10" r="1.35" fill="url(#og)" />
<circle cx="238.70" cy="238.10" r="1.35" fill="url(#og)" />
<circle cx="245.70" cy="238.10" r="1.35" fill="url(#og)" />
<circle cx="209.50" cy="238.10" r="0.90" fill="url(#og)" />
<circle cx="247.70" cy="238.10" r="0.90" fill="url(#og)" />
<circle cx="212.00" cy="244.50" r="1.35" fill="url(#og)" />
<circle cx="219.00" cy="244.50" r="1.35" fill="url(#og)" />
<circle cx="226.00" cy="244.50" r="1.35" fill="url(#og)" />
<circle cx="232.30" cy="244.50" r="1.35" fill="url(#og)" />
<circle cx="238.70" cy="244.50" r="1.35" fill="url(#og)" />
<circle cx="245.70" cy="244.50" r="1.35" fill="url(#og)" />
<circle cx="209.50" cy="244.50" r="0.90" fill="url(#og)" />
<circle cx="247.70" cy="244.50" r="0.90" fill="url(#og)" />
<circle cx="212.00" cy="251.50" r="1.35" fill="url(#og)" />
<circle cx="219.00" cy="251.50" r="1.35" fill="url(#og)" />
<circle cx="226.00" cy="251.50" r="1.35" fill="url(#og)" />
<circle cx="232.30" cy="251.50" r="1.35" fill="url(#og)" />
<circle cx="238.70" cy="251.50" r="1.35" fill="url(#og)" />
<circle cx="245.70" cy="251.50" r="1.35" fill="url(#og)" />
<circle cx="209.50" cy="251.50" r="0.90" fill="url(#og)" />
<circle cx="247.70" cy="251.50" r="0.90" fill="url(#og)" />
<circle cx="212.00" cy="257.20" r="1.35" fill="url(#og)" />
<circle cx="219.00" cy="257.20" r="1.35" fill="url(#og)" />
<circle cx="226.00" cy="257.20" r="1.35" fill="url(#og)" />
<circle cx="232.30" cy="257.20" r="1.35" fill="url(#og)" />
<circle cx="238.70" cy="257.20" r="1.35" fill="url(#og)" />
<circle cx="245.70" cy="257.20" r="1.35" fill="url(#og)" />
<circle cx="209.50" cy="257.20" r="0.90" fill="url(#og)" />
<circle cx="247.70" cy="257.20" r="0.90" fill="url(#og)" />
<rect x="218.60" y="232.70" width="4.6" height="4.6" fill="#f08828" stroke="#904010" stroke-width="0.6" transform="rotate(8 220.90 235.00)"/>
<circle cx="220.90" cy="235.00" r="1.00" fill="#d04010" />
<rect x="233.20" y="232.00" width="4.6" height="4.6" fill="#f08828" stroke="#904010" stroke-width="0.6" transform="rotate(8 235.50 234.30)"/>
<circle cx="235.50" cy="234.30" r="1.00" fill="#d04010" />
<rect x="218.60" y="246.00" width="4.6" height="4.6" fill="#f08828" stroke="#904010" stroke-width="0.6" transform="rotate(8 220.90 248.30)"/>
<circle cx="220.90" cy="248.30" r="1.00" fill="#d04010" />
<rect x="233.20" y="245.40" width="4.6" height="4.6" fill="#f08828" stroke="#904010" stroke-width="0.6" transform="rotate(8 235.50 247.70)"/>
<circle cx="235.50" cy="247.70" r="1.00" fill="#d04010" />
<circle cx="231.70" cy="229.90" r="1.70" fill="#9a28c0" />
<circle cx="217.00" cy="238.10" r="1.70" fill="#9a28c0" />
<circle cx="239.30" cy="238.10" r="1.70" fill="#9a28c0" />
<circle cx="224.70" cy="245.10" r="1.70" fill="#9a28c0" />
<circle cx="231.00" cy="252.10" r="1.70" fill="#9a28c0" />
<circle cx="242.50" cy="230.00" r="1.30" fill="#c08030" />
<circle cx="212.50" cy="251.50" r="1.30" fill="#c08030" />
<circle cx="246.00" cy="245.00" r="1.30" fill="#c08030" />
<circle cx="228.50" cy="241.30" r="1.70" fill="#e8e8e8" stroke="#6a6a6a" stroke-width="0.8"/>
<circle cx="242.50" cy="241.30" r="1.70" fill="#e8e8e8" stroke="#6a6a6a" stroke-width="0.8"/>
<circle cx="227.20" cy="251.50" r="1.70" fill="#e8e8e8" stroke="#6a6a6a" stroke-width="0.8"/>
<circle cx="241.80" cy="252.80" r="1.70" fill="#e8e8e8" stroke="#6a6a6a" stroke-width="0.8"/>
<circle cx="233.60" cy="257.20" r="1.70" fill="#e8e8e8" stroke="#6a6a6a" stroke-width="0.8"/>
<circle cx="216.40" cy="228.00" r="1.70" fill="#e8e8e8" stroke="#6a6a6a" stroke-width="0.8"/>
<line x1="199.00" y1="256.50" x2="199.00" y2="248.50" stroke="#1a1ae0" stroke-width="1.0" />
<path d="M197.70,249.00 L199.00,246.70 L200.30,249.00 Z" fill="#1a1ae0"/>
<line x1="199.00" y1="256.50" x2="205.50" y2="256.50" stroke="#30d030" stroke-width="1.0" />
<path d="M205.00,255.20 L207.30,256.50 L205.00,257.80 Z" fill="#30d030"/>
<circle cx="199.00" cy="256.50" r="0.90" fill="#801818" />
<text x="199.20" y="245.80" font-size="2.6" fill="#444" text-anchor="middle" font-weight="normal" font-family='"Liberation Sans", sans-serif' >z</text>
<text x="208.80" y="257.40" font-size="2.6" fill="#444" text-anchor="middle" font-weight="normal" font-family='"Liberation Sans", sans-serif' >x</text>
<text x="234.40" y="266.40" font-size="6.7" fill="#111" text-anchor="middle" font-weight="bold" font-family='"Liberation Sans", sans-serif' >(Fe,Mn,Ni,Zn,Mg)<tspan font-size="4.2" dy="1.6">3</tspan><tspan dy="-1.6">O</tspan><tspan font-size="4.2" dy="1.6">4</tspan></text>
<rect x="110.20" y="301.79" width="9.20" height="55.61" fill="url(#bFe)" />
<rect x="128.40" y="294.82" width="9.50" height="62.58" fill="url(#bMn)" />
<rect x="146.70" y="299.80" width="9.20" height="57.60" fill="url(#bNi)" />
<rect x="164.80" y="333.50" width="9.30" height="23.90" fill="url(#bZn)" />
<rect x="183.30" y="334.82" width="9.30" height="22.58" fill="url(#bMg)" />
<rect x="201.50" y="291.83" width="9.20" height="65.57" fill="url(#bPS)" />
<rect x="220.00" y="298.64" width="9.30" height="58.76" fill="url(#bVo)" />
<rect x="103" y="274.4" width="132.6" height="83.0" fill="none" stroke="#6a7070" stroke-width="0.7"/>
<line x1="103.00" y1="357.40" x2="104.50" y2="357.40" stroke="#555" stroke-width="0.6" />
<text x="100.80" y="359.60" font-size="6.2" fill="#333" text-anchor="end" font-weight="normal" font-family='"Liberation Sans", sans-serif' >0</text>
<line x1="103.00" y1="340.80" x2="104.50" y2="340.80" stroke="#555" stroke-width="0.6" />
<text x="100.80" y="343.00" font-size="6.2" fill="#333" text-anchor="end" font-weight="normal" font-family='"Liberation Sans", sans-serif' >-1</text>
<line x1="103.00" y1="324.20" x2="104.50" y2="324.20" stroke="#555" stroke-width="0.6" />
<text x="100.80" y="326.40" font-size="6.2" fill="#333" text-anchor="end" font-weight="normal" font-family='"Liberation Sans", sans-serif' >-2</text>
<line x1="103.00" y1="307.60" x2="104.50" y2="307.60" stroke="#555" stroke-width="0.6" />
<text x="100.80" y="309.80" font-size="6.2" fill="#333" text-anchor="end" font-weight="normal" font-family='"Liberation Sans", sans-serif' >-3</text>
<line x1="103.00" y1="291.00" x2="104.50" y2="291.00" stroke="#555" stroke-width="0.6" />
<text x="100.80" y="293.20" font-size="6.2" fill="#333" text-anchor="end" font-weight="normal" font-family='"Liberation Sans", sans-serif' >-4</text>
<line x1="103.00" y1="274.40" x2="104.50" y2="274.40" stroke="#555" stroke-width="0.6" />
<text x="100.80" y="276.60" font-size="6.2" fill="#333" text-anchor="end" font-weight="normal" font-family='"Liberation Sans", sans-serif' >-5</text>
<text x="114.80" y="297.50" font-size="5.4" fill="#222" text-anchor="middle" font-weight="normal" font-family='"Liberation Sans", sans-serif' >Fe<tspan font-size="3.6" dy="1.2">2</tspan><tspan dy="-1.2">O</tspan><tspan font-size="3.6" dy="1.2">3</tspan></text>
<text x="133.10" y="291.00" font-size="5.4" fill="#222" text-anchor="middle" font-weight="normal" font-family='"Liberation Sans", sans-serif' >MnO<tspan font-size="3.6" dy="1.2">2</tspan></text>
<text x="151.30" y="296.60" font-size="5.4" fill="#222" text-anchor="middle" font-weight="normal" font-family='"Liberation Sans", sans-serif' >NiO</text>
<text x="169.40" y="331.20" font-size="5.4" fill="#222" text-anchor="middle" font-weight="normal" font-family='"Liberation Sans", sans-serif' >ZnO</text>
<text x="188.00" y="331.80" font-size="5.4" fill="#222" text-anchor="middle" font-weight="normal" font-family='"Liberation Sans", sans-serif' >MgO</text>
<text x="208.90" y="289.20" font-size="5.4" fill="#222" text-anchor="middle" font-weight="normal" font-family='"Liberation Sans", sans-serif' >Perfect spinel</text>
<text x="214.20" y="296.60" font-size="5.4" fill="#222" text-anchor="start" font-weight="normal" font-family='"Liberation Sans", sans-serif' >V<tspan font-size="3.6" dy="1.2">o</tspan><tspan dy="-1.2"> spinel</tspan></text>
<text transform="translate(91.2 316) rotate(-90)" font-size="7.2" fill="#333" text-anchor="middle" font-family='"Liberation Sans", sans-serif'>Adsorption Energy (eV)</text>
<text x="161.40" y="371.30" font-size="7.4" fill="#333" text-anchor="middle" font-weight="normal" font-family='"Liberation Sans", sans-serif' >Sample</text>
<text x="12.30" y="361.60" font-size="10.2" fill="#111" text-anchor="start" font-weight="bold" font-family='"Liberation Sans", sans-serif' >(b)</text>
<line x1="354.00" y1="11.20" x2="485.50" y2="11.20" stroke="#ececec" stroke-width="0.7" />
<line x1="498.00" y1="11.20" x2="672.00" y2="11.20" stroke="#ececec" stroke-width="0.7" />
<rect x="356.00" y="26.00" width="20.20" height="20.20" fill="#f1b89c" />
<rect x="356.00" y="45.90" width="20.20" height="20.20" fill="#ec8c74" />
<rect x="375.90" y="45.90" width="20.20" height="20.20" fill="#e9604c" />
<rect x="356.00" y="65.80" width="20.20" height="20.20" fill="#f2bca1" />
<rect x="375.90" y="65.80" width="20.20" height="20.20" fill="#ee9a80" />
<rect x="395.80" y="65.80" width="20.20" height="20.20" fill="#f6ccb6" />
<rect x="356.00" y="85.70" width="20.20" height="20.20" fill="#e6524a" />
<rect x="375.90" y="85.70" width="20.20" height="20.20" fill="#e04042" />
<rect x="395.80" y="85.70" width="20.20" height="20.20" fill="#e85a4e" />
<rect x="415.70" y="85.70" width="20.20" height="20.20" fill="#8c1a26" />
<rect x="356.00" y="105.60" width="20.20" height="20.20" fill="#ee9a80" />
<rect x="375.90" y="105.60" width="20.20" height="20.20" fill="#ea6854" />
<rect x="395.80" y="105.60" width="20.20" height="20.20" fill="#f0a68a" />
<rect x="415.70" y="105.60" width="20.20" height="20.20" fill="#dd3642" />
<rect x="435.60" y="105.60" width="20.20" height="20.20" fill="#e86252" />
<text x="365.95" y="37.75" font-size="5.0" fill="#333" text-anchor="middle" font-weight="normal" font-family='"Liberation Sans", sans-serif' >105</text>
<text x="365.95" y="57.65" font-size="5.0" fill="#333" text-anchor="middle" font-weight="normal" font-family='"Liberation Sans", sans-serif' >142</text>
<text x="385.85" y="57.65" font-size="5.0" fill="#fff" text-anchor="middle" font-weight="normal" font-family='"Liberation Sans", sans-serif' >178</text>
<text x="365.95" y="77.55" font-size="5.0" fill="#333" text-anchor="middle" font-weight="normal" font-family='"Liberation Sans", sans-serif' >103</text>
<text x="385.85" y="77.55" font-size="5.0" fill="#222" text-anchor="middle" font-weight="normal" font-family='"Liberation Sans", sans-serif' >134</text>
<text x="405.75" y="77.55" font-size="5.0" fill="#333" text-anchor="middle" font-weight="normal" font-family='"Liberation Sans", sans-serif' >89</text>
<text x="365.95" y="97.45" font-size="5.0" fill="#fde" text-anchor="middle" font-weight="normal" font-family='"Liberation Sans", sans-serif' >197</text>
<text x="385.85" y="97.45" font-size="5.0" fill="#fde" text-anchor="middle" font-weight="normal" font-family='"Liberation Sans", sans-serif' >223</text>
<text x="405.75" y="97.45" font-size="5.0" fill="#fde" text-anchor="middle" font-weight="normal" font-family='"Liberation Sans", sans-serif' >190</text>
<text x="425.65" y="97.45" font-size="5.0" fill="#fde" text-anchor="middle" font-weight="normal" font-family='"Liberation Sans", sans-serif' >306</text>
<text x="365.95" y="117.35" font-size="5.0" fill="#333" text-anchor="middle" font-weight="normal" font-family='"Liberation Sans", sans-serif' >134</text>
<text x="385.85" y="117.35" font-size="5.0" fill="#fde" text-anchor="middle" font-weight="normal" font-family='"Liberation Sans", sans-serif' >177</text>
<text x="405.75" y="117.35" font-size="5.0" fill="#333" text-anchor="middle" font-weight="normal" font-family='"Liberation Sans", sans-serif' >124</text>
<text x="425.65" y="117.35" font-size="5.0" fill="#fde" text-anchor="middle" font-weight="normal" font-family='"Liberation Sans", sans-serif' >233</text>
<text x="445.55" y="117.35" font-size="5.0" fill="#fde" text-anchor="middle" font-weight="normal" font-family='"Liberation Sans", sans-serif' >185</text>
<text x="365.95" y="131.80" font-size="6.2" fill="#333" text-anchor="middle" font-weight="normal" font-family='"Liberation Sans", sans-serif' >Co</text>
<text transform="translate(352.70 35.95) rotate(-90)" font-size="6.2" fill="#333" text-anchor="middle" font-family='"Liberation Sans", sans-serif'>Co</text>
<text x="385.85" y="131.80" font-size="6.2" fill="#333" text-anchor="middle" font-weight="normal" font-family='"Liberation Sans", sans-serif' >Mn</text>
<text transform="translate(352.70 55.85) rotate(-90)" font-size="6.2" fill="#333" text-anchor="middle" font-family='"Liberation Sans", sans-serif'>Mn</text>
<text x="405.75" y="131.80" font-size="6.2" fill="#333" text-anchor="middle" font-weight="normal" font-family='"Liberation Sans", sans-serif' >Ni</text>
<text transform="translate(352.70 75.75) rotate(-90)" font-size="6.2" fill="#333" text-anchor="middle" font-family='"Liberation Sans", sans-serif'>Ni</text>
<text x="425.65" y="131.80" font-size="6.2" fill="#333" text-anchor="middle" font-weight="normal" font-family='"Liberation Sans", sans-serif' >Ru</text>
<text transform="translate(352.70 95.65) rotate(-90)" font-size="6.2" fill="#333" text-anchor="middle" font-family='"Liberation Sans", sans-serif'>Ru</text>
<text x="445.55" y="131.80" font-size="6.2" fill="#333" text-anchor="middle" font-weight="normal" font-family='"Liberation Sans", sans-serif' >Ti</text>
<text transform="translate(352.70 115.55) rotate(-90)" font-size="6.2" fill="#333" text-anchor="middle" font-family='"Liberation Sans", sans-serif'>Ti</text>
<text x="405.90" y="140.80" font-size="6.3" fill="#333" text-anchor="middle" font-weight="normal" font-family='"Liberation Sans", sans-serif' >Na(f) site <tspan font-style="italic">MO</tspan><tspan font-size="4" dy="1.2">6</tspan><tspan dy="-1.2">, TM 1</tspan></text>
<text transform="translate(343.3 73.8) rotate(-90)" font-size="6.0" fill="#333" text-anchor="middle" font-family='"Liberation Sans", sans-serif'>Na(f) site <tspan font-style="italic">MO</tspan><tspan font-size="4" dy="1.2">6</tspan><tspan dy="-1.2">, TM 2</tspan></text>
<text x="339.10" y="133.50" font-size="10.6" fill="#111" text-anchor="start" font-weight="bold" font-family='"Liberation Sans", sans-serif' >(c)</text>
<rect x="462.60" y="51.00" width="1.90" height="49.60" fill="url(#nebcb)" />
<line x1="464.50" y1="51.00" x2="465.40" y2="51.00" stroke="#999" stroke-width="0.3" />
<text x="466.60" y="52.50" font-size="4.2" fill="#666" text-anchor="start" font-weight="normal" font-family='"Liberation Sans", sans-serif' >320</text>
<line x1="464.50" y1="63.40" x2="465.40" y2="63.40" stroke="#999" stroke-width="0.3" />
<text x="466.60" y="64.90" font-size="4.2" fill="#666" text-anchor="start" font-weight="normal" font-family='"Liberation Sans", sans-serif' >240</text>
<line x1="464.50" y1="75.80" x2="465.40" y2="75.80" stroke="#999" stroke-width="0.3" />
<text x="466.60" y="77.30" font-size="4.2" fill="#666" text-anchor="start" font-weight="normal" font-family='"Liberation Sans", sans-serif' >160</text>
<line x1="464.50" y1="88.20" x2="465.40" y2="88.20" stroke="#999" stroke-width="0.3" />
<text x="466.60" y="89.70" font-size="4.2" fill="#666" text-anchor="start" font-weight="normal" font-family='"Liberation Sans", sans-serif' >80</text>
<line x1="464.50" y1="100.60" x2="465.40" y2="100.60" stroke="#999" stroke-width="0.3" />
<text x="466.60" y="102.10" font-size="4.2" fill="#666" text-anchor="start" font-weight="normal" font-family='"Liberation Sans", sans-serif' >0</text>
<text transform="translate(480.8 74.9) rotate(-90)" font-size="5.7" fill="#333" text-anchor="middle" font-family='"Liberation Sans", sans-serif'>NEB barrier (meV)</text>
<polygon points="429.9,20.2 444.6,20.2 444.6,32.6 429.9,32.6" fill="#4a96c6"/>
<polygon points="429.9,20.2 444.6,20.2 437,23.6" fill="#78bce0"/>
<polygon points="429.9,32.6 444.6,32.6 437,23.6" fill="#3a86b8"/>
<polygon points="422.2,29.1 429.9,32.6 429.9,49.1 422.2,45.6" fill="#b8b040"/>
<polygon points="451.9,29.1 444.6,32.6 444.6,49.1 451.9,45.6" fill="#b0a83a"/>
<polygon points="429.9,32.6 444.6,32.6 444.6,49.1 429.9,49.1" fill="#f2f262"/>
<polygon points="429.9,49.1 444.6,49.1 444.6,57.3 437,60.8 429.9,57.3" fill="#4a96c6"/>
<polygon points="429.9,49.1 444.6,49.1 437,56.5" fill="#d8ecf8"/>
<path d="M421,39.5 Q437,37 450,39.5" stroke="#e02020" stroke-width="0.9" stroke-dasharray="2.2 1.1" fill="none"/>
<circle cx="429.90" cy="20.20" r="2.00" fill="url(#ato)" />
<circle cx="444.60" cy="20.20" r="2.00" fill="url(#ato)" />
<circle cx="437.00" cy="23.60" r="2.00" fill="url(#ato)" />
<circle cx="422.20" cy="29.10" r="2.00" fill="url(#ato)" />
<circle cx="451.90" cy="29.10" r="2.00" fill="url(#ato)" />
<circle cx="429.90" cy="32.60" r="2.00" fill="url(#ato)" />
<circle cx="444.60" cy="32.60" r="2.00" fill="url(#ato)" />
<circle cx="422.20" cy="45.60" r="2.00" fill="url(#ato)" />
<circle cx="451.90" cy="45.60" r="2.00" fill="url(#ato)" />
<circle cx="429.90" cy="49.10" r="2.00" fill="url(#ato)" />
<circle cx="444.60" cy="49.10" r="2.00" fill="url(#ato)" />
<circle cx="429.90" cy="57.30" r="2.00" fill="url(#ato)" />
<circle cx="444.60" cy="57.30" r="2.00" fill="url(#ato)" />
<circle cx="437.00" cy="60.80" r="2.00" fill="url(#ato)" />
<text x="449.00" y="25.40" font-size="6.0" fill="#3a6ab0" text-anchor="start" font-weight="normal" font-family='"Liberation Sans", sans-serif' >TM 1</text>
<line x1="445.50" y1="23.40" x2="448.60" y2="23.40" stroke="#3a6ab0" stroke-width="0.5" />
<text x="454.20" y="33.80" font-size="6.0" fill="#e02828" text-anchor="start" font-weight="normal" font-family='"Liberation Sans", sans-serif' >Diffusion path</text>
<text x="448.30" y="40.70" font-size="5.6" fill="#222" text-anchor="start" font-weight="normal" font-family='"Liberation Sans", sans-serif' >Na(e)</text>
<text x="426.20" y="40.70" font-size="5.6" fill="#222" text-anchor="end" font-weight="normal" font-family='"Liberation Sans", sans-serif' >Na(e)</text>
<text x="431.60" y="46.60" font-size="5.6" fill="#222" text-anchor="start" font-weight="normal" font-family='"Liberation Sans", sans-serif' >Na(f)</text>
<text x="410.50" y="58.70" font-size="6.0" fill="#3a6ab0" text-anchor="start" font-weight="normal" font-family='"Liberation Sans", sans-serif' >TM 2</text>
<line x1="423.50" y1="56.80" x2="428.50" y2="56.80" stroke="#3a6ab0" stroke-width="0.5" />
<text x="510.50" y="23.30" font-size="5.7" fill="#111" text-anchor="start" font-weight="bold" font-family='"Liberation Sans", sans-serif' >Ground-state structure</text>
<path d="M509,27.6 L588,27.6 L623.5,70.6 L543,70.6 Z" fill="#f2f22c" stroke="#8a8a20" stroke-width="0.45"/>
<path d="M527.5,32.8 Q527.8,33.8 528.2,35.1 Q528.5,36.4 527.4,37.4 Q526.2,38.3 524.6,39.0 Q523.0,39.7 521.5,38.7 Q520.0,37.7 518.9,37.1 Q517.7,36.6 517.3,35.7 Q516.8,34.8 516.6,33.8 Q516.5,32.8 516.4,31.4 Q516.3,30.0 518.2,30.1 Q520.1,30.1 521.5,29.4 Q522.8,28.7 524.0,29.5 Q525.2,30.3 526.2,31.0 Q527.3,31.7 527.5,32.8 Z" fill="#fff" stroke="#7a7a20" stroke-width="0.5"/>
<path d="M544.9,32.3 Q544.9,33.8 543.6,34.8 Q542.2,35.7 541.4,36.5 Q540.5,37.2 539.3,38.1 Q538.2,39.0 536.8,38.2 Q535.5,37.3 533.5,37.5 Q531.5,37.6 530.7,36.4 Q529.8,35.2 531.1,34.0 Q532.5,32.9 532.1,31.5 Q531.8,30.1 533.3,29.6 Q534.9,29.1 536.5,28.8 Q538.2,28.5 540.1,28.5 Q542.1,28.6 543.5,29.7 Q544.8,30.8 544.9,32.3 Z" fill="#fff" stroke="#7a7a20" stroke-width="0.5"/>
<path d="M559.2,32.9 Q559.7,33.8 559.7,34.9 Q559.7,36.0 558.5,36.6 Q557.3,37.2 556.1,37.8 Q554.9,38.5 553.3,38.6 Q551.6,38.6 550.2,38.0 Q548.7,37.4 548.6,36.1 Q548.5,34.8 548.3,33.8 Q548.1,32.7 549.1,31.9 Q550.0,31.1 550.6,29.7 Q551.3,28.3 553.1,28.9 Q554.8,29.4 556.8,29.1 Q558.7,28.8 558.7,30.4 Q558.6,32.0 559.2,32.9 Z" fill="#fff" stroke="#7a7a20" stroke-width="0.5"/>
<path d="M576.4,32.6 Q577.5,33.8 575.5,34.7 Q573.5,35.5 573.4,37.0 Q573.3,38.4 571.5,38.6 Q569.8,38.7 567.9,39.2 Q566.0,39.6 565.1,38.3 Q564.2,36.9 562.6,36.1 Q561.0,35.3 562.4,34.1 Q563.7,32.8 563.2,31.2 Q562.6,29.6 564.7,29.5 Q566.7,29.4 568.2,29.5 Q569.7,29.7 571.1,29.9 Q572.5,30.0 573.9,30.7 Q575.4,31.3 576.4,32.6 Z" fill="#fff" stroke="#7a7a20" stroke-width="0.5"/>
<path d="M591.2,32.5 Q591.2,33.8 590.6,34.8 Q590.0,35.8 589.7,37.3 Q589.3,38.7 587.5,38.7 Q585.6,38.6 584.0,38.6 Q582.4,38.6 581.0,37.9 Q579.6,37.2 579.3,36.0 Q578.9,34.9 578.3,33.7 Q577.8,32.5 578.2,31.1 Q578.7,29.7 580.8,30.0 Q583.0,30.2 584.3,29.5 Q585.6,28.7 586.9,29.4 Q588.1,30.2 589.7,30.8 Q591.2,31.3 591.2,32.5 Z" fill="#fff" stroke="#7a7a20" stroke-width="0.5"/>
<path d="M535.7,45.7 Q534.9,47.1 534.9,48.2 Q534.9,49.2 533.8,49.8 Q532.6,50.4 531.4,50.9 Q530.2,51.4 528.5,51.8 Q526.9,52.3 526.2,51.0 Q525.5,49.8 524.5,49.0 Q523.5,48.2 523.8,47.2 Q524.1,46.1 523.6,44.5 Q523.2,42.9 525.1,42.7 Q527.1,42.4 528.7,42.6 Q530.2,42.7 531.7,42.9 Q533.1,43.2 534.8,43.8 Q536.5,44.3 535.7,45.7 Z" fill="#fff" stroke="#7a7a20" stroke-width="0.5"/>
<path d="M551.8,45.9 Q551.9,47.1 551.8,48.3 Q551.6,49.5 550.5,50.4 Q549.4,51.3 547.9,51.8 Q546.3,52.3 544.5,52.4 Q542.7,52.6 540.9,51.9 Q539.2,51.3 538.8,49.8 Q538.4,48.4 538.1,47.1 Q537.9,45.7 539.1,44.7 Q540.3,43.7 541.7,43.1 Q543.2,42.5 544.8,41.8 Q546.5,41.2 548.4,41.5 Q550.4,41.8 551.0,43.3 Q551.7,44.7 551.8,45.9 Z" fill="#fff" stroke="#7a7a20" stroke-width="0.5"/>
<path d="M567.6,46.0 Q568.9,47.1 567.6,48.2 Q566.2,49.2 565.7,50.6 Q565.2,51.9 563.5,52.6 Q561.8,53.3 560.2,52.3 Q558.7,51.3 556.9,51.1 Q555.0,50.9 555.0,49.5 Q554.9,48.2 555.2,47.2 Q555.5,46.1 555.9,45.1 Q556.2,44.1 557.2,42.9 Q558.1,41.8 559.8,42.4 Q561.4,43.1 563.2,42.9 Q564.9,42.6 565.6,43.8 Q566.2,45.0 567.6,46.0 Z" fill="#fff" stroke="#7a7a20" stroke-width="0.5"/>
<path d="M583.8,45.7 Q584.1,47.1 582.8,48.1 Q581.5,49.0 580.5,49.7 Q579.6,50.3 578.4,51.0 Q577.3,51.7 575.6,52.1 Q573.9,52.5 573.0,51.3 Q572.1,50.1 570.4,49.3 Q568.7,48.6 569.2,47.2 Q569.7,45.8 570.6,44.8 Q571.6,43.8 572.8,43.0 Q574.1,42.1 575.8,42.0 Q577.4,41.9 578.9,42.4 Q580.4,42.9 582.0,43.7 Q583.6,44.4 583.8,45.7 Z" fill="#fff" stroke="#7a7a20" stroke-width="0.5"/>
<path d="M599.6,45.8 Q599.3,47.1 599.7,48.4 Q600.1,49.8 598.2,50.0 Q596.2,50.3 595.1,50.9 Q594.0,51.5 592.5,51.5 Q591.1,51.5 589.1,51.3 Q587.2,51.2 587.3,49.7 Q587.3,48.2 586.9,47.0 Q586.5,45.8 587.9,45.2 Q589.4,44.5 590.4,43.9 Q591.4,43.3 592.8,42.4 Q594.2,41.6 595.7,42.2 Q597.2,42.9 598.6,43.7 Q600.0,44.5 599.6,45.8 Z" fill="#fff" stroke="#7a7a20" stroke-width="0.5"/>
<path d="M543.7,60.1 Q545.4,61.0 544.8,62.4 Q544.2,63.7 543.1,64.9 Q542.0,66.1 539.9,65.3 Q537.9,64.6 536.7,64.5 Q535.6,64.4 534.2,64.2 Q532.8,64.0 531.3,63.2 Q529.7,62.4 529.9,61.0 Q530.1,59.7 530.6,58.3 Q531.1,56.9 532.7,56.1 Q534.4,55.3 536.2,55.7 Q538.1,56.1 539.6,56.5 Q541.1,56.9 541.5,58.0 Q541.9,59.2 543.7,60.1 Z" fill="#fff" stroke="#7a7a20" stroke-width="0.5"/>
<path d="M560.0,60.1 Q561.5,61.0 561.6,62.5 Q561.7,64.0 560.3,65.0 Q558.8,66.1 556.8,65.5 Q554.7,64.9 553.3,65.2 Q551.8,65.5 550.1,65.1 Q548.3,64.8 548.3,63.5 Q548.2,62.1 547.7,60.9 Q547.1,59.7 547.9,58.6 Q548.7,57.4 550.5,57.4 Q552.3,57.5 553.5,57.3 Q554.7,57.1 556.4,56.9 Q558.0,56.8 558.3,58.0 Q558.5,59.3 560.0,60.1 Z" fill="#fff" stroke="#7a7a20" stroke-width="0.5"/>
<path d="M576.5,59.6 Q576.8,61.0 575.9,62.2 Q575.1,63.4 574.5,64.8 Q573.8,66.2 571.7,65.6 Q569.6,64.9 568.1,65.4 Q566.5,65.9 564.7,65.5 Q562.8,65.1 561.9,63.8 Q561.0,62.5 562.3,61.3 Q563.7,60.0 563.1,58.4 Q562.6,56.8 564.7,56.8 Q566.9,56.8 568.3,56.9 Q569.7,56.9 570.8,57.3 Q572.0,57.7 574.2,57.9 Q576.3,58.1 576.5,59.6 Z" fill="#fff" stroke="#7a7a20" stroke-width="0.5"/>
<path d="M589.9,60.2 Q590.7,61.0 590.3,62.0 Q589.9,63.0 589.7,64.5 Q589.5,66.1 587.6,66.3 Q585.7,66.5 584.2,65.9 Q582.6,65.2 580.8,65.1 Q578.9,64.9 577.9,63.7 Q576.8,62.5 576.8,61.0 Q576.7,59.5 578.1,58.5 Q579.5,57.5 580.7,56.3 Q581.9,55.2 583.8,55.1 Q585.8,55.1 587.3,55.9 Q588.8,56.7 588.9,58.0 Q589.1,59.3 589.9,60.2 Z" fill="#fff" stroke="#7a7a20" stroke-width="0.5"/>
<path d="M606.3,60.1 Q607.3,61.0 606.3,61.9 Q605.2,62.8 604.2,63.4 Q603.3,64.0 602.2,64.6 Q601.2,65.1 599.9,64.9 Q598.6,64.7 596.9,64.6 Q595.3,64.5 594.7,63.3 Q594.2,62.2 593.3,60.8 Q592.4,59.5 593.3,58.2 Q594.2,56.8 595.9,56.1 Q597.7,55.4 599.6,55.3 Q601.4,55.2 603.1,55.8 Q604.7,56.5 605.0,57.8 Q605.3,59.1 606.3,60.1 Z" fill="#fff" stroke="#7a7a20" stroke-width="0.5"/>
<circle cx="505.20" cy="29.20" r="3.00" fill="url(#nabl)" stroke="#333" stroke-width="0.3" stroke-opacity="0.6"/>
<circle cx="521.20" cy="29.20" r="3.00" fill="url(#natl)" stroke="#333" stroke-width="0.3" stroke-opacity="0.6"/>
<circle cx="536.50" cy="29.20" r="3.00" fill="url(#nasl)" stroke="#333" stroke-width="0.3" stroke-opacity="0.6"/>
<circle cx="553.30" cy="29.20" r="3.00" fill="url(#naol)" stroke="#333" stroke-width="0.3" stroke-opacity="0.6"/>
<circle cx="568.20" cy="29.20" r="3.00" fill="url(#namg)" stroke="#333" stroke-width="0.3" stroke-opacity="0.6"/>
<circle cx="584.00" cy="29.20" r="3.00" fill="url(#nabl)" stroke="#333" stroke-width="0.3" stroke-opacity="0.6"/>
<circle cx="528.70" cy="42.50" r="3.00" fill="url(#namg)" stroke="#333" stroke-width="0.3" stroke-opacity="0.6"/>
<circle cx="544.70" cy="42.50" r="3.00" fill="url(#nabl)" stroke="#333" stroke-width="0.3" stroke-opacity="0.6"/>
<circle cx="560.00" cy="42.50" r="3.00" fill="url(#natl)" stroke="#333" stroke-width="0.3" stroke-opacity="0.6"/>
<circle cx="575.80" cy="42.50" r="3.00" fill="url(#nasl)" stroke="#333" stroke-width="0.3" stroke-opacity="0.6"/>
<circle cx="592.50" cy="42.50" r="3.00" fill="url(#naol)" stroke="#333" stroke-width="0.3" stroke-opacity="0.6"/>
<circle cx="536.50" cy="56.40" r="3.00" fill="url(#nasl)" stroke="#333" stroke-width="0.3" stroke-opacity="0.6"/>
<circle cx="553.30" cy="56.40" r="3.00" fill="url(#naol)" stroke="#333" stroke-width="0.3" stroke-opacity="0.6"/>
<circle cx="568.20" cy="56.40" r="3.00" fill="url(#namg)" stroke="#333" stroke-width="0.3" stroke-opacity="0.6"/>
<circle cx="584.00" cy="56.40" r="3.00" fill="url(#nabl)" stroke="#333" stroke-width="0.3" stroke-opacity="0.6"/>
<circle cx="599.70" cy="56.40" r="3.00" fill="url(#natl)" stroke="#333" stroke-width="0.3" stroke-opacity="0.6"/>
<circle cx="544.70" cy="69.70" r="3.00" fill="url(#nabl)" stroke="#333" stroke-width="0.3" stroke-opacity="0.6"/>
<circle cx="560.40" cy="69.70" r="3.00" fill="url(#natl)" stroke="#333" stroke-width="0.3" stroke-opacity="0.6"/>
<circle cx="575.80" cy="69.70" r="3.00" fill="url(#nasl)" stroke="#333" stroke-width="0.3" stroke-opacity="0.6"/>
<circle cx="592.50" cy="69.70" r="3.00" fill="url(#naol)" stroke="#333" stroke-width="0.3" stroke-opacity="0.6"/>
<circle cx="607.50" cy="69.70" r="3.00" fill="url(#namg)" stroke="#333" stroke-width="0.3" stroke-opacity="0.6"/>
<circle cx="623.40" cy="69.70" r="3.00" fill="url(#nabl)" stroke="#333" stroke-width="0.3" stroke-opacity="0.6"/>
<text x="511.80" y="87.60" font-size="5.7" fill="#111" text-anchor="start" font-weight="bold" font-family='"Liberation Sans", sans-serif' >Low-energy structure</text>
<path d="M509.0,98.5 L516.0,100.5 L522.0,98.5 L527.5,104.0 L532.0,110.0 L538.0,115.5" fill="none" stroke="#8a8a20" stroke-width="5.5" stroke-linejoin="round" stroke-linecap="round"/>
<path d="M539.0,96.5 L545.5,100.5 L552.0,97.0" fill="none" stroke="#8a8a20" stroke-width="5.5" stroke-linejoin="round" stroke-linecap="round"/>
<path d="M545.5,100.5 L547.0,104.5" fill="none" stroke="#8a8a20" stroke-width="4.7" stroke-linejoin="round" stroke-linecap="round"/>
<path d="M546.0,110.0 L553.0,113.0 L560.0,110.5" fill="none" stroke="#8a8a20" stroke-width="5.5" stroke-linejoin="round" stroke-linecap="round"/>
<path d="M553.0,113.0 L554.5,117.0" fill="none" stroke="#8a8a20" stroke-width="4.7" stroke-linejoin="round" stroke-linecap="round"/>
<path d="M538.5,124.0 L543.0,127.0 L547.5,131.0 L545.5,135.0" fill="none" stroke="#8a8a20" stroke-width="5.1000000000000005" stroke-linejoin="round" stroke-linecap="round"/>
<path d="M561.0,98.5 L567.0,97.0 L572.0,99.5 L576.0,102.0" fill="none" stroke="#8a8a20" stroke-width="5.5" stroke-linejoin="round" stroke-linecap="round"/>
<path d="M562.0,102.0 L561.0,98.5" fill="none" stroke="#8a8a20" stroke-width="3.9" stroke-linejoin="round" stroke-linecap="round"/>
<path d="M586.0,97.5 L593.0,103.0" fill="none" stroke="#8a8a20" stroke-width="1.8" stroke-linejoin="round" stroke-linecap="round"/>
<path d="M578.0,111.0 L582.0,115.0 L586.0,118.0 L590.0,113.0 L593.0,110.0" fill="none" stroke="#8a8a20" stroke-width="5.5" stroke-linejoin="round" stroke-linecap="round"/>
<path d="M561.0,111.0 L565.0,115.0 L568.0,121.0" fill="none" stroke="#8a8a20" stroke-width="5.5" stroke-linejoin="round" stroke-linecap="round"/>
<path d="M559.0,127.0 L565.0,126.0 L570.0,124.0 L578.0,125.0 L582.0,124.0" fill="none" stroke="#8a8a20" stroke-width="5.5" stroke-linejoin="round" stroke-linecap="round"/>
<path d="M586.0,124.0 L594.0,127.0 L600.0,125.0 L606.0,130.0 L610.0,135.0" fill="none" stroke="#8a8a20" stroke-width="5.5" stroke-linejoin="round" stroke-linecap="round"/>
<path d="M596.0,113.0 L601.0,117.5" fill="none" stroke="#8a8a20" stroke-width="1.8" stroke-linejoin="round" stroke-linecap="round"/>
<path d="M613.0,125.0 L616.0,128.5" fill="none" stroke="#8a8a20" stroke-width="1.8" stroke-linejoin="round" stroke-linecap="round"/>
<path d="M618.0,130.5 L622.0,135.0" fill="none" stroke="#8a8a20" stroke-width="1.8" stroke-linejoin="round" stroke-linecap="round"/>
<path d="M561.0,133.0 L568.0,134.5 L575.0,133.0" fill="none" stroke="#8a8a20" stroke-width="4.7" stroke-linejoin="round" stroke-linecap="round"/>
<ellipse cx="519" cy="101.5" rx="3.6500000000000004" ry="2.6500000000000004" fill="#8a8a20"/>
<ellipse cx="530" cy="107" rx="3.0500000000000003" ry="3.85" fill="#8a8a20"/>
<ellipse cx="545.5" cy="101" rx="4.05" ry="3.0500000000000003" fill="#8a8a20"/>
<ellipse cx="553" cy="114" rx="3.85" ry="2.85" fill="#8a8a20"/>
<ellipse cx="544" cy="129" rx="3.0500000000000003" ry="3.45" fill="#8a8a20"/>
<ellipse cx="569" cy="99.5" rx="3.85" ry="2.85" fill="#8a8a20"/>
<ellipse cx="586" cy="114.5" rx="3.45" ry="3.45" fill="#8a8a20"/>
<ellipse cx="566" cy="118" rx="3.0500000000000003" ry="3.85" fill="#8a8a20"/>
<ellipse cx="571" cy="125.5" rx="4.05" ry="2.85" fill="#8a8a20"/>
<ellipse cx="600" cy="127.5" rx="3.85" ry="3.0500000000000003" fill="#8a8a20"/>
<ellipse cx="568" cy="134.5" rx="3.45" ry="2.25" fill="#8a8a20"/>
<path d="M509.0,98.5 L516.0,100.5 L522.0,98.5 L527.5,104.0 L532.0,110.0 L538.0,115.5" fill="none" stroke="#f2f22c" stroke-width="4.6" stroke-linejoin="round" stroke-linecap="round"/>
<path d="M539.0,96.5 L545.5,100.5 L552.0,97.0" fill="none" stroke="#f2f22c" stroke-width="4.6" stroke-linejoin="round" stroke-linecap="round"/>
<path d="M545.5,100.5 L547.0,104.5" fill="none" stroke="#f2f22c" stroke-width="3.8" stroke-linejoin="round" stroke-linecap="round"/>
<path d="M546.0,110.0 L553.0,113.0 L560.0,110.5" fill="none" stroke="#f2f22c" stroke-width="4.6" stroke-linejoin="round" stroke-linecap="round"/>
<path d="M553.0,113.0 L554.5,117.0" fill="none" stroke="#f2f22c" stroke-width="3.8" stroke-linejoin="round" stroke-linecap="round"/>
<path d="M538.5,124.0 L543.0,127.0 L547.5,131.0 L545.5,135.0" fill="none" stroke="#f2f22c" stroke-width="4.2" stroke-linejoin="round" stroke-linecap="round"/>
<path d="M561.0,98.5 L567.0,97.0 L572.0,99.5 L576.0,102.0" fill="none" stroke="#f2f22c" stroke-width="4.6" stroke-linejoin="round" stroke-linecap="round"/>
<path d="M562.0,102.0 L561.0,98.5" fill="none" stroke="#f2f22c" stroke-width="3.0" stroke-linejoin="round" stroke-linecap="round"/>
<path d="M586.0,97.5 L593.0,103.0" fill="none" stroke="#f2f22c" stroke-width="0.9" stroke-linejoin="round" stroke-linecap="round"/>
<path d="M578.0,111.0 L582.0,115.0 L586.0,118.0 L590.0,113.0 L593.0,110.0" fill="none" stroke="#f2f22c" stroke-width="4.6" stroke-linejoin="round" stroke-linecap="round"/>
<path d="M561.0,111.0 L565.0,115.0 L568.0,121.0" fill="none" stroke="#f2f22c" stroke-width="4.6" stroke-linejoin="round" stroke-linecap="round"/>
<path d="M559.0,127.0 L565.0,126.0 L570.0,124.0 L578.0,125.0 L582.0,124.0" fill="none" stroke="#f2f22c" stroke-width="4.6" stroke-linejoin="round" stroke-linecap="round"/>
<path d="M586.0,124.0 L594.0,127.0 L600.0,125.0 L606.0,130.0 L610.0,135.0" fill="none" stroke="#f2f22c" stroke-width="4.6" stroke-linejoin="round" stroke-linecap="round"/>
<path d="M596.0,113.0 L601.0,117.5" fill="none" stroke="#f2f22c" stroke-width="0.9" stroke-linejoin="round" stroke-linecap="round"/>
<path d="M613.0,125.0 L616.0,128.5" fill="none" stroke="#f2f22c" stroke-width="0.9" stroke-linejoin="round" stroke-linecap="round"/>
<path d="M618.0,130.5 L622.0,135.0" fill="none" stroke="#f2f22c" stroke-width="0.9" stroke-linejoin="round" stroke-linecap="round"/>
<path d="M561.0,133.0 L568.0,134.5 L575.0,133.0" fill="none" stroke="#f2f22c" stroke-width="3.8" stroke-linejoin="round" stroke-linecap="round"/>
<ellipse cx="519" cy="101.5" rx="3.2" ry="2.2" fill="#f2f22c"/>
<ellipse cx="530" cy="107" rx="2.6" ry="3.4" fill="#f2f22c"/>
<ellipse cx="545.5" cy="101" rx="3.6" ry="2.6" fill="#f2f22c"/>
<ellipse cx="553" cy="114" rx="3.4" ry="2.4" fill="#f2f22c"/>
<ellipse cx="544" cy="129" rx="2.6" ry="3.0" fill="#f2f22c"/>
<ellipse cx="569" cy="99.5" rx="3.4" ry="2.4" fill="#f2f22c"/>
<ellipse cx="586" cy="114.5" rx="3.0" ry="3.0" fill="#f2f22c"/>
<ellipse cx="566" cy="118" rx="2.6" ry="3.4" fill="#f2f22c"/>
<ellipse cx="571" cy="125.5" rx="3.6" ry="2.4" fill="#f2f22c"/>
<ellipse cx="600" cy="127.5" rx="3.4" ry="2.6" fill="#f2f22c"/>
<ellipse cx="568" cy="134.5" rx="3.0" ry="1.8" fill="#f2f22c"/>
<circle cx="505.30" cy="94.50" r="3.00" fill="url(#nacy)" stroke="#333" stroke-width="0.3" stroke-opacity="0.6"/>
<circle cx="521.80" cy="94.50" r="3.00" fill="url(#namg)" stroke="#333" stroke-width="0.3" stroke-opacity="0.6"/>
<circle cx="537.00" cy="94.50" r="3.00" fill="url(#nard)" stroke="#333" stroke-width="0.3" stroke-opacity="0.6"/>
<circle cx="553.70" cy="94.50" r="3.00" fill="url(#nasl)" stroke="#333" stroke-width="0.3" stroke-opacity="0.6"/>
<circle cx="568.70" cy="94.50" r="3.00" fill="url(#nanv)" stroke="#333" stroke-width="0.3" stroke-opacity="0.6"/>
<circle cx="583.90" cy="94.50" r="3.00" fill="url(#nacy)" stroke="#333" stroke-width="0.3" stroke-opacity="0.6"/>
<circle cx="529.40" cy="108.80" r="3.00" fill="url(#nanv)" stroke="#333" stroke-width="0.3" stroke-opacity="0.6"/>
<circle cx="544.60" cy="108.80" r="3.00" fill="url(#nacy)" stroke="#333" stroke-width="0.3" stroke-opacity="0.6"/>
<circle cx="560.70" cy="108.80" r="3.00" fill="url(#namg)" stroke="#333" stroke-width="0.3" stroke-opacity="0.6"/>
<circle cx="576.50" cy="108.80" r="3.00" fill="url(#nard)" stroke="#333" stroke-width="0.3" stroke-opacity="0.6"/>
<circle cx="593.00" cy="108.80" r="3.00" fill="url(#nacy)" stroke="#333" stroke-width="0.3" stroke-opacity="0.6"/>
<circle cx="537.00" cy="122.40" r="3.00" fill="url(#nard)" stroke="#333" stroke-width="0.3" stroke-opacity="0.6"/>
<circle cx="553.70" cy="122.40" r="3.00" fill="url(#nasl)" stroke="#333" stroke-width="0.3" stroke-opacity="0.6"/>
<circle cx="568.70" cy="122.40" r="3.00" fill="url(#nanv)" stroke="#333" stroke-width="0.3" stroke-opacity="0.6"/>
<circle cx="583.90" cy="122.40" r="3.00" fill="url(#nacy)" stroke="#333" stroke-width="0.3" stroke-opacity="0.6"/>
<circle cx="600.60" cy="122.40" r="3.00" fill="url(#namg)" stroke="#333" stroke-width="0.3" stroke-opacity="0.6"/>
<circle cx="544.60" cy="136.30" r="3.00" fill="url(#nacy)" stroke="#333" stroke-width="0.3" stroke-opacity="0.6"/>
<circle cx="560.70" cy="136.30" r="3.00" fill="url(#namg)" stroke="#333" stroke-width="0.3" stroke-opacity="0.6"/>
<circle cx="576.50" cy="136.30" r="3.00" fill="url(#nard)" stroke="#333" stroke-width="0.3" stroke-opacity="0.6"/>
<circle cx="593.00" cy="136.30" r="3.00" fill="url(#nasl)" stroke="#333" stroke-width="0.3" stroke-opacity="0.6"/>
<circle cx="607.80" cy="136.30" r="3.00" fill="url(#nanv)" stroke="#333" stroke-width="0.3" stroke-opacity="0.6"/>
<circle cx="623.30" cy="136.30" r="3.00" fill="url(#nacy)" stroke="#333" stroke-width="0.3" stroke-opacity="0.6"/>
<circle cx="641.20" cy="31.80" r="4.90" fill="url(#nacy)" />
<text x="652.80" y="33.90" font-size="6.3" fill="#1a1a1a" text-anchor="start" font-weight="normal" font-family='"Liberation Sans", sans-serif' >Na(f)<tspan font-size="3.8" dy="1.4">Co-Ti</tspan></text>
<circle cx="641.20" cy="46.13" r="4.90" fill="url(#namg)" />
<text x="652.80" y="48.23" font-size="6.3" fill="#1a1a1a" text-anchor="start" font-weight="normal" font-family='"Liberation Sans", sans-serif' >Na(f)<tspan font-size="3.8" dy="1.4">Mn-Ni</tspan></text>
<circle cx="641.20" cy="60.46" r="4.90" fill="url(#nard)" />
<text x="652.80" y="62.56" font-size="6.3" fill="#1a1a1a" text-anchor="start" font-weight="normal" font-family='"Liberation Sans", sans-serif' >Na(f)<tspan font-size="3.8" dy="1.4">Mn-Ru</tspan></text>
<circle cx="641.20" cy="74.79" r="4.90" fill="url(#nasl)" />
<text x="652.80" y="76.89" font-size="6.3" fill="#1a1a1a" text-anchor="start" font-weight="normal" font-family='"Liberation Sans", sans-serif' >Na(f)<tspan font-size="3.8" dy="1.4">Ti-Ru</tspan></text>
<circle cx="641.20" cy="89.12" r="4.90" fill="url(#nanv)" />
<text x="652.80" y="91.22" font-size="6.3" fill="#1a1a1a" text-anchor="start" font-weight="normal" font-family='"Liberation Sans", sans-serif' >Na(f)<tspan font-size="3.8" dy="1.4">Co-Ni</tspan></text>
<circle cx="641.20" cy="103.45" r="4.90" fill="url(#nabl)" />
<text x="652.80" y="105.55" font-size="6.3" fill="#1a1a1a" text-anchor="start" font-weight="normal" font-family='"Liberation Sans", sans-serif' >Na(f)<tspan font-size="3.8" dy="1.4">Co-Mn</tspan></text>
<circle cx="641.20" cy="117.78" r="4.90" fill="url(#natl)" />
<text x="652.80" y="119.88" font-size="6.3" fill="#1a1a1a" text-anchor="start" font-weight="normal" font-family='"Liberation Sans", sans-serif' >Na(f)<tspan font-size="3.8" dy="1.4">Co-Ru</tspan></text>
<circle cx="641.20" cy="132.11" r="4.90" fill="url(#naol)" />
<text x="652.80" y="134.21" font-size="6.3" fill="#1a1a1a" text-anchor="start" font-weight="normal" font-family='"Liberation Sans", sans-serif' >Na(f)<tspan font-size="3.8" dy="1.4">Ti-Ni</tspan></text>
<rect x="387.5" y="148.8" width="114.5" height="84.6" fill="none" stroke="#222" stroke-width="0.8"/>
<line x1="387.50" y1="225.80" x2="389.30" y2="225.80" stroke="#222" stroke-width="0.6" />
<text x="385.30" y="228.40" font-size="7.5" fill="#222" text-anchor="end" font-weight="normal" font-family='"Liberation Sans", sans-serif' >0.2</text>
<line x1="387.50" y1="211.80" x2="389.30" y2="211.80" stroke="#222" stroke-width="0.6" />
<text x="385.30" y="214.40" font-size="7.5" fill="#222" text-anchor="end" font-weight="normal" font-family='"Liberation Sans", sans-serif' >0.4</text>
<line x1="387.50" y1="197.80" x2="389.30" y2="197.80" stroke="#222" stroke-width="0.6" />
<text x="385.30" y="200.40" font-size="7.5" fill="#222" text-anchor="end" font-weight="normal" font-family='"Liberation Sans", sans-serif' >0.6</text>
<line x1="387.50" y1="183.80" x2="389.30" y2="183.80" stroke="#222" stroke-width="0.6" />
<text x="385.30" y="186.40" font-size="7.5" fill="#222" text-anchor="end" font-weight="normal" font-family='"Liberation Sans", sans-serif' >0.8</text>
<line x1="387.50" y1="169.80" x2="389.30" y2="169.80" stroke="#222" stroke-width="0.6" />
<text x="385.30" y="172.40" font-size="7.5" fill="#222" text-anchor="end" font-weight="normal" font-family='"Liberation Sans", sans-serif' >1.0</text>
<line x1="387.50" y1="155.80" x2="389.30" y2="155.80" stroke="#222" stroke-width="0.6" />
<text x="385.30" y="158.40" font-size="7.5" fill="#222" text-anchor="end" font-weight="normal" font-family='"Liberation Sans", sans-serif' >1.2</text>
<line x1="387.50" y1="218.80" x2="388.50" y2="218.80" stroke="#222" stroke-width="0.5" />
<line x1="387.50" y1="204.80" x2="388.50" y2="204.80" stroke="#222" stroke-width="0.5" />
<line x1="387.50" y1="190.80" x2="388.50" y2="190.80" stroke="#222" stroke-width="0.5" />
<line x1="387.50" y1="176.80" x2="388.50" y2="176.80" stroke="#222" stroke-width="0.5" />
<line x1="387.50" y1="162.80" x2="388.50" y2="162.80" stroke="#222" stroke-width="0.5" />
<line x1="387.09" y1="233.40" x2="387.09" y2="231.60" stroke="#222" stroke-width="0.6" />
<text x="387.09" y="240.90" font-size="7.5" fill="#222" text-anchor="middle" font-weight="normal" font-family='"Liberation Sans", sans-serif' >1</text>
<line x1="401.40" y1="233.40" x2="401.40" y2="231.60" stroke="#222" stroke-width="0.6" />
<text x="401.40" y="240.90" font-size="7.5" fill="#222" text-anchor="middle" font-weight="normal" font-family='"Liberation Sans", sans-serif' >4</text>
<line x1="420.48" y1="233.40" x2="420.48" y2="231.60" stroke="#222" stroke-width="0.6" />
<text x="420.48" y="240.90" font-size="7.5" fill="#222" text-anchor="middle" font-weight="normal" font-family='"Liberation Sans", sans-serif' >8</text>
<line x1="439.56" y1="233.40" x2="439.56" y2="231.60" stroke="#222" stroke-width="0.6" />
<text x="439.56" y="240.90" font-size="7.5" fill="#222" text-anchor="middle" font-weight="normal" font-family='"Liberation Sans", sans-serif' >12</text>
<line x1="458.64" y1="233.40" x2="458.64" y2="231.60" stroke="#222" stroke-width="0.6" />
<text x="458.64" y="240.90" font-size="7.5" fill="#222" text-anchor="middle" font-weight="normal" font-family='"Liberation Sans", sans-serif' >16</text>
<line x1="477.72" y1="233.40" x2="477.72" y2="231.60" stroke="#222" stroke-width="0.6" />
<text x="477.72" y="240.90" font-size="7.5" fill="#222" text-anchor="middle" font-weight="normal" font-family='"Liberation Sans", sans-serif' >20</text>
<line x1="496.80" y1="233.40" x2="496.80" y2="231.60" stroke="#222" stroke-width="0.6" />
<text x="496.80" y="240.90" font-size="7.5" fill="#222" text-anchor="middle" font-weight="normal" font-family='"Liberation Sans", sans-serif' >24</text>
<line x1="391.86" y1="233.40" x2="391.86" y2="232.40" stroke="#222" stroke-width="0.5" />
<line x1="410.94" y1="233.40" x2="410.94" y2="232.40" stroke="#222" stroke-width="0.5" />
<line x1="430.02" y1="233.40" x2="430.02" y2="232.40" stroke="#222" stroke-width="0.5" />
<line x1="449.10" y1="233.40" x2="449.10" y2="232.40" stroke="#222" stroke-width="0.5" />
<line x1="468.18" y1="233.40" x2="468.18" y2="232.40" stroke="#222" stroke-width="0.5" />
<line x1="487.26" y1="233.40" x2="487.26" y2="232.40" stroke="#222" stroke-width="0.5" />
<text x="444.20" y="248.40" font-size="6.6" fill="#333" text-anchor="middle" font-weight="normal" font-family='"Liberation Sans", sans-serif' >Number of adsorbed Zn<tspan font-size="4.3" dy="-2.8">2+</tspan></text>
<text transform="translate(371.1 189) rotate(-90)" font-size="7.4" fill="#222" text-anchor="middle" font-family='"Liberation Sans", sans-serif'>OCV (V)</text>
<polyline points="387.09,190.80 401.40,190.80 401.40,157.20 420.48,157.20 420.48,181.00 439.56,181.00 439.56,185.90 458.64,185.90 458.64,220.90 477.72,220.90 477.72,210.40 496.80,210.40 496.80,223.70" fill="none" stroke="#f02424" stroke-width="1.2"/>
<polyline points="387.09,207.60 401.40,207.60 401.40,175.40 420.48,175.40 420.48,202.00 439.56,202.00 439.56,225.10" fill="none" stroke="#3ce43c" stroke-width="1.2"/>
<circle cx="401.40" cy="157.20" r="1.50" fill="#f02424" />
<circle cx="420.48" cy="181.00" r="1.50" fill="#f02424" />
<circle cx="439.56" cy="185.90" r="1.50" fill="#f02424" />
<circle cx="458.64" cy="220.90" r="1.50" fill="#f02424" />
<circle cx="477.72" cy="210.40" r="1.50" fill="#f02424" />
<circle cx="496.80" cy="223.70" r="1.50" fill="#f02424" />
<circle cx="401.40" cy="175.40" r="1.40" fill="#fff" stroke="#3ce43c" stroke-width="0.7"/>
<circle cx="420.48" cy="202.00" r="1.40" fill="#fff" stroke="#3ce43c" stroke-width="0.7"/>
<circle cx="439.56" cy="225.10" r="1.40" fill="#fff" stroke="#3ce43c" stroke-width="0.7"/>
<line x1="422.70" y1="156.30" x2="434.00" y2="156.30" stroke="#f02424" stroke-width="1.2" />
<circle cx="428.30" cy="156.30" r="1.50" fill="#f02424" />
<line x1="422.70" y1="164.60" x2="434.00" y2="164.60" stroke="#3ce43c" stroke-width="1.2" />
<circle cx="428.30" cy="164.60" r="1.40" fill="#fff" stroke="#3ce43c" stroke-width="0.7"/>
<text x="438.00" y="158.60" font-size="6.8" fill="#222" text-anchor="start" font-weight="normal" font-family='"Liberation Sans", sans-serif' >Ti<tspan font-size="3.8" dy="1.4">0.75</tspan><tspan dy="-1.4">V</tspan><tspan font-size="3.8" dy="1.4">0.75</tspan><tspan dy="-1.4">Cr</tspan><tspan font-size="3.8" dy="1.4">0.75</tspan><tspan dy="-1.4">Mo</tspan><tspan font-size="3.8" dy="1.4">0.75</tspan><tspan dy="-1.4">C</tspan><tspan font-size="3.8" dy="1.4">2</tspan></text>
<text x="438.00" y="166.90" font-size="6.8" fill="#222" text-anchor="start" font-weight="normal" font-family='"Liberation Sans", sans-serif' >Ti<tspan font-size="3.8" dy="1.4">3</tspan><tspan dy="-1.4">C</tspan><tspan font-size="3.8" dy="1.4">2</tspan></text>
<rect x="536.5" y="185.76" width="22.80" height="50.64" fill="url(#cg)" stroke="#222" stroke-width="0.5"/>
<rect x="574.6" y="195.57" width="23.30" height="40.83" fill="url(#cr)" stroke="#222" stroke-width="0.5"/>
<rect x="612.9" y="154.32" width="23.80" height="82.08" fill="url(#cr2)" stroke="#222" stroke-width="0.5"/>
<rect x="528.8" y="151.5" width="115.80000000000007" height="84.9" fill="none" stroke="#222" stroke-width="0.8"/>
<line x1="528.80" y1="236.40" x2="530.60" y2="236.40" stroke="#222" stroke-width="0.6" />
<text x="527.00" y="239.10" font-size="7.9" fill="#222" text-anchor="end" font-weight="normal" font-family='"Liberation Sans", sans-serif' >0</text>
<line x1="528.80" y1="215.30" x2="530.60" y2="215.30" stroke="#222" stroke-width="0.6" />
<text x="527.00" y="218.00" font-size="7.9" fill="#222" text-anchor="end" font-weight="normal" font-family='"Liberation Sans", sans-serif' >200</text>
<line x1="528.80" y1="194.20" x2="530.60" y2="194.20" stroke="#222" stroke-width="0.6" />
<text x="527.00" y="196.90" font-size="7.9" fill="#222" text-anchor="end" font-weight="normal" font-family='"Liberation Sans", sans-serif' >400</text>
<line x1="528.80" y1="173.10" x2="530.60" y2="173.10" stroke="#222" stroke-width="0.6" />
<text x="527.00" y="175.80" font-size="7.9" fill="#222" text-anchor="end" font-weight="normal" font-family='"Liberation Sans", sans-serif' >600</text>
<line x1="528.80" y1="152.00" x2="530.60" y2="152.00" stroke="#222" stroke-width="0.6" />
<text x="527.00" y="154.70" font-size="7.9" fill="#222" text-anchor="end" font-weight="normal" font-family='"Liberation Sans", sans-serif' >800</text>
<line x1="528.80" y1="225.85" x2="529.80" y2="225.85" stroke="#222" stroke-width="0.5" />
<line x1="528.80" y1="204.75" x2="529.80" y2="204.75" stroke="#222" stroke-width="0.5" />
<line x1="528.80" y1="183.65" x2="529.80" y2="183.65" stroke="#222" stroke-width="0.5" />
<line x1="528.80" y1="162.55" x2="529.80" y2="162.55" stroke="#222" stroke-width="0.5" />
<line x1="547.90" y1="236.40" x2="547.90" y2="234.80" stroke="#222" stroke-width="0.6" />
<text x="548.30" y="242.70" font-size="7.0" fill="#222" text-anchor="middle" font-weight="normal" font-family='"Liberation Sans", sans-serif' >12</text>
<line x1="586.20" y1="236.40" x2="586.20" y2="234.80" stroke="#222" stroke-width="0.6" />
<text x="586.60" y="242.70" font-size="7.0" fill="#222" text-anchor="middle" font-weight="normal" font-family='"Liberation Sans", sans-serif' >12</text>
<line x1="624.80" y1="236.40" x2="624.80" y2="234.80" stroke="#222" stroke-width="0.6" />
<text x="625.20" y="242.70" font-size="7.0" fill="#222" text-anchor="middle" font-weight="normal" font-family='"Liberation Sans", sans-serif' >24</text>
<text x="587.60" y="250.10" font-size="6.6" fill="#333" text-anchor="middle" font-weight="normal" font-family='"Liberation Sans", sans-serif' >number of adsorbed Zn<tspan font-size="4.3" dy="-2.8">2+</tspan></text>
<text transform="translate(511.0 192.9) rotate(-90)" font-size="7.4" fill="#222" text-anchor="middle" font-family='"Liberation Sans", sans-serif'>Capacity (mAh/g)</text>
<rect x="533" y="158.2" width="13.7" height="5.9" fill="url(#cr2)" stroke="#222" stroke-width="0.5"/>
<rect x="533" y="171.0" width="13.7" height="6.2" fill="url(#cg)" stroke="#222" stroke-width="0.5"/>
<text x="548.70" y="163.40" font-size="6.9" fill="#222" text-anchor="start" font-weight="normal" font-family='"Liberation Sans", sans-serif' >Ti<tspan font-size="3.8" dy="1.4">0.75</tspan><tspan dy="-1.4">V</tspan><tspan font-size="3.8" dy="1.4">0.75</tspan><tspan dy="-1.4">Cr</tspan><tspan font-size="3.8" dy="1.4">0.75</tspan><tspan dy="-1.4">Mo</tspan><tspan font-size="3.8" dy="1.4">0.75</tspan><tspan dy="-1.4">C</tspan><tspan font-size="3.8" dy="1.4">2</tspan></text>
<text x="548.70" y="176.40" font-size="6.9" fill="#222" text-anchor="start" font-weight="normal" font-family='"Liberation Sans", sans-serif' >Ti<tspan font-size="3.8" dy="1.4">3</tspan><tspan dy="-1.4">C</tspan><tspan font-size="3.8" dy="1.4">2</tspan></text>
<text x="409.00" y="263.00" font-size="5.6" fill="#e02020" text-anchor="start" font-weight="bold" font-family='"Liberation Sans", sans-serif' >Ti 3C 2</text>
<g clip-path="url(#clip1)">
<rect x="410" y="266.3" width="63.8" height="38.6" fill="#2a7a8c"/>
<circle cx="414.5" cy="279.8" r="8.6" fill="url(#tvy)"/>
<line x1="416.41" y1="280.90" x2="421.60" y2="283.90" stroke="#4a6a30" stroke-width="0.9" opacity="0.6"/>
<line x1="414.50" y1="282.00" x2="414.50" y2="288.00" stroke="#4a6a30" stroke-width="0.9" opacity="0.6"/>
<line x1="412.59" y1="280.90" x2="407.40" y2="283.90" stroke="#4a6a30" stroke-width="0.9" opacity="0.6"/>
<line x1="412.59" y1="278.70" x2="407.40" y2="275.70" stroke="#4a6a30" stroke-width="0.9" opacity="0.6"/>
<line x1="414.50" y1="277.60" x2="414.50" y2="271.60" stroke="#4a6a30" stroke-width="0.9" opacity="0.6"/>
<line x1="416.41" y1="278.70" x2="421.60" y2="275.70" stroke="#4a6a30" stroke-width="0.9" opacity="0.6"/>
<circle cx="414.5" cy="279.8" r="8.3" fill="none" stroke="#3a6a40" stroke-width="0.7" opacity="0.6"/>
<circle cx="433" cy="279.8" r="8.6" fill="url(#tvy)"/>
<line x1="434.91" y1="280.90" x2="440.10" y2="283.90" stroke="#4a6a30" stroke-width="0.9" opacity="0.6"/>
<line x1="433.00" y1="282.00" x2="433.00" y2="288.00" stroke="#4a6a30" stroke-width="0.9" opacity="0.6"/>
<line x1="431.09" y1="280.90" x2="425.90" y2="283.90" stroke="#4a6a30" stroke-width="0.9" opacity="0.6"/>
<line x1="431.09" y1="278.70" x2="425.90" y2="275.70" stroke="#4a6a30" stroke-width="0.9" opacity="0.6"/>
<line x1="433.00" y1="277.60" x2="433.00" y2="271.60" stroke="#4a6a30" stroke-width="0.9" opacity="0.6"/>
<line x1="434.91" y1="278.70" x2="440.10" y2="275.70" stroke="#4a6a30" stroke-width="0.9" opacity="0.6"/>
<circle cx="433" cy="279.8" r="8.3" fill="none" stroke="#3a6a40" stroke-width="0.7" opacity="0.6"/>
<circle cx="452" cy="279.8" r="8.6" fill="url(#tvy)"/>
<line x1="453.91" y1="280.90" x2="459.10" y2="283.90" stroke="#4a6a30" stroke-width="0.9" opacity="0.6"/>
<line x1="452.00" y1="282.00" x2="452.00" y2="288.00" stroke="#4a6a30" stroke-width="0.9" opacity="0.6"/>
<line x1="450.09" y1="280.90" x2="444.90" y2="283.90" stroke="#4a6a30" stroke-width="0.9" opacity="0.6"/>
<line x1="450.09" y1="278.70" x2="444.90" y2="275.70" stroke="#4a6a30" stroke-width="0.9" opacity="0.6"/>
<line x1="452.00" y1="277.60" x2="452.00" y2="271.60" stroke="#4a6a30" stroke-width="0.9" opacity="0.6"/>
<line x1="453.91" y1="278.70" x2="459.10" y2="275.70" stroke="#4a6a30" stroke-width="0.9" opacity="0.6"/>
<circle cx="452" cy="279.8" r="8.3" fill="none" stroke="#3a6a40" stroke-width="0.7" opacity="0.6"/>
<circle cx="471" cy="279.8" r="8.6" fill="url(#tvy)"/>
<line x1="472.91" y1="280.90" x2="478.10" y2="283.90" stroke="#4a6a30" stroke-width="0.9" opacity="0.6"/>
<line x1="471.00" y1="282.00" x2="471.00" y2="288.00" stroke="#4a6a30" stroke-width="0.9" opacity="0.6"/>
<line x1="469.09" y1="280.90" x2="463.90" y2="283.90" stroke="#4a6a30" stroke-width="0.9" opacity="0.6"/>
<line x1="469.09" y1="278.70" x2="463.90" y2="275.70" stroke="#4a6a30" stroke-width="0.9" opacity="0.6"/>
<line x1="471.00" y1="277.60" x2="471.00" y2="271.60" stroke="#4a6a30" stroke-width="0.9" opacity="0.6"/>
<line x1="472.91" y1="278.70" x2="478.10" y2="275.70" stroke="#4a6a30" stroke-width="0.9" opacity="0.6"/>
<circle cx="471" cy="279.8" r="8.3" fill="none" stroke="#3a6a40" stroke-width="0.7" opacity="0.6"/>
<circle cx="422.5" cy="296.3" r="8.6" fill="url(#tvy)"/>
<line x1="424.41" y1="297.40" x2="429.60" y2="300.40" stroke="#4a6a30" stroke-width="0.9" opacity="0.6"/>
<line x1="422.50" y1="298.50" x2="422.50" y2="304.50" stroke="#4a6a30" stroke-width="0.9" opacity="0.6"/>
<line x1="420.59" y1="297.40" x2="415.40" y2="300.40" stroke="#4a6a30" stroke-width="0.9" opacity="0.6"/>
<line x1="420.59" y1="295.20" x2="415.40" y2="292.20" stroke="#4a6a30" stroke-width="0.9" opacity="0.6"/>
<line x1="422.50" y1="294.10" x2="422.50" y2="288.10" stroke="#4a6a30" stroke-width="0.9" opacity="0.6"/>
<line x1="424.41" y1="295.20" x2="429.60" y2="292.20" stroke="#4a6a30" stroke-width="0.9" opacity="0.6"/>
<circle cx="422.5" cy="296.3" r="8.3" fill="none" stroke="#3a6a40" stroke-width="0.7" opacity="0.6"/>
<circle cx="441.9" cy="296.3" r="8.6" fill="url(#tvy)"/>
<line x1="443.81" y1="297.40" x2="449.00" y2="300.40" stroke="#4a6a30" stroke-width="0.9" opacity="0.6"/>
<line x1="441.90" y1="298.50" x2="441.90" y2="304.50" stroke="#4a6a30" stroke-width="0.9" opacity="0.6"/>
<line x1="439.99" y1="297.40" x2="434.80" y2="300.40" stroke="#4a6a30" stroke-width="0.9" opacity="0.6"/>
<line x1="439.99" y1="295.20" x2="434.80" y2="292.20" stroke="#4a6a30" stroke-width="0.9" opacity="0.6"/>
<line x1="441.90" y1="294.10" x2="441.90" y2="288.10" stroke="#4a6a30" stroke-width="0.9" opacity="0.6"/>
<line x1="443.81" y1="295.20" x2="449.00" y2="292.20" stroke="#4a6a30" stroke-width="0.9" opacity="0.6"/>
<circle cx="441.9" cy="296.3" r="8.3" fill="none" stroke="#3a6a40" stroke-width="0.7" opacity="0.6"/>
<circle cx="462.2" cy="296.3" r="8.6" fill="url(#tvy)"/>
<line x1="464.11" y1="297.40" x2="469.30" y2="300.40" stroke="#4a6a30" stroke-width="0.9" opacity="0.6"/>
<line x1="462.20" y1="298.50" x2="462.20" y2="304.50" stroke="#4a6a30" stroke-width="0.9" opacity="0.6"/>
<line x1="460.29" y1="297.40" x2="455.10" y2="300.40" stroke="#4a6a30" stroke-width="0.9" opacity="0.6"/>
<line x1="460.29" y1="295.20" x2="455.10" y2="292.20" stroke="#4a6a30" stroke-width="0.9" opacity="0.6"/>
<line x1="462.20" y1="294.10" x2="462.20" y2="288.10" stroke="#4a6a30" stroke-width="0.9" opacity="0.6"/>
<line x1="464.11" y1="295.20" x2="469.30" y2="292.20" stroke="#4a6a30" stroke-width="0.9" opacity="0.6"/>
<circle cx="462.2" cy="296.3" r="8.3" fill="none" stroke="#3a6a40" stroke-width="0.7" opacity="0.6"/>
<circle cx="423" cy="263.5" r="8.6" fill="url(#tvy)"/>
<line x1="424.91" y1="264.60" x2="430.10" y2="267.60" stroke="#4a6a30" stroke-width="0.9" opacity="0.6"/>
<line x1="423.00" y1="265.70" x2="423.00" y2="271.70" stroke="#4a6a30" stroke-width="0.9" opacity="0.6"/>
<line x1="421.09" y1="264.60" x2="415.90" y2="267.60" stroke="#4a6a30" stroke-width="0.9" opacity="0.6"/>
<line x1="421.09" y1="262.40" x2="415.90" y2="259.40" stroke="#4a6a30" stroke-width="0.9" opacity="0.6"/>
<line x1="423.00" y1="261.30" x2="423.00" y2="255.30" stroke="#4a6a30" stroke-width="0.9" opacity="0.6"/>
<line x1="424.91" y1="262.40" x2="430.10" y2="259.40" stroke="#4a6a30" stroke-width="0.9" opacity="0.6"/>
<circle cx="423" cy="263.5" r="8.3" fill="none" stroke="#3a6a40" stroke-width="0.7" opacity="0.6"/>
<circle cx="442" cy="263.5" r="8.6" fill="url(#tvy)"/>
<line x1="443.91" y1="264.60" x2="449.10" y2="267.60" stroke="#4a6a30" stroke-width="0.9" opacity="0.6"/>
<line x1="442.00" y1="265.70" x2="442.00" y2="271.70" stroke="#4a6a30" stroke-width="0.9" opacity="0.6"/>
<line x1="440.09" y1="264.60" x2="434.90" y2="267.60" stroke="#4a6a30" stroke-width="0.9" opacity="0.6"/>
<line x1="440.09" y1="262.40" x2="434.90" y2="259.40" stroke="#4a6a30" stroke-width="0.9" opacity="0.6"/>
<line x1="442.00" y1="261.30" x2="442.00" y2="255.30" stroke="#4a6a30" stroke-width="0.9" opacity="0.6"/>
<line x1="443.91" y1="262.40" x2="449.10" y2="259.40" stroke="#4a6a30" stroke-width="0.9" opacity="0.6"/>
<circle cx="442" cy="263.5" r="8.3" fill="none" stroke="#3a6a40" stroke-width="0.7" opacity="0.6"/>
<circle cx="461" cy="263.5" r="8.6" fill="url(#tvy)"/>
<line x1="462.91" y1="264.60" x2="468.10" y2="267.60" stroke="#4a6a30" stroke-width="0.9" opacity="0.6"/>
<line x1="461.00" y1="265.70" x2="461.00" y2="271.70" stroke="#4a6a30" stroke-width="0.9" opacity="0.6"/>
<line x1="459.09" y1="264.60" x2="453.90" y2="267.60" stroke="#4a6a30" stroke-width="0.9" opacity="0.6"/>
<line x1="459.09" y1="262.40" x2="453.90" y2="259.40" stroke="#4a6a30" stroke-width="0.9" opacity="0.6"/>
<line x1="461.00" y1="261.30" x2="461.00" y2="255.30" stroke="#4a6a30" stroke-width="0.9" opacity="0.6"/>
<line x1="462.91" y1="262.40" x2="468.10" y2="259.40" stroke="#4a6a30" stroke-width="0.9" opacity="0.6"/>
<circle cx="461" cy="263.5" r="8.3" fill="none" stroke="#3a6a40" stroke-width="0.7" opacity="0.6"/>
<circle cx="423.50" cy="270.50" r="1.90" fill="#3a70c0" />
<circle cx="423.50" cy="270.50" r="0.90" fill="#70a0e0" />
<circle cx="442.50" cy="270.50" r="1.90" fill="#3a70c0" />
<circle cx="442.50" cy="270.50" r="0.90" fill="#70a0e0" />
<circle cx="432.50" cy="287.50" r="1.90" fill="#3a70c0" />
<circle cx="432.50" cy="287.50" r="0.90" fill="#70a0e0" />
<circle cx="452.50" cy="287.50" r="1.90" fill="#3a70c0" />
<circle cx="452.50" cy="287.50" r="0.90" fill="#70a0e0" />
<circle cx="471.00" cy="287.50" r="1.90" fill="#3a70c0" />
<circle cx="471.00" cy="287.50" r="0.90" fill="#70a0e0" />
<circle cx="424.00" cy="304.00" r="1.90" fill="#3a70c0" />
<circle cx="424.00" cy="304.00" r="0.90" fill="#70a0e0" />
<circle cx="443.00" cy="304.00" r="1.90" fill="#3a70c0" />
<circle cx="443.00" cy="304.00" r="0.90" fill="#70a0e0" />
<circle cx="462.00" cy="304.00" r="1.90" fill="#3a70c0" />
<circle cx="462.00" cy="304.00" r="0.90" fill="#70a0e0" />
</g>
<line x1="422.00" y1="286.00" x2="426.11" y2="287.10" stroke="#2a88c0" stroke-width="1.7" stroke-linecap="round"/>
<line x1="422.00" y1="286.00" x2="423.10" y2="290.11" stroke="#2a88c0" stroke-width="1.7" stroke-linecap="round"/>
<line x1="422.00" y1="286.00" x2="418.99" y2="289.01" stroke="#2a88c0" stroke-width="1.7" stroke-linecap="round"/>
<line x1="422.00" y1="286.00" x2="417.89" y2="284.90" stroke="#2a88c0" stroke-width="1.7" stroke-linecap="round"/>
<line x1="422.00" y1="286.00" x2="420.90" y2="281.89" stroke="#2a88c0" stroke-width="1.7" stroke-linecap="round"/>
<line x1="422.00" y1="286.00" x2="425.01" y2="282.99" stroke="#2a88c0" stroke-width="1.7" stroke-linecap="round"/>
<circle cx="422.00" cy="286.00" r="1.70" fill="#2a88c0" />
<line x1="432.50" y1="304.00" x2="436.61" y2="305.10" stroke="#2a88c0" stroke-width="1.7" stroke-linecap="round"/>
<line x1="432.50" y1="304.00" x2="433.60" y2="308.11" stroke="#2a88c0" stroke-width="1.7" stroke-linecap="round"/>
<line x1="432.50" y1="304.00" x2="429.49" y2="307.01" stroke="#2a88c0" stroke-width="1.7" stroke-linecap="round"/>
<line x1="432.50" y1="304.00" x2="428.39" y2="302.90" stroke="#2a88c0" stroke-width="1.7" stroke-linecap="round"/>
<line x1="432.50" y1="304.00" x2="431.40" y2="299.89" stroke="#2a88c0" stroke-width="1.7" stroke-linecap="round"/>
<line x1="432.50" y1="304.00" x2="435.51" y2="300.99" stroke="#2a88c0" stroke-width="1.7" stroke-linecap="round"/>
<circle cx="432.50" cy="304.00" r="1.70" fill="#2a88c0" />
<line x1="453.00" y1="304.00" x2="457.11" y2="305.10" stroke="#2a88c0" stroke-width="1.7" stroke-linecap="round"/>
<line x1="453.00" y1="304.00" x2="454.10" y2="308.11" stroke="#2a88c0" stroke-width="1.7" stroke-linecap="round"/>
<line x1="453.00" y1="304.00" x2="449.99" y2="307.01" stroke="#2a88c0" stroke-width="1.7" stroke-linecap="round"/>
<line x1="453.00" y1="304.00" x2="448.89" y2="302.90" stroke="#2a88c0" stroke-width="1.7" stroke-linecap="round"/>
<line x1="453.00" y1="304.00" x2="451.90" y2="299.89" stroke="#2a88c0" stroke-width="1.7" stroke-linecap="round"/>
<line x1="453.00" y1="304.00" x2="456.01" y2="300.99" stroke="#2a88c0" stroke-width="1.7" stroke-linecap="round"/>
<circle cx="453.00" cy="304.00" r="1.70" fill="#2a88c0" />
<text x="410.40" y="317.30" font-size="5.5" fill="#3ce43c" text-anchor="start" font-weight="bold" font-family='"Liberation Sans", sans-serif' >Ti 3C 2 (N 0.25O 0.25F 0.25S 0.25)</text>
<g clip-path="url(#clip2)">
<rect x="410.7" y="318.3" width="60.7" height="38.0" fill="#3a9498"/>
<circle cx="422.2" cy="325.2" r="8.6" fill="url(#tvo)"/>
<line x1="424.11" y1="326.30" x2="429.30" y2="329.30" stroke="#4a6a30" stroke-width="0.9" opacity="0.6"/>
<line x1="422.20" y1="327.40" x2="422.20" y2="333.40" stroke="#4a6a30" stroke-width="0.9" opacity="0.6"/>
<line x1="420.29" y1="326.30" x2="415.10" y2="329.30" stroke="#4a6a30" stroke-width="0.9" opacity="0.6"/>
<line x1="420.29" y1="324.10" x2="415.10" y2="321.10" stroke="#4a6a30" stroke-width="0.9" opacity="0.6"/>
<line x1="422.20" y1="323.00" x2="422.20" y2="317.00" stroke="#4a6a30" stroke-width="0.9" opacity="0.6"/>
<line x1="424.11" y1="324.10" x2="429.30" y2="321.10" stroke="#4a6a30" stroke-width="0.9" opacity="0.6"/>
<circle cx="422.2" cy="325.2" r="8.3" fill="none" stroke="#3a6a40" stroke-width="0.7" opacity="0.6"/>
<circle cx="441.9" cy="325.2" r="8.6" fill="url(#tvg)"/>
<line x1="443.81" y1="326.30" x2="449.00" y2="329.30" stroke="#4a6a30" stroke-width="0.9" opacity="0.6"/>
<line x1="441.90" y1="327.40" x2="441.90" y2="333.40" stroke="#4a6a30" stroke-width="0.9" opacity="0.6"/>
<line x1="439.99" y1="326.30" x2="434.80" y2="329.30" stroke="#4a6a30" stroke-width="0.9" opacity="0.6"/>
<line x1="439.99" y1="324.10" x2="434.80" y2="321.10" stroke="#4a6a30" stroke-width="0.9" opacity="0.6"/>
<line x1="441.90" y1="323.00" x2="441.90" y2="317.00" stroke="#4a6a30" stroke-width="0.9" opacity="0.6"/>
<line x1="443.81" y1="324.10" x2="449.00" y2="321.10" stroke="#4a6a30" stroke-width="0.9" opacity="0.6"/>
<circle cx="441.9" cy="325.2" r="8.3" fill="none" stroke="#3a6a40" stroke-width="0.7" opacity="0.6"/>
<circle cx="461.5" cy="325.2" r="8.6" fill="url(#tvg)"/>
<line x1="463.41" y1="326.30" x2="468.60" y2="329.30" stroke="#4a6a30" stroke-width="0.9" opacity="0.6"/>
<line x1="461.50" y1="327.40" x2="461.50" y2="333.40" stroke="#4a6a30" stroke-width="0.9" opacity="0.6"/>
<line x1="459.59" y1="326.30" x2="454.40" y2="329.30" stroke="#4a6a30" stroke-width="0.9" opacity="0.6"/>
<line x1="459.59" y1="324.10" x2="454.40" y2="321.10" stroke="#4a6a30" stroke-width="0.9" opacity="0.6"/>
<line x1="461.50" y1="323.00" x2="461.50" y2="317.00" stroke="#4a6a30" stroke-width="0.9" opacity="0.6"/>
<line x1="463.41" y1="324.10" x2="468.60" y2="321.10" stroke="#4a6a30" stroke-width="0.9" opacity="0.6"/>
<circle cx="461.5" cy="325.2" r="8.3" fill="none" stroke="#3a6a40" stroke-width="0.7" opacity="0.6"/>
<circle cx="412.5" cy="341.7" r="8.6" fill="url(#tvg)"/>
<line x1="414.41" y1="342.80" x2="419.60" y2="345.80" stroke="#4a6a30" stroke-width="0.9" opacity="0.6"/>
<line x1="412.50" y1="343.90" x2="412.50" y2="349.90" stroke="#4a6a30" stroke-width="0.9" opacity="0.6"/>
<line x1="410.59" y1="342.80" x2="405.40" y2="345.80" stroke="#4a6a30" stroke-width="0.9" opacity="0.6"/>
<line x1="410.59" y1="340.60" x2="405.40" y2="337.60" stroke="#4a6a30" stroke-width="0.9" opacity="0.6"/>
<line x1="412.50" y1="339.50" x2="412.50" y2="333.50" stroke="#4a6a30" stroke-width="0.9" opacity="0.6"/>
<line x1="414.41" y1="340.60" x2="419.60" y2="337.60" stroke="#4a6a30" stroke-width="0.9" opacity="0.6"/>
<circle cx="412.5" cy="341.7" r="8.3" fill="none" stroke="#3a6a40" stroke-width="0.7" opacity="0.6"/>
<circle cx="431.7" cy="341.7" r="8.6" fill="url(#tvo)"/>
<line x1="433.61" y1="342.80" x2="438.80" y2="345.80" stroke="#4a6a30" stroke-width="0.9" opacity="0.6"/>
<line x1="431.70" y1="343.90" x2="431.70" y2="349.90" stroke="#4a6a30" stroke-width="0.9" opacity="0.6"/>
<line x1="429.79" y1="342.80" x2="424.60" y2="345.80" stroke="#4a6a30" stroke-width="0.9" opacity="0.6"/>
<line x1="429.79" y1="340.60" x2="424.60" y2="337.60" stroke="#4a6a30" stroke-width="0.9" opacity="0.6"/>
<line x1="431.70" y1="339.50" x2="431.70" y2="333.50" stroke="#4a6a30" stroke-width="0.9" opacity="0.6"/>
<line x1="433.61" y1="340.60" x2="438.80" y2="337.60" stroke="#4a6a30" stroke-width="0.9" opacity="0.6"/>
<circle cx="431.7" cy="341.7" r="8.3" fill="none" stroke="#3a6a40" stroke-width="0.7" opacity="0.6"/>
<circle cx="452" cy="341.7" r="8.6" fill="url(#tvg)"/>
<line x1="453.91" y1="342.80" x2="459.10" y2="345.80" stroke="#4a6a30" stroke-width="0.9" opacity="0.6"/>
<line x1="452.00" y1="343.90" x2="452.00" y2="349.90" stroke="#4a6a30" stroke-width="0.9" opacity="0.6"/>
<line x1="450.09" y1="342.80" x2="444.90" y2="345.80" stroke="#4a6a30" stroke-width="0.9" opacity="0.6"/>
<line x1="450.09" y1="340.60" x2="444.90" y2="337.60" stroke="#4a6a30" stroke-width="0.9" opacity="0.6"/>
<line x1="452.00" y1="339.50" x2="452.00" y2="333.50" stroke="#4a6a30" stroke-width="0.9" opacity="0.6"/>
<line x1="453.91" y1="340.60" x2="459.10" y2="337.60" stroke="#4a6a30" stroke-width="0.9" opacity="0.6"/>
<circle cx="452" cy="341.7" r="8.3" fill="none" stroke="#3a6a40" stroke-width="0.7" opacity="0.6"/>
<circle cx="471.5" cy="341.7" r="8.6" fill="url(#tvg)"/>
<line x1="473.41" y1="342.80" x2="478.60" y2="345.80" stroke="#4a6a30" stroke-width="0.9" opacity="0.6"/>
<line x1="471.50" y1="343.90" x2="471.50" y2="349.90" stroke="#4a6a30" stroke-width="0.9" opacity="0.6"/>
<line x1="469.59" y1="342.80" x2="464.40" y2="345.80" stroke="#4a6a30" stroke-width="0.9" opacity="0.6"/>
<line x1="469.59" y1="340.60" x2="464.40" y2="337.60" stroke="#4a6a30" stroke-width="0.9" opacity="0.6"/>
<line x1="471.50" y1="339.50" x2="471.50" y2="333.50" stroke="#4a6a30" stroke-width="0.9" opacity="0.6"/>
<line x1="473.41" y1="340.60" x2="478.60" y2="337.60" stroke="#4a6a30" stroke-width="0.9" opacity="0.6"/>
<circle cx="471.5" cy="341.7" r="8.3" fill="none" stroke="#3a6a40" stroke-width="0.7" opacity="0.6"/>
<circle cx="426" cy="359" r="8.6" fill="url(#tvg)"/>
<line x1="427.91" y1="360.10" x2="433.10" y2="363.10" stroke="#4a6a30" stroke-width="0.9" opacity="0.6"/>
<line x1="426.00" y1="361.20" x2="426.00" y2="367.20" stroke="#4a6a30" stroke-width="0.9" opacity="0.6"/>
<line x1="424.09" y1="360.10" x2="418.90" y2="363.10" stroke="#4a6a30" stroke-width="0.9" opacity="0.6"/>
<line x1="424.09" y1="357.90" x2="418.90" y2="354.90" stroke="#4a6a30" stroke-width="0.9" opacity="0.6"/>
<line x1="426.00" y1="356.80" x2="426.00" y2="350.80" stroke="#4a6a30" stroke-width="0.9" opacity="0.6"/>
<line x1="427.91" y1="357.90" x2="433.10" y2="354.90" stroke="#4a6a30" stroke-width="0.9" opacity="0.6"/>
<circle cx="426" cy="359" r="8.3" fill="none" stroke="#3a6a40" stroke-width="0.7" opacity="0.6"/>
<circle cx="446" cy="359" r="8.6" fill="url(#tvg)"/>
<line x1="447.91" y1="360.10" x2="453.10" y2="363.10" stroke="#4a6a30" stroke-width="0.9" opacity="0.6"/>
<line x1="446.00" y1="361.20" x2="446.00" y2="367.20" stroke="#4a6a30" stroke-width="0.9" opacity="0.6"/>
<line x1="444.09" y1="360.10" x2="438.90" y2="363.10" stroke="#4a6a30" stroke-width="0.9" opacity="0.6"/>
<line x1="444.09" y1="357.90" x2="438.90" y2="354.90" stroke="#4a6a30" stroke-width="0.9" opacity="0.6"/>
<line x1="446.00" y1="356.80" x2="446.00" y2="350.80" stroke="#4a6a30" stroke-width="0.9" opacity="0.6"/>
<line x1="447.91" y1="357.90" x2="453.10" y2="354.90" stroke="#4a6a30" stroke-width="0.9" opacity="0.6"/>
<circle cx="446" cy="359" r="8.3" fill="none" stroke="#3a6a40" stroke-width="0.7" opacity="0.6"/>
<circle cx="466" cy="359" r="8.6" fill="url(#tvg)"/>
<line x1="467.91" y1="360.10" x2="473.10" y2="363.10" stroke="#4a6a30" stroke-width="0.9" opacity="0.6"/>
<line x1="466.00" y1="361.20" x2="466.00" y2="367.20" stroke="#4a6a30" stroke-width="0.9" opacity="0.6"/>
<line x1="464.09" y1="360.10" x2="458.90" y2="363.10" stroke="#4a6a30" stroke-width="0.9" opacity="0.6"/>
<line x1="464.09" y1="357.90" x2="458.90" y2="354.90" stroke="#4a6a30" stroke-width="0.9" opacity="0.6"/>
<line x1="466.00" y1="356.80" x2="466.00" y2="350.80" stroke="#4a6a30" stroke-width="0.9" opacity="0.6"/>
<line x1="467.91" y1="357.90" x2="473.10" y2="354.90" stroke="#4a6a30" stroke-width="0.9" opacity="0.6"/>
<circle cx="466" cy="359" r="8.3" fill="none" stroke="#3a6a40" stroke-width="0.7" opacity="0.6"/>
<circle cx="432.00" cy="332.50" r="1.90" fill="#3a70c0" />
<circle cx="432.00" cy="332.50" r="0.90" fill="#70a0e0" />
<circle cx="451.50" cy="332.50" r="1.90" fill="#3a70c0" />
<circle cx="451.50" cy="332.50" r="0.90" fill="#70a0e0" />
<circle cx="441.50" cy="350.00" r="1.90" fill="#3a70c0" />
<circle cx="441.50" cy="350.00" r="0.90" fill="#70a0e0" />
<circle cx="461.50" cy="350.00" r="1.90" fill="#3a70c0" />
<circle cx="461.50" cy="350.00" r="0.90" fill="#70a0e0" />
<circle cx="422.00" cy="350.00" r="1.90" fill="#3a70c0" />
<circle cx="422.00" cy="350.00" r="0.90" fill="#70a0e0" />
<circle cx="432.00" cy="317.00" r="1.90" fill="#3a70c0" />
<circle cx="432.00" cy="317.00" r="0.90" fill="#70a0e0" />
<circle cx="451.50" cy="317.00" r="1.90" fill="#3a70c0" />
<circle cx="451.50" cy="317.00" r="0.90" fill="#70a0e0" />
</g>
<line x1="420.50" y1="337.50" x2="424.61" y2="338.60" stroke="#801818" stroke-width="1.7" stroke-linecap="round"/>
<line x1="420.50" y1="337.50" x2="421.60" y2="341.61" stroke="#801818" stroke-width="1.7" stroke-linecap="round"/>
<line x1="420.50" y1="337.50" x2="417.49" y2="340.51" stroke="#801818" stroke-width="1.7" stroke-linecap="round"/>
<line x1="420.50" y1="337.50" x2="416.39" y2="336.40" stroke="#801818" stroke-width="1.7" stroke-linecap="round"/>
<line x1="420.50" y1="337.50" x2="419.40" y2="333.39" stroke="#801818" stroke-width="1.7" stroke-linecap="round"/>
<line x1="420.50" y1="337.50" x2="423.51" y2="334.49" stroke="#801818" stroke-width="1.7" stroke-linecap="round"/>
<circle cx="420.50" cy="337.50" r="1.70" fill="#801818" />
<line x1="432.00" y1="356.00" x2="436.11" y2="357.10" stroke="#3040b0" stroke-width="1.7" stroke-linecap="round"/>
<line x1="432.00" y1="356.00" x2="433.10" y2="360.11" stroke="#3040b0" stroke-width="1.7" stroke-linecap="round"/>
<line x1="432.00" y1="356.00" x2="428.99" y2="359.01" stroke="#3040b0" stroke-width="1.7" stroke-linecap="round"/>
<line x1="432.00" y1="356.00" x2="427.89" y2="354.90" stroke="#3040b0" stroke-width="1.7" stroke-linecap="round"/>
<line x1="432.00" y1="356.00" x2="430.90" y2="351.89" stroke="#3040b0" stroke-width="1.7" stroke-linecap="round"/>
<line x1="432.00" y1="356.00" x2="435.01" y2="352.99" stroke="#3040b0" stroke-width="1.7" stroke-linecap="round"/>
<circle cx="432.00" cy="356.00" r="1.70" fill="#3040b0" />
<line x1="452.00" y1="357.00" x2="456.11" y2="358.10" stroke="#3a98b0" stroke-width="1.7" stroke-linecap="round"/>
<line x1="452.00" y1="357.00" x2="453.10" y2="361.11" stroke="#3a98b0" stroke-width="1.7" stroke-linecap="round"/>
<line x1="452.00" y1="357.00" x2="448.99" y2="360.01" stroke="#3a98b0" stroke-width="1.7" stroke-linecap="round"/>
<line x1="452.00" y1="357.00" x2="447.89" y2="355.90" stroke="#3a98b0" stroke-width="1.7" stroke-linecap="round"/>
<line x1="452.00" y1="357.00" x2="450.90" y2="352.89" stroke="#3a98b0" stroke-width="1.7" stroke-linecap="round"/>
<line x1="452.00" y1="357.00" x2="455.01" y2="353.99" stroke="#3a98b0" stroke-width="1.7" stroke-linecap="round"/>
<circle cx="452.00" cy="357.00" r="1.70" fill="#3a98b0" />
<rect x="406.20" y="328.50" width="1.50" height="26.80" fill="url(#jet)" />
<text x="408.40" y="331.60" font-size="5.3" fill="#333" text-anchor="start" font-weight="normal" font-family='"Liberation Sans", sans-serif' >0.6</text>
<text x="408.40" y="357.50" font-size="5.3" fill="#333" text-anchor="start" font-weight="normal" font-family='"Liberation Sans", sans-serif' >0.1</text>
<g clip-path="url(#sclip1)">
<rect x="476.60" y="267.30" width="32.40" height="40.30" fill="#ffffff" />
<path d="M475.6,267.3 L510.0,267.3 L510.0,276.3 C505.1,276.3 503.5,278.3 500.3,275.8 C496.7,273.3 494.4,279.3 492.8,278.3 C491.2,277.3 488.9,273.3 485.3,275.8 C482.1,278.3 479.8,276.3 475.6,276.3 Z" fill="#38a8a0"/>
<ellipse cx="485.3" cy="270.9" rx="6.5" ry="3.4" fill="#c4e034"/>
<ellipse cx="485.3" cy="269.9" rx="3.9" ry="1.6" fill="#eef060"/>
<ellipse cx="500.3" cy="270.9" rx="6.5" ry="3.4" fill="#c4e034"/>
<ellipse cx="500.3" cy="269.9" rx="3.9" ry="1.6" fill="#eef060"/>
<path d="M475.6,307.6 L510.0,307.6 L510.0,298.6 C505.1,298.6 503.5,296.6 500.3,299.1 C496.7,301.6 494.4,295.6 492.8,296.6 C491.2,297.6 488.9,301.6 485.3,299.1 C482.1,296.6 479.8,298.6 475.6,298.6 Z" fill="#38a8a0"/>
<ellipse cx="485.3" cy="304.0" rx="6.5" ry="3.4" fill="#c4e034"/>
<ellipse cx="485.3" cy="305.0" rx="3.9" ry="1.6" fill="#eef060"/>
<ellipse cx="500.3" cy="304.0" rx="6.5" ry="3.4" fill="#c4e034"/>
<ellipse cx="500.3" cy="305.0" rx="3.9" ry="1.6" fill="#eef060"/>
<path d="M475.6,285.45 C484.7,281.4 489.6,289.4 494.4,285.4 C499.3,281.4 504.1,288.4 510.0,285.4 L510.0,289.4 C504.1,292.4 499.3,286.4 494.4,290.4 C489.6,293.4 484.7,286.4 475.6,290.45 Z" fill="#3cb090"/>
<ellipse cx="486.3" cy="286.9" rx="3.2" ry="1.4" fill="#70d040"/>
<ellipse cx="502.5" cy="286.9" rx="3.2" ry="1.4" fill="#70d040"/>
<line x1="481.78" y1="274.15" x2="499.28" y2="301.56" stroke="#6a7078" stroke-width="1.8" />
<line x1="494.74" y1="274.15" x2="510.62" y2="298.73" stroke="#6a7078" stroke-width="1.8" />
<line x1="473.36" y1="287.45" x2="487.94" y2="301.56" stroke="#6a7078" stroke-width="1.8" />
<circle cx="481.78" cy="274.15" r="1.90" fill="#2a80c8" />
<circle cx="486.16" cy="281.00" r="1.90" fill="url(#grayat)" />
<circle cx="490.53" cy="287.85" r="1.90" fill="url(#grayat)" />
<circle cx="494.91" cy="294.70" r="1.90" fill="url(#grayat)" />
<circle cx="499.28" cy="301.56" r="1.90" fill="#2a80c8" />
<circle cx="494.74" cy="274.15" r="1.90" fill="#2a80c8" />
<circle cx="498.71" cy="280.30" r="1.90" fill="url(#grayat)" />
<circle cx="502.68" cy="286.44" r="1.90" fill="url(#grayat)" />
<circle cx="506.65" cy="292.59" r="1.90" fill="url(#grayat)" />
<circle cx="510.62" cy="298.73" r="1.90" fill="#2a80c8" />
<circle cx="473.36" cy="287.45" r="1.90" fill="#2a80c8" />
<circle cx="477.00" cy="290.98" r="1.90" fill="url(#grayat)" />
<circle cx="480.65" cy="294.50" r="1.90" fill="url(#grayat)" />
<circle cx="484.30" cy="298.03" r="1.90" fill="url(#grayat)" />
<circle cx="487.94" cy="301.56" r="1.90" fill="#2a80c8" />
</g>
<rect x="476.6" y="267.3" width="32.4" height="40.3" fill="none" stroke="#d8d8d8" stroke-width="0.4"/>
<line x1="474.60" y1="288.40" x2="478.46" y2="289.44" stroke="#2a88c0" stroke-width="1.6" stroke-linecap="round"/>
<line x1="474.60" y1="288.40" x2="475.64" y2="292.26" stroke="#2a88c0" stroke-width="1.6" stroke-linecap="round"/>
<line x1="474.60" y1="288.40" x2="471.77" y2="291.23" stroke="#2a88c0" stroke-width="1.6" stroke-linecap="round"/>
<line x1="474.60" y1="288.40" x2="470.74" y2="287.36" stroke="#2a88c0" stroke-width="1.6" stroke-linecap="round"/>
<line x1="474.60" y1="288.40" x2="473.56" y2="284.54" stroke="#2a88c0" stroke-width="1.6" stroke-linecap="round"/>
<line x1="474.60" y1="288.40" x2="477.43" y2="285.57" stroke="#2a88c0" stroke-width="1.6" stroke-linecap="round"/>
<circle cx="474.60" cy="288.40" r="1.60" fill="#2a88c0" />
<g clip-path="url(#sclip2)">
<rect x="476.60" y="319.60" width="32.40" height="41.00" fill="#ffffff" />
<path d="M475.6,319.6 L510.0,319.6 L510.0,328.6 C505.1,328.6 503.5,330.6 500.3,328.1 C496.7,325.6 494.4,331.6 492.8,330.6 C491.2,329.6 488.9,325.6 485.3,328.1 C482.1,330.6 479.8,328.6 475.6,328.6 Z" fill="#38a8a0"/>
<ellipse cx="485.3" cy="323.2" rx="6.5" ry="3.4" fill="#c4e034"/>
<ellipse cx="485.3" cy="322.2" rx="3.9" ry="1.6" fill="#eef060"/>
<ellipse cx="500.3" cy="323.2" rx="6.5" ry="3.4" fill="#c4e034"/>
<ellipse cx="500.3" cy="322.2" rx="3.9" ry="1.6" fill="#eef060"/>
<path d="M475.6,360.6 L510.0,360.6 L510.0,351.6 C505.1,351.6 503.5,349.6 500.3,352.1 C496.7,354.6 494.4,348.6 492.8,349.6 C491.2,350.6 488.9,354.6 485.3,352.1 C482.1,349.6 479.8,351.6 475.6,351.6 Z" fill="#38a8a0"/>
<ellipse cx="485.3" cy="357.0" rx="6.5" ry="3.4" fill="#c4e034"/>
<ellipse cx="485.3" cy="358.0" rx="3.9" ry="1.6" fill="#eef060"/>
<ellipse cx="500.3" cy="357.0" rx="6.5" ry="3.4" fill="#c4e034"/>
<ellipse cx="500.3" cy="358.0" rx="3.9" ry="1.6" fill="#eef060"/>
<ellipse cx="478.5" cy="337.6" rx="2.6" ry="1.8" fill="#40b0b0"/>
<ellipse cx="507.1" cy="337.6" rx="2.6" ry="1.8" fill="#40b0b0"/>
<ellipse cx="492.8" cy="331.9" rx="2.6" ry="1.8" fill="#40b0b0"/>
<ellipse cx="492.8" cy="349.1" rx="2.6" ry="1.8" fill="#40b0b0"/>
<line x1="481.78" y1="327.39" x2="503.82" y2="352.81" stroke="#6a7078" stroke-width="1.8" />
<line x1="497.98" y1="327.39" x2="487.62" y2="352.81" stroke="#6a7078" stroke-width="1.8" />
<circle cx="481.78" cy="327.39" r="1.90" fill="#8a1010" />
<circle cx="487.29" cy="333.75" r="1.90" fill="url(#grayat)" />
<circle cx="492.80" cy="340.10" r="2.10" fill="#8a1010" />
<circle cx="498.31" cy="346.46" r="1.90" fill="url(#grayat)" />
<circle cx="503.82" cy="352.81" r="1.90" fill="#3a48c0" />
<circle cx="497.98" cy="327.39" r="1.90" fill="#3a48c0" />
<circle cx="495.39" cy="333.75" r="1.90" fill="url(#grayat)" />
<circle cx="492.80" cy="340.10" r="1.90" fill="url(#grayat)" />
<circle cx="490.21" cy="346.46" r="1.90" fill="url(#grayat)" />
<circle cx="487.62" cy="352.81" r="1.90" fill="#8a1010" />
<line x1="509.50" y1="340.10" x2="512.40" y2="340.88" stroke="#3a48c0" stroke-width="1.2" stroke-linecap="round"/>
<line x1="509.50" y1="340.10" x2="510.28" y2="343.00" stroke="#3a48c0" stroke-width="1.2" stroke-linecap="round"/>
<line x1="509.50" y1="340.10" x2="507.38" y2="342.22" stroke="#3a48c0" stroke-width="1.2" stroke-linecap="round"/>
<line x1="509.50" y1="340.10" x2="506.60" y2="339.32" stroke="#3a48c0" stroke-width="1.2" stroke-linecap="round"/>
<line x1="509.50" y1="340.10" x2="508.72" y2="337.20" stroke="#3a48c0" stroke-width="1.2" stroke-linecap="round"/>
<line x1="509.50" y1="340.10" x2="511.62" y2="337.98" stroke="#3a48c0" stroke-width="1.2" stroke-linecap="round"/>
<circle cx="509.50" cy="340.10" r="1.20" fill="#3a48c0" />
</g>
<rect x="476.6" y="319.6" width="32.4" height="41.0" fill="none" stroke="#d8d8d8" stroke-width="0.4"/>
<rect x="519.30" y="259.90" width="3.20" height="107.00" fill="url(#jet)" />
<text x="524.50" y="262.00" font-size="5.6" fill="#333" text-anchor="start" font-weight="normal" font-family='"Liberation Sans", sans-serif' >1</text>
<text x="524.50" y="369.40" font-size="5.6" fill="#333" text-anchor="start" font-weight="normal" font-family='"Liberation Sans", sans-serif' >0</text>
<g clip-path="url(#mclip1)"><g filter="url(#jetf)">
<rect x="528.50" y="255.20" width="41.00" height="116.60" fill="rgb(29,29,29)" />
<rect x="528.5" y="285.0" width="41" height="58" fill="rgb(74,74,74)"/>
<rect x="528.5" y="288.5" width="41" height="51" fill="rgb(102,102,102)"/>
<rect x="532.1" y="273.3" width="1.0" height="11.7" fill="rgb(76,76,76)"/>
<circle cx="532.58" cy="273.30" r="0.90" fill="rgb(87,87,87)" />
<rect x="532.7" y="343.0" width="1.0" height="5.0" fill="rgb(76,76,76)"/>
<circle cx="533.18" cy="348.01" r="0.90" fill="rgb(87,87,87)" />
<rect x="534.7" y="280.3" width="1.0" height="4.7" fill="rgb(76,76,76)"/>
<circle cx="535.21" cy="280.32" r="0.90" fill="rgb(87,87,87)" />
<rect x="535.3" y="343.0" width="1.0" height="6.0" fill="rgb(76,76,76)"/>
<circle cx="535.81" cy="348.98" r="0.90" fill="rgb(87,87,87)" />
<rect x="537.2" y="279.3" width="1.0" height="5.7" fill="rgb(76,76,76)"/>
<circle cx="537.70" cy="279.32" r="0.90" fill="rgb(87,87,87)" />
<rect x="537.8" y="343.0" width="1.0" height="9.1" fill="rgb(76,76,76)"/>
<circle cx="538.30" cy="352.13" r="0.90" fill="rgb(87,87,87)" />
<rect x="539.0" y="277.4" width="1.0" height="7.6" fill="rgb(76,76,76)"/>
<circle cx="539.52" cy="277.37" r="0.90" fill="rgb(87,87,87)" />
<rect x="539.6" y="343.0" width="1.0" height="8.0" fill="rgb(76,76,76)"/>
<circle cx="540.12" cy="350.96" r="0.90" fill="rgb(87,87,87)" />
<rect x="541.1" y="274.4" width="1.0" height="10.6" fill="rgb(76,76,76)"/>
<circle cx="541.55" cy="274.36" r="0.90" fill="rgb(87,87,87)" />
<rect x="541.7" y="343.0" width="1.0" height="4.7" fill="rgb(76,76,76)"/>
<circle cx="542.15" cy="347.72" r="0.90" fill="rgb(87,87,87)" />
<rect x="543.3" y="280.8" width="1.0" height="4.2" fill="rgb(76,76,76)"/>
<circle cx="543.84" cy="280.84" r="0.90" fill="rgb(87,87,87)" />
<rect x="543.9" y="343.0" width="1.0" height="6.1" fill="rgb(76,76,76)"/>
<circle cx="544.44" cy="349.13" r="0.90" fill="rgb(87,87,87)" />
<rect x="545.7" y="273.8" width="1.0" height="11.2" fill="rgb(76,76,76)"/>
<circle cx="546.23" cy="273.78" r="0.90" fill="rgb(87,87,87)" />
<rect x="546.3" y="343.0" width="1.0" height="7.0" fill="rgb(76,76,76)"/>
<circle cx="546.83" cy="350.03" r="0.90" fill="rgb(87,87,87)" />
<rect x="547.7" y="278.9" width="1.0" height="6.1" fill="rgb(76,76,76)"/>
<circle cx="548.24" cy="278.93" r="0.90" fill="rgb(87,87,87)" />
<rect x="548.3" y="343.0" width="1.0" height="11.9" fill="rgb(76,76,76)"/>
<circle cx="548.84" cy="354.93" r="0.90" fill="rgb(87,87,87)" />
<rect x="550.0" y="276.0" width="1.0" height="9.0" fill="rgb(76,76,76)"/>
<circle cx="550.45" cy="276.04" r="0.90" fill="rgb(87,87,87)" />
<rect x="550.6" y="343.0" width="1.0" height="7.0" fill="rgb(76,76,76)"/>
<circle cx="551.05" cy="350.02" r="0.90" fill="rgb(87,87,87)" />
<rect x="552.7" y="278.3" width="1.0" height="6.7" fill="rgb(76,76,76)"/>
<circle cx="553.18" cy="278.29" r="0.90" fill="rgb(87,87,87)" />
<rect x="553.3" y="343.0" width="1.0" height="9.5" fill="rgb(76,76,76)"/>
<circle cx="553.78" cy="352.53" r="0.90" fill="rgb(87,87,87)" />
<rect x="554.8" y="275.8" width="1.0" height="9.2" fill="rgb(76,76,76)"/>
<circle cx="555.30" cy="275.80" r="0.90" fill="rgb(87,87,87)" />
<rect x="555.4" y="343.0" width="1.0" height="11.2" fill="rgb(76,76,76)"/>
<circle cx="555.90" cy="354.21" r="0.90" fill="rgb(87,87,87)" />
<rect x="557.1" y="279.9" width="1.0" height="5.1" fill="rgb(76,76,76)"/>
<circle cx="557.62" cy="279.86" r="0.90" fill="rgb(87,87,87)" />
<rect x="557.7" y="343.0" width="1.0" height="4.5" fill="rgb(76,76,76)"/>
<circle cx="558.22" cy="347.51" r="0.90" fill="rgb(87,87,87)" />
<rect x="559.7" y="277.1" width="1.0" height="7.9" fill="rgb(76,76,76)"/>
<circle cx="560.16" cy="277.09" r="0.90" fill="rgb(87,87,87)" />
<rect x="560.3" y="343.0" width="1.0" height="5.6" fill="rgb(76,76,76)"/>
<circle cx="560.76" cy="348.55" r="0.90" fill="rgb(87,87,87)" />
<rect x="561.9" y="276.4" width="1.0" height="8.6" fill="rgb(76,76,76)"/>
<circle cx="562.41" cy="276.37" r="0.90" fill="rgb(87,87,87)" />
<rect x="562.5" y="343.0" width="1.0" height="9.8" fill="rgb(76,76,76)"/>
<circle cx="563.01" cy="352.83" r="0.90" fill="rgb(87,87,87)" />
<rect x="564.1" y="278.7" width="1.0" height="6.3" fill="rgb(76,76,76)"/>
<circle cx="564.60" cy="278.71" r="0.90" fill="rgb(87,87,87)" />
<rect x="564.7" y="343.0" width="1.0" height="6.9" fill="rgb(76,76,76)"/>
<circle cx="565.20" cy="349.85" r="0.90" fill="rgb(87,87,87)" />
<rect x="566.4" y="279.9" width="1.0" height="5.1" fill="rgb(76,76,76)"/>
<circle cx="566.85" cy="279.92" r="0.90" fill="rgb(87,87,87)" />
<rect x="567.0" y="343.0" width="1.0" height="10.1" fill="rgb(76,76,76)"/>
<circle cx="567.45" cy="353.11" r="0.90" fill="rgb(87,87,87)" />
<circle cx="535.72" cy="277.72" r="0.70" fill="rgb(76,76,76)" />
<circle cx="555.67" cy="347.20" r="0.70" fill="rgb(76,76,76)" />
<circle cx="560.34" cy="276.23" r="0.70" fill="rgb(76,76,76)" />
<circle cx="539.02" cy="353.60" r="0.70" fill="rgb(76,76,76)" />
<circle cx="549.95" cy="276.28" r="0.70" fill="rgb(76,76,76)" />
<circle cx="534.86" cy="347.57" r="0.70" fill="rgb(76,76,76)" />
<circle cx="549.24" cy="277.81" r="0.70" fill="rgb(76,76,76)" />
<circle cx="539.76" cy="352.85" r="0.70" fill="rgb(76,76,76)" />
<circle cx="532.89" cy="274.95" r="0.70" fill="rgb(76,76,76)" />
<circle cx="541.31" cy="351.41" r="0.70" fill="rgb(76,76,76)" />
<circle cx="544.94" cy="278.87" r="0.70" fill="rgb(76,76,76)" />
<circle cx="561.92" cy="353.40" r="0.70" fill="rgb(76,76,76)" />
<circle cx="545.58" cy="273.53" r="0.70" fill="rgb(76,76,76)" />
<circle cx="554.38" cy="347.00" r="0.70" fill="rgb(76,76,76)" />
<circle cx="539.16" cy="278.33" r="0.70" fill="rgb(76,76,76)" />
<circle cx="542.40" cy="354.69" r="0.70" fill="rgb(76,76,76)" />
<circle cx="557.72" cy="274.93" r="0.70" fill="rgb(76,76,76)" />
<circle cx="538.12" cy="351.32" r="0.70" fill="rgb(76,76,76)" />
<circle cx="540.15" cy="275.48" r="0.70" fill="rgb(76,76,76)" />
<circle cx="547.22" cy="351.46" r="0.70" fill="rgb(76,76,76)" />
<path d="M534.5,298.0 C534.5,303.0 538.9,303.0 539.9,300.8 C540.9,303.0 545.3,303.0 545.3,298.0 C543.9,295.0 535.9,295.0 534.5,298.0 Z" fill="rgb(64,64,64)"/>
<path d="M534.5,330.0 C534.5,325.0 538.9,325.0 539.9,327.2 C540.9,325.0 545.3,325.0 545.3,330.0 C543.9,333.0 535.9,333.0 534.5,330.0 Z" fill="rgb(64,64,64)"/>
<path d="M552.3,298.0 C552.3,303.0 556.7,303.0 557.7,300.8 C558.7,303.0 563.1,303.0 563.1,298.0 C561.7,295.0 553.7,295.0 552.3,298.0 Z" fill="rgb(64,64,64)"/>
<path d="M552.3,330.0 C552.3,325.0 556.7,325.0 557.7,327.2 C558.7,325.0 563.1,325.0 563.1,330.0 C561.7,333.0 553.7,333.0 552.3,330.0 Z" fill="rgb(64,64,64)"/>
<polygon points="523.0,287.5 540.0,287.5 531.5,298.0" fill="rgb(135,135,135)"/>
<polygon points="523.0,340.5 540.0,340.5 531.5,330.0" fill="rgb(135,135,135)"/>
<polygon points="540.5,287.5 557.5,287.5 549.0,298.0" fill="rgb(135,135,135)"/>
<polygon points="540.5,340.5 557.5,340.5 549.0,330.0" fill="rgb(135,135,135)"/>
<polygon points="558.0,287.5 575.0,287.5 566.5,298.0" fill="rgb(135,135,135)"/>
<polygon points="558.0,340.5 575.0,340.5 566.5,330.0" fill="rgb(135,135,135)"/>
<ellipse cx="539.9" cy="307.4" rx="8.2" ry="4.6" fill="rgb(125,125,125)"/>
<ellipse cx="539.9" cy="307.8" rx="3.4" ry="2.3" fill="rgb(168,168,168)"/>
<ellipse cx="539.9" cy="320.6" rx="8.2" ry="4.6" fill="rgb(125,125,125)"/>
<ellipse cx="539.9" cy="320.2" rx="3.4" ry="2.3" fill="rgb(168,168,168)"/>
<ellipse cx="557.7" cy="307.4" rx="8.2" ry="4.6" fill="rgb(125,125,125)"/>
<ellipse cx="557.7" cy="307.8" rx="3.4" ry="2.3" fill="rgb(168,168,168)"/>
<ellipse cx="557.7" cy="320.6" rx="8.2" ry="4.6" fill="rgb(125,125,125)"/>
<ellipse cx="557.7" cy="320.2" rx="3.4" ry="2.3" fill="rgb(168,168,168)"/>
<circle cx="532.00" cy="314.00" r="6.20" fill="rgb(76,76,76)" />
<circle cx="532.00" cy="314.00" r="5.00" fill="rgb(36,36,36)" />
<circle cx="532.00" cy="314.00" r="3.40" fill="rgb(128,128,128)" />
<circle cx="532.00" cy="314.00" r="2.20" fill="rgb(184,184,184)" />
<circle cx="532.00" cy="314.00" r="1.30" fill="rgb(235,235,235)" />
<circle cx="549.00" cy="314.00" r="6.20" fill="rgb(76,76,76)" />
<circle cx="549.00" cy="314.00" r="5.00" fill="rgb(36,36,36)" />
<circle cx="549.00" cy="314.00" r="3.40" fill="rgb(128,128,128)" />
<circle cx="549.00" cy="314.00" r="2.20" fill="rgb(184,184,184)" />
<circle cx="549.00" cy="314.00" r="1.30" fill="rgb(235,235,235)" />
<circle cx="566.00" cy="314.00" r="6.20" fill="rgb(76,76,76)" />
<circle cx="566.00" cy="314.00" r="5.00" fill="rgb(36,36,36)" />
<circle cx="566.00" cy="314.00" r="3.40" fill="rgb(128,128,128)" />
<circle cx="566.00" cy="314.00" r="2.20" fill="rgb(184,184,184)" />
<circle cx="566.00" cy="314.00" r="1.30" fill="rgb(235,235,235)" />
</g></g>
<g clip-path="url(#mclip2)"><g filter="url(#jetf)">
<rect x="569.80" y="255.20" width="41.00" height="116.60" fill="rgb(29,29,29)" />
<rect x="569.8" y="285.0" width="41" height="58" fill="rgb(74,74,74)"/>
<rect x="569.8" y="288.5" width="41" height="51" fill="rgb(82,82,82)"/>
<rect x="574.0" y="280.9" width="1.0" height="4.1" fill="rgb(76,76,76)"/>
<circle cx="574.47" cy="280.91" r="0.90" fill="rgb(87,87,87)" />
<rect x="574.6" y="343.0" width="1.0" height="9.9" fill="rgb(76,76,76)"/>
<circle cx="575.07" cy="352.89" r="0.90" fill="rgb(87,87,87)" />
<rect x="575.6" y="273.1" width="1.0" height="11.9" fill="rgb(76,76,76)"/>
<circle cx="576.08" cy="273.11" r="0.90" fill="rgb(87,87,87)" />
<rect x="576.2" y="343.0" width="1.0" height="4.1" fill="rgb(76,76,76)"/>
<circle cx="576.68" cy="347.14" r="0.90" fill="rgb(87,87,87)" />
<rect x="578.4" y="275.5" width="1.0" height="9.5" fill="rgb(76,76,76)"/>
<circle cx="578.90" cy="275.55" r="0.90" fill="rgb(87,87,87)" />
<rect x="579.0" y="343.0" width="1.0" height="10.9" fill="rgb(76,76,76)"/>
<circle cx="579.50" cy="353.86" r="0.90" fill="rgb(87,87,87)" />
<rect x="580.7" y="279.1" width="1.0" height="5.9" fill="rgb(76,76,76)"/>
<circle cx="581.25" cy="279.08" r="0.90" fill="rgb(87,87,87)" />
<rect x="581.3" y="343.0" width="1.0" height="6.7" fill="rgb(76,76,76)"/>
<circle cx="581.85" cy="349.70" r="0.90" fill="rgb(87,87,87)" />
<rect x="582.8" y="278.8" width="1.0" height="6.2" fill="rgb(76,76,76)"/>
<circle cx="583.27" cy="278.76" r="0.90" fill="rgb(87,87,87)" />
<rect x="583.4" y="343.0" width="1.0" height="6.1" fill="rgb(76,76,76)"/>
<circle cx="583.87" cy="349.11" r="0.90" fill="rgb(87,87,87)" />
<rect x="584.6" y="274.1" width="1.0" height="10.9" fill="rgb(76,76,76)"/>
<circle cx="585.13" cy="274.14" r="0.90" fill="rgb(87,87,87)" />
<rect x="585.2" y="343.0" width="1.0" height="11.0" fill="rgb(76,76,76)"/>
<circle cx="585.73" cy="354.00" r="0.90" fill="rgb(87,87,87)" />
<rect x="587.3" y="279.2" width="1.0" height="5.8" fill="rgb(76,76,76)"/>
<circle cx="587.84" cy="279.21" r="0.90" fill="rgb(87,87,87)" />
<rect x="587.9" y="343.0" width="1.0" height="11.4" fill="rgb(76,76,76)"/>
<circle cx="588.44" cy="354.40" r="0.90" fill="rgb(87,87,87)" />
<rect x="589.4" y="279.1" width="1.0" height="5.9" fill="rgb(76,76,76)"/>
<circle cx="589.86" cy="279.15" r="0.90" fill="rgb(87,87,87)" />
<rect x="590.0" y="343.0" width="1.0" height="7.6" fill="rgb(76,76,76)"/>
<circle cx="590.46" cy="350.64" r="0.90" fill="rgb(87,87,87)" />
<rect x="591.5" y="280.4" width="1.0" height="4.6" fill="rgb(76,76,76)"/>
<circle cx="592.04" cy="280.37" r="0.90" fill="rgb(87,87,87)" />
<rect x="592.1" y="343.0" width="1.0" height="8.5" fill="rgb(76,76,76)"/>
<circle cx="592.64" cy="351.52" r="0.90" fill="rgb(87,87,87)" />
<rect x="593.7" y="276.4" width="1.0" height="8.6" fill="rgb(76,76,76)"/>
<circle cx="594.24" cy="276.44" r="0.90" fill="rgb(87,87,87)" />
<rect x="594.3" y="343.0" width="1.0" height="11.4" fill="rgb(76,76,76)"/>
<circle cx="594.84" cy="354.44" r="0.90" fill="rgb(87,87,87)" />
<rect x="596.2" y="277.8" width="1.0" height="7.2" fill="rgb(76,76,76)"/>
<circle cx="596.72" cy="277.76" r="0.90" fill="rgb(87,87,87)" />
<rect x="596.8" y="343.0" width="1.0" height="10.9" fill="rgb(76,76,76)"/>
<circle cx="597.32" cy="353.91" r="0.90" fill="rgb(87,87,87)" />
<rect x="598.7" y="277.1" width="1.0" height="7.9" fill="rgb(76,76,76)"/>
<circle cx="599.25" cy="277.08" r="0.90" fill="rgb(87,87,87)" />
<rect x="599.3" y="343.0" width="1.0" height="11.6" fill="rgb(76,76,76)"/>
<circle cx="599.85" cy="354.56" r="0.90" fill="rgb(87,87,87)" />
<rect x="600.2" y="279.9" width="1.0" height="5.1" fill="rgb(76,76,76)"/>
<circle cx="600.72" cy="279.88" r="0.90" fill="rgb(87,87,87)" />
<rect x="600.8" y="343.0" width="1.0" height="5.4" fill="rgb(76,76,76)"/>
<circle cx="601.32" cy="348.38" r="0.90" fill="rgb(87,87,87)" />
<rect x="603.2" y="275.5" width="1.0" height="9.5" fill="rgb(76,76,76)"/>
<circle cx="603.70" cy="275.48" r="0.90" fill="rgb(87,87,87)" />
<rect x="603.8" y="343.0" width="1.0" height="9.8" fill="rgb(76,76,76)"/>
<circle cx="604.30" cy="352.75" r="0.90" fill="rgb(87,87,87)" />
<rect x="604.9" y="277.0" width="1.0" height="8.0" fill="rgb(76,76,76)"/>
<circle cx="605.43" cy="277.04" r="0.90" fill="rgb(87,87,87)" />
<rect x="605.5" y="343.0" width="1.0" height="11.1" fill="rgb(76,76,76)"/>
<circle cx="606.03" cy="354.10" r="0.90" fill="rgb(87,87,87)" />
<rect x="607.0" y="280.1" width="1.0" height="4.9" fill="rgb(76,76,76)"/>
<circle cx="607.53" cy="280.07" r="0.90" fill="rgb(87,87,87)" />
<rect x="607.6" y="343.0" width="1.0" height="4.4" fill="rgb(76,76,76)"/>
<circle cx="608.13" cy="347.38" r="0.90" fill="rgb(87,87,87)" />
<circle cx="589.27" cy="278.92" r="0.70" fill="rgb(76,76,76)" />
<circle cx="592.11" cy="351.59" r="0.70" fill="rgb(76,76,76)" />
<circle cx="590.37" cy="273.63" r="0.70" fill="rgb(76,76,76)" />
<circle cx="605.09" cy="351.97" r="0.70" fill="rgb(76,76,76)" />
<circle cx="581.56" cy="274.69" r="0.70" fill="rgb(76,76,76)" />
<circle cx="601.02" cy="352.25" r="0.70" fill="rgb(76,76,76)" />
<circle cx="603.66" cy="274.89" r="0.70" fill="rgb(76,76,76)" />
<circle cx="588.37" cy="354.21" r="0.70" fill="rgb(76,76,76)" />
<circle cx="603.75" cy="278.57" r="0.70" fill="rgb(76,76,76)" />
<circle cx="589.46" cy="353.88" r="0.70" fill="rgb(76,76,76)" />
<circle cx="590.05" cy="275.21" r="0.70" fill="rgb(76,76,76)" />
<circle cx="601.52" cy="347.38" r="0.70" fill="rgb(76,76,76)" />
<circle cx="598.26" cy="274.50" r="0.70" fill="rgb(76,76,76)" />
<circle cx="575.17" cy="347.65" r="0.70" fill="rgb(76,76,76)" />
<circle cx="604.97" cy="273.47" r="0.70" fill="rgb(76,76,76)" />
<circle cx="590.30" cy="350.95" r="0.70" fill="rgb(76,76,76)" />
<circle cx="606.02" cy="272.54" r="0.70" fill="rgb(76,76,76)" />
<circle cx="575.84" cy="348.05" r="0.70" fill="rgb(76,76,76)" />
<circle cx="592.60" cy="275.90" r="0.70" fill="rgb(76,76,76)" />
<circle cx="599.47" cy="350.05" r="0.70" fill="rgb(76,76,76)" />
<polygon points="575.3,293.0 584.3,293.0 579.8,299.5" fill="rgb(133,133,133)"/>
<polygon points="585.8,293.0 594.8,293.0 590.3,299.5" fill="rgb(133,133,133)"/>
<polygon points="597.5,293.0 606.5,293.0 602.0,299.5" fill="rgb(133,133,133)"/>
<ellipse cx="576.8" cy="302.0" rx="3.5" ry="2.5" fill="rgb(56,56,56)"/>
<ellipse cx="603.8" cy="302.0" rx="3.5" ry="2.5" fill="rgb(56,56,56)"/>
<ellipse cx="581.7" cy="307.7" rx="3.2" ry="2.3" fill="rgb(163,163,163)"/>
<ellipse cx="581.7" cy="319.2" rx="2.8" ry="2.0" fill="rgb(128,128,128)"/>
<ellipse cx="598.0" cy="307.7" rx="3.2" ry="2.3" fill="rgb(163,163,163)"/>
<ellipse cx="598.0" cy="319.2" rx="2.8" ry="2.0" fill="rgb(128,128,128)"/>
<ellipse cx="590.3" cy="331.0" rx="4.6" ry="6.5" fill="rgb(133,133,133)"/>
<ellipse cx="575.8" cy="334.0" rx="2.6" ry="4" fill="rgb(115,115,115)"/>
<ellipse cx="604.8" cy="334.0" rx="2.6" ry="4" fill="rgb(115,115,115)"/>
<ellipse cx="579.8" cy="325.0" rx="2.0" ry="2.0" fill="rgb(117,117,117)"/>
<ellipse cx="601.8" cy="325.0" rx="2.0" ry="2.0" fill="rgb(117,117,117)"/>
<circle cx="590.30" cy="314.00" r="6.00" fill="rgb(76,76,76)" />
<circle cx="590.30" cy="314.00" r="4.80" fill="rgb(36,36,36)" />
<circle cx="590.30" cy="314.00" r="3.30" fill="rgb(128,128,128)" />
<circle cx="590.30" cy="314.00" r="2.10" fill="rgb(184,184,184)" />
<circle cx="590.30" cy="314.00" r="1.30" fill="rgb(235,235,235)" />
<circle cx="573.30" cy="314.00" r="4.60" fill="rgb(117,117,117)" />
<circle cx="573.30" cy="314.00" r="3.20" fill="rgb(71,71,71)" />
<circle cx="573.30" cy="314.00" r="1.80" fill="rgb(13,13,13)" />
<circle cx="607.30" cy="314.00" r="4.60" fill="rgb(117,117,117)" />
<circle cx="607.30" cy="314.00" r="3.20" fill="rgb(71,71,71)" />
<circle cx="607.30" cy="314.00" r="1.80" fill="rgb(13,13,13)" />
</g></g>
<text x="535.60" y="265.70" font-size="5.3" fill="#e82020" text-anchor="start" font-weight="bold" font-family='"Liberation Sans", sans-serif' >Ti 3C 2</text>
<text x="576.00" y="264.50" font-size="5.3" fill="#60ec40" text-anchor="start" font-weight="bold" font-family='"Liberation Sans", sans-serif' >Ti 3C 2 (N</text>
<text x="575.20" y="271.40" font-size="5.3" fill="#60ec40" text-anchor="start" font-weight="bold" font-family='"Liberation Sans", sans-serif' >0.25O 0.25F</text>
<text x="575.20" y="277.80" font-size="5.3" fill="#60ec40" text-anchor="start" font-weight="bold" font-family='"Liberation Sans", sans-serif' >0.25S 0.25)</text>
<text x="343.30" y="365.20" font-size="10.3" fill="#111" text-anchor="start" font-weight="bold" font-family='"Liberation Sans", sans-serif' >(d)</text>
<path d="M1.3 376.2 L1.3 1.4 L683 1.4 L683 376.2 Z" stroke="#2a2a2a" stroke-width="1.3" stroke-dasharray="3.8 1.2" fill="none"/>
<line x1="331.3" y1="1.4" x2="331.3" y2="376.2" stroke="#2a2a2a" stroke-width="1.3" stroke-dasharray="3.8 1.2" fill="none"/>
<line x1="1.3" y1="143.4" x2="683" y2="143.4" stroke="#2a2a2a" stroke-width="1.3" stroke-dasharray="3.8 1.2" fill="none"/>
</svg></body></html>
